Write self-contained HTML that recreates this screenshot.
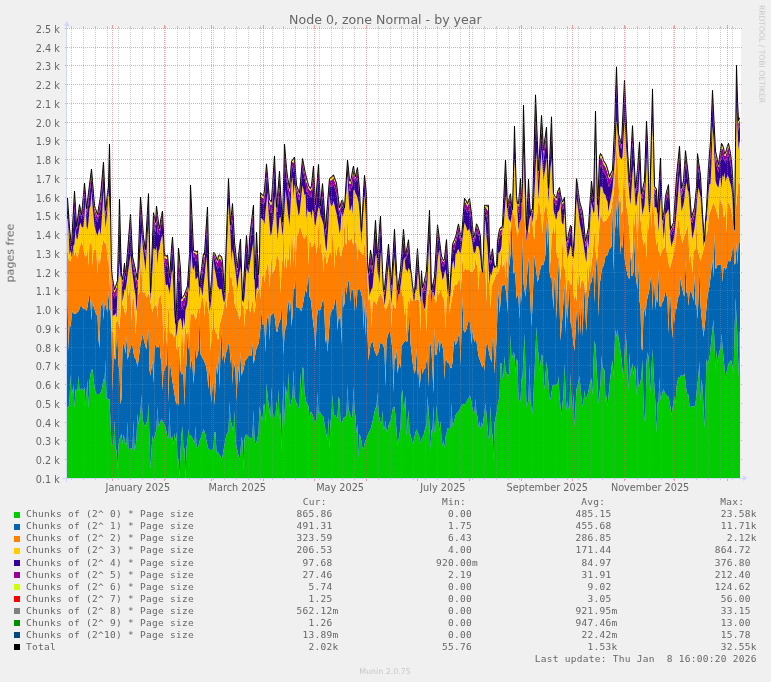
<!DOCTYPE html>
<html><head><meta charset="utf-8"><title>Node 0, zone Normal - by year</title>
<style>html,body{margin:0;padding:0;background:#f0f0f0;}svg{display:block;}</style></head>
<body><svg width="771" height="682" viewBox="0 0 771 682">
<rect width="771" height="682" fill="#f0f0f0"/>
<rect x="67" y="28" width="674" height="450" fill="#ffffff"/>
<polygon points="67,407.3 67.5,407.3 68.5,406.7 69.5,403.5 70.5,374.2 71.5,396.1 72.5,391.3 73.5,384.9 74.5,408.5 75.5,389.3 76.5,389.9 77.5,390.9 78.5,375.3 79.5,390.9 80.5,389.7 81.5,388.3 82.5,389.4 83.5,390.9 84.5,386.6 85.5,406.0 86.5,392.7 87.5,380.1 88.5,408.3 89.5,381.0 90.5,374.3 91.5,369.9 92.5,368.9 93.5,378.5 94.5,386.7 95.5,392.7 96.5,393.6 97.5,395.2 98.5,394.6 99.5,394.4 100.5,392.4 101.5,390.7 102.5,385.8 103.5,378.4 104.5,382.6 105.5,359.6 106.5,398.9 107.5,398.5 108.5,399.5 109.5,398.7 110.5,421.9 111.5,444.9 112.5,444.3 113.5,443.7 114.5,419.8 115.5,448.2 116.5,449.7 117.5,468.2 118.5,444.4 119.5,439.4 120.5,436.6 121.5,433.5 122.5,444.3 123.5,434.5 124.5,439.3 125.5,443.8 126.5,445.1 127.5,421.3 128.5,449.2 129.5,448.9 130.5,448.1 131.5,448.5 132.5,449.2 133.5,419.5 134.5,450.9 135.5,446.4 136.5,438.6 137.5,413.7 138.5,424.4 139.5,418.7 140.5,410.7 141.5,394.8 142.5,418.1 143.5,423.5 144.5,425.5 145.5,425.3 146.5,421.9 147.5,422.2 148.5,402.7 149.5,437.4 150.5,469.3 151.5,449.2 152.5,435.5 153.5,441.0 154.5,436.8 155.5,432.8 156.5,428.6 157.5,406.5 158.5,426.4 159.5,424.7 160.5,421.2 161.5,418.9 162.5,421.1 163.5,422.2 164.5,425.0 165.5,427.8 166.5,431.8 167.5,437.5 168.5,438.1 169.5,407.1 170.5,439.2 171.5,438.4 172.5,435.9 173.5,444.9 174.5,432.9 175.5,441.1 176.5,431.8 177.5,460.9 178.5,458.5 179.5,478.0 180.5,451.2 181.5,434.3 182.5,426.0 183.5,450.2 184.5,447.9 185.5,478.0 186.5,447.3 187.5,441.0 188.5,429.0 189.5,438.6 190.5,434.5 191.5,436.8 192.5,438.3 193.5,440.6 194.5,443.8 195.5,426.0 196.5,447.2 197.5,448.1 198.5,445.2 199.5,441.6 200.5,438.4 201.5,436.0 202.5,432.4 203.5,428.7 204.5,431.5 205.5,435.2 206.5,441.3 207.5,445.6 208.5,448.9 209.5,449.2 210.5,449.9 211.5,450.2 212.5,449.3 213.5,447.4 214.5,432.1 215.5,432.0 216.5,452.5 217.5,451.6 218.5,452.9 219.5,454.9 220.5,456.0 221.5,458.9 222.5,456.3 223.5,450.4 224.5,444.6 225.5,439.4 226.5,434.6 227.5,432.8 228.5,432.2 229.5,401.2 230.5,420.0 231.5,423.5 232.5,427.5 233.5,430.9 234.5,410.4 235.5,440.1 236.5,447.0 237.5,451.2 238.5,455.3 239.5,460.0 240.5,451.8 241.5,436.8 242.5,441.2 243.5,467.9 244.5,437.9 245.5,435.7 246.5,434.3 247.5,436.0 248.5,436.7 249.5,437.4 250.5,438.5 251.5,438.7 252.5,435.8 253.5,409.5 254.5,439.2 255.5,445.1 256.5,442.0 257.5,437.9 258.5,433.0 259.5,405.7 260.5,412.6 261.5,417.9 262.5,420.5 263.5,405.2 264.5,404.0 265.5,422.6 266.5,383.3 267.5,395.3 268.5,403.4 269.5,410.5 270.5,417.9 271.5,386.4 272.5,413.4 273.5,415.6 274.5,417.5 275.5,416.4 276.5,400.4 277.5,416.1 278.5,388.9 279.5,419.8 280.5,411.7 281.5,451.0 282.5,411.5 283.5,379.4 284.5,425.9 285.5,385.7 286.5,392.6 287.5,398.4 288.5,371.8 289.5,406.9 290.5,404.8 291.5,400.7 292.5,397.6 293.5,369.0 294.5,396.7 295.5,400.4 296.5,402.8 297.5,404.6 298.5,408.4 299.5,407.8 300.5,372.2 301.5,398.1 302.5,367.1 303.5,368.5 304.5,393.0 305.5,398.1 306.5,403.1 307.5,404.4 308.5,406.0 309.5,419.3 310.5,411.4 311.5,412.5 312.5,414.7 313.5,417.8 314.5,422.1 315.5,421.4 316.5,418.4 317.5,391.6 318.5,414.1 319.5,411.5 320.5,412.8 321.5,414.9 322.5,415.9 323.5,417.0 324.5,424.6 325.5,431.0 326.5,434.8 327.5,440.2 328.5,416.9 329.5,448.2 330.5,421.4 331.5,415.2 332.5,394.3 333.5,414.5 334.5,414.9 335.5,415.6 336.5,418.1 337.5,418.3 338.5,396.4 339.5,399.8 340.5,421.9 341.5,421.9 342.5,421.3 343.5,418.1 344.5,417.3 345.5,416.7 346.5,414.4 347.5,384.8 348.5,410.8 349.5,411.7 350.5,415.9 351.5,419.2 352.5,414.8 353.5,386.5 354.5,410.1 355.5,417.0 356.5,433.2 357.5,424.1 358.5,458.8 359.5,433.7 360.5,436.7 361.5,441.8 362.5,448.0 363.5,448.9 364.5,444.1 365.5,441.0 366.5,438.3 367.5,436.0 368.5,432.9 369.5,431.3 370.5,429.3 371.5,425.8 372.5,421.8 373.5,417.6 374.5,412.3 375.5,408.0 376.5,406.9 377.5,392.1 378.5,414.2 379.5,418.4 380.5,422.4 381.5,424.2 382.5,410.2 383.5,429.9 384.5,428.8 385.5,420.3 386.5,431.2 387.5,431.2 388.5,425.5 389.5,422.4 390.5,421.0 391.5,416.8 392.5,409.5 393.5,406.9 394.5,406.8 395.5,417.7 396.5,429.5 397.5,444.9 398.5,439.9 399.5,433.8 400.5,428.0 401.5,394.5 402.5,389.7 403.5,411.2 404.5,405.0 405.5,395.9 406.5,436.4 407.5,422.1 408.5,409.8 409.5,432.4 410.5,434.6 411.5,439.5 412.5,443.0 413.5,441.8 414.5,436.8 415.5,432.4 416.5,429.3 417.5,432.3 418.5,434.1 419.5,437.4 420.5,442.8 421.5,439.4 422.5,436.9 423.5,435.7 424.5,431.3 425.5,426.7 426.5,426.4 427.5,395.9 428.5,410.1 429.5,424.0 430.5,450.0 431.5,429.6 432.5,431.5 433.5,405.6 434.5,433.0 435.5,430.5 436.5,404.6 437.5,420.9 438.5,421.1 439.5,431.3 440.5,420.6 441.5,439.4 442.5,444.9 443.5,440.7 444.5,448.1 445.5,436.4 446.5,433.6 447.5,428.3 448.5,428.6 449.5,429.3 450.5,427.7 451.5,402.8 452.5,426.5 453.5,424.0 454.5,419.9 455.5,415.2 456.5,413.7 457.5,412.5 458.5,411.6 459.5,410.0 460.5,407.8 461.5,405.4 462.5,404.3 463.5,404.4 464.5,404.3 465.5,404.1 466.5,401.7 467.5,399.8 468.5,398.7 469.5,395.2 470.5,397.3 471.5,402.2 472.5,408.7 473.5,412.4 474.5,412.1 475.5,398.7 476.5,414.6 477.5,416.1 478.5,427.7 479.5,421.1 480.5,429.6 481.5,422.5 482.5,425.9 483.5,419.2 484.5,411.4 485.5,403.8 486.5,415.1 487.5,427.7 488.5,439.1 489.5,436.2 490.5,405.1 491.5,432.6 492.5,434.5 493.5,461.8 494.5,423.0 495.5,418.3 496.5,413.2 497.5,406.8 498.5,400.4 499.5,396.4 500.5,363.3 501.5,362.9 502.5,380.0 503.5,375.3 504.5,356.0 505.5,372.3 506.5,372.4 507.5,374.7 508.5,376.1 509.5,371.5 510.5,333.9 511.5,361.3 512.5,356.1 513.5,352.2 514.5,354.5 515.5,372.3 516.5,359.0 517.5,360.7 518.5,399.1 519.5,400.9 520.5,401.6 521.5,378.3 522.5,378.6 523.5,355.9 524.5,333.6 525.5,370.7 526.5,407.1 527.5,403.3 528.5,400.1 529.5,364.0 530.5,401.4 531.5,408.0 532.5,414.0 533.5,393.4 534.5,372.0 535.5,349.7 536.5,326.5 537.5,349.4 538.5,353.3 539.5,371.3 540.5,363.0 541.5,354.6 542.5,355.7 543.5,378.5 544.5,389.8 545.5,375.4 546.5,361.2 547.5,372.0 548.5,383.4 549.5,398.7 550.5,399.8 551.5,392.8 552.5,385.8 553.5,384.6 554.5,384.9 555.5,385.9 556.5,383.7 557.5,385.7 558.5,375.9 559.5,396.7 560.5,406.8 561.5,415.2 562.5,403.8 563.5,394.4 564.5,363.7 565.5,388.5 566.5,411.3 567.5,401.0 568.5,409.0 569.5,407.1 570.5,372.9 571.5,402.0 572.5,410.2 573.5,393.8 574.5,427.0 575.5,407.2 576.5,388.6 577.5,386.3 578.5,381.5 579.5,375.7 580.5,387.5 581.5,398.8 582.5,406.3 583.5,402.3 584.5,389.9 585.5,399.6 586.5,397.4 587.5,395.3 588.5,390.7 589.5,385.8 590.5,381.6 591.5,377.8 592.5,395.4 593.5,362.1 594.5,340.6 595.5,345.8 596.5,364.4 597.5,384.0 598.5,404.1 599.5,393.3 600.5,382.8 601.5,355.3 602.5,368.1 603.5,368.2 604.5,370.8 605.5,402.2 606.5,394.9 607.5,406.6 608.5,396.3 609.5,386.0 610.5,377.0 611.5,367.0 612.5,360.3 613.5,376.9 614.5,349.8 615.5,329.3 616.5,336.2 617.5,329.7 618.5,337.9 619.5,344.0 620.5,351.0 621.5,359.4 622.5,370.0 623.5,378.6 624.5,354.3 625.5,332.6 626.5,343.7 627.5,372.7 628.5,390.8 629.5,352.3 630.5,377.2 631.5,370.1 632.5,363.0 633.5,375.1 634.5,365.6 635.5,369.4 636.5,396.5 637.5,364.6 638.5,386.8 639.5,385.1 640.5,381.9 641.5,374.7 642.5,359.5 643.5,403.3 644.5,419.9 645.5,420.4 646.5,362.8 647.5,352.3 648.5,356.4 649.5,373.4 650.5,392.1 651.5,368.7 652.5,348.9 653.5,371.2 654.5,389.6 655.5,404.2 656.5,433.0 657.5,402.1 658.5,403.1 659.5,377.0 660.5,400.5 661.5,396.4 662.5,392.3 663.5,388.7 664.5,392.0 665.5,394.4 666.5,395.0 667.5,396.6 668.5,396.7 669.5,401.9 670.5,407.6 671.5,415.4 672.5,408.6 673.5,401.8 674.5,396.0 675.5,403.9 676.5,386.5 677.5,381.7 678.5,377.0 679.5,378.3 680.5,376.0 681.5,374.7 682.5,376.1 683.5,375.5 684.5,373.2 685.5,382.7 686.5,390.0 687.5,395.6 688.5,394.4 689.5,406.9 690.5,406.9 691.5,406.5 692.5,406.3 693.5,406.6 694.5,405.9 695.5,404.6 696.5,392.8 697.5,384.2 698.5,374.4 699.5,361.0 700.5,402.8 701.5,379.3 702.5,386.9 703.5,406.8 704.5,427.7 705.5,397.7 706.5,358.6 707.5,363.5 708.5,360.7 709.5,358.2 710.5,348.2 711.5,338.3 712.5,329.1 713.5,319.5 714.5,343.3 715.5,369.5 716.5,350.3 717.5,363.1 718.5,355.8 719.5,350.9 720.5,348.7 721.5,333.5 722.5,346.7 723.5,357.3 724.5,367.7 725.5,378.4 726.5,372.5 727.5,368.2 728.5,363.9 729.5,361.9 730.5,360.6 731.5,361.0 732.5,366.6 733.5,373.1 734.5,336.5 735.5,297.2 736.5,318.6 737.5,338.1 738.5,377.5 739.5,331.5 740,331.5 740,478.0 739.5,478.0 738.5,478.0 737.5,478.0 736.5,478.0 735.5,478.0 734.5,478.0 733.5,478.0 732.5,478.0 731.5,478.0 730.5,478.0 729.5,478.0 728.5,478.0 727.5,478.0 726.5,478.0 725.5,478.0 724.5,478.0 723.5,478.0 722.5,478.0 721.5,478.0 720.5,478.0 719.5,478.0 718.5,478.0 717.5,478.0 716.5,478.0 715.5,478.0 714.5,478.0 713.5,478.0 712.5,478.0 711.5,478.0 710.5,478.0 709.5,478.0 708.5,478.0 707.5,478.0 706.5,478.0 705.5,478.0 704.5,478.0 703.5,478.0 702.5,478.0 701.5,478.0 700.5,478.0 699.5,478.0 698.5,478.0 697.5,478.0 696.5,478.0 695.5,478.0 694.5,478.0 693.5,478.0 692.5,478.0 691.5,478.0 690.5,478.0 689.5,478.0 688.5,478.0 687.5,478.0 686.5,478.0 685.5,478.0 684.5,478.0 683.5,478.0 682.5,478.0 681.5,478.0 680.5,478.0 679.5,478.0 678.5,478.0 677.5,478.0 676.5,478.0 675.5,478.0 674.5,478.0 673.5,478.0 672.5,478.0 671.5,478.0 670.5,478.0 669.5,478.0 668.5,478.0 667.5,478.0 666.5,478.0 665.5,478.0 664.5,478.0 663.5,478.0 662.5,478.0 661.5,478.0 660.5,478.0 659.5,478.0 658.5,478.0 657.5,478.0 656.5,478.0 655.5,478.0 654.5,478.0 653.5,478.0 652.5,478.0 651.5,478.0 650.5,478.0 649.5,478.0 648.5,478.0 647.5,478.0 646.5,478.0 645.5,478.0 644.5,478.0 643.5,478.0 642.5,478.0 641.5,478.0 640.5,478.0 639.5,478.0 638.5,478.0 637.5,478.0 636.5,478.0 635.5,478.0 634.5,478.0 633.5,478.0 632.5,478.0 631.5,478.0 630.5,478.0 629.5,478.0 628.5,478.0 627.5,478.0 626.5,478.0 625.5,478.0 624.5,478.0 623.5,478.0 622.5,478.0 621.5,478.0 620.5,478.0 619.5,478.0 618.5,478.0 617.5,478.0 616.5,478.0 615.5,478.0 614.5,478.0 613.5,478.0 612.5,478.0 611.5,478.0 610.5,478.0 609.5,478.0 608.5,478.0 607.5,478.0 606.5,478.0 605.5,478.0 604.5,478.0 603.5,478.0 602.5,478.0 601.5,478.0 600.5,478.0 599.5,478.0 598.5,478.0 597.5,478.0 596.5,478.0 595.5,478.0 594.5,478.0 593.5,478.0 592.5,478.0 591.5,478.0 590.5,478.0 589.5,478.0 588.5,478.0 587.5,478.0 586.5,478.0 585.5,478.0 584.5,478.0 583.5,478.0 582.5,478.0 581.5,478.0 580.5,478.0 579.5,478.0 578.5,478.0 577.5,478.0 576.5,478.0 575.5,478.0 574.5,478.0 573.5,478.0 572.5,478.0 571.5,478.0 570.5,478.0 569.5,478.0 568.5,478.0 567.5,478.0 566.5,478.0 565.5,478.0 564.5,478.0 563.5,478.0 562.5,478.0 561.5,478.0 560.5,478.0 559.5,478.0 558.5,478.0 557.5,478.0 556.5,478.0 555.5,478.0 554.5,478.0 553.5,478.0 552.5,478.0 551.5,478.0 550.5,478.0 549.5,478.0 548.5,478.0 547.5,478.0 546.5,478.0 545.5,478.0 544.5,478.0 543.5,478.0 542.5,478.0 541.5,478.0 540.5,478.0 539.5,478.0 538.5,478.0 537.5,478.0 536.5,478.0 535.5,478.0 534.5,478.0 533.5,478.0 532.5,478.0 531.5,478.0 530.5,478.0 529.5,478.0 528.5,478.0 527.5,478.0 526.5,478.0 525.5,478.0 524.5,478.0 523.5,478.0 522.5,478.0 521.5,478.0 520.5,478.0 519.5,478.0 518.5,478.0 517.5,478.0 516.5,478.0 515.5,478.0 514.5,478.0 513.5,478.0 512.5,478.0 511.5,478.0 510.5,478.0 509.5,478.0 508.5,478.0 507.5,478.0 506.5,478.0 505.5,478.0 504.5,478.0 503.5,478.0 502.5,478.0 501.5,478.0 500.5,478.0 499.5,478.0 498.5,478.0 497.5,478.0 496.5,478.0 495.5,478.0 494.5,478.0 493.5,478.0 492.5,478.0 491.5,478.0 490.5,478.0 489.5,478.0 488.5,478.0 487.5,478.0 486.5,478.0 485.5,478.0 484.5,478.0 483.5,478.0 482.5,478.0 481.5,478.0 480.5,478.0 479.5,478.0 478.5,478.0 477.5,478.0 476.5,478.0 475.5,478.0 474.5,478.0 473.5,478.0 472.5,478.0 471.5,478.0 470.5,478.0 469.5,478.0 468.5,478.0 467.5,478.0 466.5,478.0 465.5,478.0 464.5,478.0 463.5,478.0 462.5,478.0 461.5,478.0 460.5,478.0 459.5,478.0 458.5,478.0 457.5,478.0 456.5,478.0 455.5,478.0 454.5,478.0 453.5,478.0 452.5,478.0 451.5,478.0 450.5,478.0 449.5,478.0 448.5,478.0 447.5,478.0 446.5,478.0 445.5,478.0 444.5,478.0 443.5,478.0 442.5,478.0 441.5,478.0 440.5,478.0 439.5,478.0 438.5,478.0 437.5,478.0 436.5,478.0 435.5,478.0 434.5,478.0 433.5,478.0 432.5,478.0 431.5,478.0 430.5,478.0 429.5,478.0 428.5,478.0 427.5,478.0 426.5,478.0 425.5,478.0 424.5,478.0 423.5,478.0 422.5,478.0 421.5,478.0 420.5,478.0 419.5,478.0 418.5,478.0 417.5,478.0 416.5,478.0 415.5,478.0 414.5,478.0 413.5,478.0 412.5,478.0 411.5,478.0 410.5,478.0 409.5,478.0 408.5,478.0 407.5,478.0 406.5,478.0 405.5,478.0 404.5,478.0 403.5,478.0 402.5,478.0 401.5,478.0 400.5,478.0 399.5,478.0 398.5,478.0 397.5,478.0 396.5,478.0 395.5,478.0 394.5,478.0 393.5,478.0 392.5,478.0 391.5,478.0 390.5,478.0 389.5,478.0 388.5,478.0 387.5,478.0 386.5,478.0 385.5,478.0 384.5,478.0 383.5,478.0 382.5,478.0 381.5,478.0 380.5,478.0 379.5,478.0 378.5,478.0 377.5,478.0 376.5,478.0 375.5,478.0 374.5,478.0 373.5,478.0 372.5,478.0 371.5,478.0 370.5,478.0 369.5,478.0 368.5,478.0 367.5,478.0 366.5,478.0 365.5,478.0 364.5,478.0 363.5,478.0 362.5,478.0 361.5,478.0 360.5,478.0 359.5,478.0 358.5,478.0 357.5,478.0 356.5,478.0 355.5,478.0 354.5,478.0 353.5,478.0 352.5,478.0 351.5,478.0 350.5,478.0 349.5,478.0 348.5,478.0 347.5,478.0 346.5,478.0 345.5,478.0 344.5,478.0 343.5,478.0 342.5,478.0 341.5,478.0 340.5,478.0 339.5,478.0 338.5,478.0 337.5,478.0 336.5,478.0 335.5,478.0 334.5,478.0 333.5,478.0 332.5,478.0 331.5,478.0 330.5,478.0 329.5,478.0 328.5,478.0 327.5,478.0 326.5,478.0 325.5,478.0 324.5,478.0 323.5,478.0 322.5,478.0 321.5,478.0 320.5,478.0 319.5,478.0 318.5,478.0 317.5,478.0 316.5,478.0 315.5,478.0 314.5,478.0 313.5,478.0 312.5,478.0 311.5,478.0 310.5,478.0 309.5,478.0 308.5,478.0 307.5,478.0 306.5,478.0 305.5,478.0 304.5,478.0 303.5,478.0 302.5,478.0 301.5,478.0 300.5,478.0 299.5,478.0 298.5,478.0 297.5,478.0 296.5,478.0 295.5,478.0 294.5,478.0 293.5,478.0 292.5,478.0 291.5,478.0 290.5,478.0 289.5,478.0 288.5,478.0 287.5,478.0 286.5,478.0 285.5,478.0 284.5,478.0 283.5,478.0 282.5,478.0 281.5,478.0 280.5,478.0 279.5,478.0 278.5,478.0 277.5,478.0 276.5,478.0 275.5,478.0 274.5,478.0 273.5,478.0 272.5,478.0 271.5,478.0 270.5,478.0 269.5,478.0 268.5,478.0 267.5,478.0 266.5,478.0 265.5,478.0 264.5,478.0 263.5,478.0 262.5,478.0 261.5,478.0 260.5,478.0 259.5,478.0 258.5,478.0 257.5,478.0 256.5,478.0 255.5,478.0 254.5,478.0 253.5,478.0 252.5,478.0 251.5,478.0 250.5,478.0 249.5,478.0 248.5,478.0 247.5,478.0 246.5,478.0 245.5,478.0 244.5,478.0 243.5,478.0 242.5,478.0 241.5,478.0 240.5,478.0 239.5,478.0 238.5,478.0 237.5,478.0 236.5,478.0 235.5,478.0 234.5,478.0 233.5,478.0 232.5,478.0 231.5,478.0 230.5,478.0 229.5,478.0 228.5,478.0 227.5,478.0 226.5,478.0 225.5,478.0 224.5,478.0 223.5,478.0 222.5,478.0 221.5,478.0 220.5,478.0 219.5,478.0 218.5,478.0 217.5,478.0 216.5,478.0 215.5,478.0 214.5,478.0 213.5,478.0 212.5,478.0 211.5,478.0 210.5,478.0 209.5,478.0 208.5,478.0 207.5,478.0 206.5,478.0 205.5,478.0 204.5,478.0 203.5,478.0 202.5,478.0 201.5,478.0 200.5,478.0 199.5,478.0 198.5,478.0 197.5,478.0 196.5,478.0 195.5,478.0 194.5,478.0 193.5,478.0 192.5,478.0 191.5,478.0 190.5,478.0 189.5,478.0 188.5,478.0 187.5,478.0 186.5,478.0 185.5,478.0 184.5,478.0 183.5,478.0 182.5,478.0 181.5,478.0 180.5,478.0 179.5,478.0 178.5,478.0 177.5,478.0 176.5,478.0 175.5,478.0 174.5,478.0 173.5,478.0 172.5,478.0 171.5,478.0 170.5,478.0 169.5,478.0 168.5,478.0 167.5,478.0 166.5,478.0 165.5,478.0 164.5,478.0 163.5,478.0 162.5,478.0 161.5,478.0 160.5,478.0 159.5,478.0 158.5,478.0 157.5,478.0 156.5,478.0 155.5,478.0 154.5,478.0 153.5,478.0 152.5,478.0 151.5,478.0 150.5,478.0 149.5,478.0 148.5,478.0 147.5,478.0 146.5,478.0 145.5,478.0 144.5,478.0 143.5,478.0 142.5,478.0 141.5,478.0 140.5,478.0 139.5,478.0 138.5,478.0 137.5,478.0 136.5,478.0 135.5,478.0 134.5,478.0 133.5,478.0 132.5,478.0 131.5,478.0 130.5,478.0 129.5,478.0 128.5,478.0 127.5,478.0 126.5,478.0 125.5,478.0 124.5,478.0 123.5,478.0 122.5,478.0 121.5,478.0 120.5,478.0 119.5,478.0 118.5,478.0 117.5,478.0 116.5,478.0 115.5,478.0 114.5,478.0 113.5,478.0 112.5,478.0 111.5,478.0 110.5,478.0 109.5,478.0 108.5,478.0 107.5,478.0 106.5,478.0 105.5,478.0 104.5,478.0 103.5,478.0 102.5,478.0 101.5,478.0 100.5,478.0 99.5,478.0 98.5,478.0 97.5,478.0 96.5,478.0 95.5,478.0 94.5,478.0 93.5,478.0 92.5,478.0 91.5,478.0 90.5,478.0 89.5,478.0 88.5,478.0 87.5,478.0 86.5,478.0 85.5,478.0 84.5,478.0 83.5,478.0 82.5,478.0 81.5,478.0 80.5,478.0 79.5,478.0 78.5,478.0 77.5,478.0 76.5,478.0 75.5,478.0 74.5,478.0 73.5,478.0 72.5,478.0 71.5,478.0 70.5,478.0 69.5,478.0 68.5,478.0 67.5,478.0 67,478.0" fill="#00CC00"/>
<polygon points="67,294.2 67.5,294.2 68.5,350.9 69.5,321.1 70.5,327.6 71.5,317.8 72.5,310.6 73.5,313.2 74.5,314.1 75.5,313.8 76.5,313.2 77.5,312.1 78.5,311.2 79.5,309.3 80.5,306.0 81.5,306.0 82.5,308.3 83.5,308.4 84.5,308.7 85.5,309.4 86.5,311.1 87.5,307.0 88.5,300.6 89.5,293.1 90.5,302.4 91.5,320.6 92.5,300.5 93.5,306.3 94.5,308.9 95.5,312.3 96.5,315.1 97.5,315.3 98.5,339.5 99.5,348.3 100.5,307.5 101.5,304.8 102.5,300.5 103.5,320.0 104.5,303.8 105.5,304.2 106.5,308.2 107.5,312.6 108.5,290.0 109.5,310.6 110.5,309.1 111.5,332.5 112.5,392.2 113.5,356.4 114.5,358.3 115.5,359.8 116.5,341.8 117.5,334.5 118.5,366.2 119.5,369.3 120.5,404.4 121.5,398.5 122.5,347.3 123.5,343.3 124.5,346.4 125.5,354.1 126.5,335.6 127.5,359.8 128.5,356.1 129.5,351.3 130.5,348.5 131.5,343.9 132.5,346.0 133.5,352.7 134.5,357.2 135.5,358.3 136.5,361.8 137.5,366.9 138.5,360.1 139.5,351.9 140.5,344.6 141.5,339.4 142.5,334.1 143.5,338.2 144.5,342.4 145.5,346.2 146.5,349.6 147.5,336.8 148.5,329.0 149.5,369.8 150.5,375.7 151.5,367.2 152.5,361.1 153.5,383.2 154.5,348.9 155.5,343.4 156.5,347.4 157.5,346.8 158.5,347.4 159.5,340.7 160.5,357.6 161.5,362.0 162.5,390.7 163.5,370.2 164.5,370.8 165.5,366.7 166.5,365.8 167.5,334.1 168.5,403.3 169.5,362.2 170.5,365.8 171.5,374.8 172.5,381.9 173.5,387.8 174.5,393.9 175.5,400.4 176.5,404.6 177.5,401.7 178.5,405.8 179.5,350.3 180.5,371.0 181.5,374.4 182.5,373.3 183.5,374.9 184.5,406.5 185.5,371.2 186.5,364.1 187.5,331.9 188.5,349.9 189.5,343.4 190.5,370.0 191.5,358.3 192.5,364.9 193.5,383.9 194.5,369.2 195.5,344.1 196.5,359.1 197.5,354.3 198.5,350.3 199.5,314.6 200.5,354.2 201.5,356.1 202.5,357.9 203.5,359.6 204.5,362.3 205.5,364.6 206.5,368.4 207.5,377.1 208.5,389.2 209.5,364.4 210.5,391.9 211.5,402.5 212.5,385.7 213.5,379.7 214.5,405.6 215.5,385.3 216.5,364.2 217.5,375.0 218.5,355.1 219.5,388.9 220.5,348.5 221.5,327.9 222.5,360.8 223.5,352.4 224.5,364.0 225.5,355.0 226.5,351.4 227.5,348.5 228.5,343.3 229.5,345.7 230.5,364.0 231.5,352.5 232.5,384.9 233.5,360.7 234.5,365.3 235.5,370.9 236.5,401.2 237.5,378.7 238.5,366.0 239.5,383.8 240.5,351.5 241.5,375.8 242.5,372.3 243.5,369.4 244.5,363.9 245.5,359.4 246.5,359.3 247.5,357.7 248.5,355.6 249.5,355.0 250.5,355.9 251.5,355.4 252.5,341.9 253.5,363.8 254.5,359.8 255.5,353.0 256.5,348.6 257.5,346.1 258.5,344.1 259.5,336.6 260.5,328.0 261.5,309.9 262.5,324.5 263.5,324.6 264.5,326.5 265.5,352.6 266.5,322.1 267.5,317.5 268.5,315.2 269.5,340.9 270.5,314.1 271.5,315.5 272.5,313.5 273.5,312.5 274.5,315.5 275.5,323.9 276.5,331.5 277.5,331.7 278.5,324.7 279.5,322.2 280.5,319.3 281.5,304.7 282.5,326.1 283.5,355.0 284.5,332.0 285.5,329.1 286.5,324.8 287.5,306.4 288.5,300.1 289.5,312.0 290.5,299.1 291.5,326.6 292.5,315.8 293.5,287.8 294.5,289.0 295.5,274.4 296.5,307.2 297.5,307.4 298.5,307.6 299.5,308.1 300.5,309.7 301.5,311.3 302.5,306.3 303.5,301.0 304.5,294.8 305.5,289.4 306.5,293.0 307.5,282.7 308.5,274.1 309.5,297.1 310.5,297.9 311.5,305.7 312.5,316.7 313.5,325.5 314.5,331.8 315.5,351.6 316.5,322.6 317.5,312.6 318.5,309.0 319.5,310.9 320.5,309.2 321.5,305.8 322.5,300.9 323.5,298.1 324.5,315.9 325.5,343.1 326.5,337.3 327.5,351.9 328.5,338.3 329.5,323.9 330.5,312.3 331.5,311.6 332.5,308.9 333.5,308.8 334.5,303.8 335.5,297.5 336.5,302.9 337.5,330.7 338.5,316.7 339.5,319.5 340.5,314.2 341.5,345.0 342.5,286.0 343.5,307.7 344.5,303.2 345.5,282.2 346.5,294.9 347.5,284.5 348.5,280.2 349.5,283.8 350.5,302.4 351.5,287.4 352.5,290.5 353.5,289.6 354.5,312.1 355.5,289.0 356.5,309.6 357.5,287.0 358.5,289.7 359.5,288.8 360.5,290.8 361.5,295.2 362.5,297.7 363.5,329.3 364.5,299.1 365.5,336.3 366.5,306.4 367.5,334.2 368.5,360.9 369.5,352.1 370.5,344.5 371.5,342.9 372.5,340.7 373.5,345.9 374.5,350.7 375.5,352.6 376.5,356.3 377.5,354.1 378.5,351.9 379.5,347.5 380.5,342.0 381.5,343.6 382.5,344.1 383.5,346.1 384.5,349.1 385.5,387.1 386.5,341.5 387.5,336.2 388.5,333.5 389.5,330.4 390.5,335.1 391.5,342.5 392.5,350.0 393.5,392.8 394.5,355.4 395.5,359.4 396.5,348.2 397.5,373.4 398.5,366.8 399.5,361.8 400.5,368.3 401.5,345.7 402.5,344.5 403.5,343.1 404.5,341.5 405.5,340.4 406.5,341.7 407.5,341.3 408.5,326.8 409.5,311.7 410.5,343.4 411.5,352.1 412.5,361.4 413.5,368.4 414.5,373.8 415.5,369.8 416.5,347.8 417.5,375.7 418.5,369.6 419.5,388.4 420.5,378.1 421.5,364.3 422.5,374.3 423.5,370.2 424.5,368.7 425.5,367.4 426.5,360.9 427.5,354.9 428.5,387.5 429.5,344.0 430.5,343.5 431.5,349.9 432.5,369.9 433.5,393.8 434.5,326.5 435.5,355.2 436.5,354.4 437.5,346.7 438.5,339.1 439.5,353.1 440.5,341.7 441.5,342.6 442.5,346.3 443.5,352.5 444.5,380.1 445.5,356.5 446.5,360.3 447.5,363.0 448.5,362.8 449.5,365.0 450.5,367.7 451.5,368.2 452.5,362.1 453.5,346.8 454.5,338.7 455.5,345.3 456.5,343.1 457.5,340.4 458.5,335.2 459.5,331.9 460.5,365.5 461.5,329.3 462.5,296.5 463.5,329.9 464.5,332.6 465.5,331.5 466.5,328.9 467.5,324.6 468.5,321.1 469.5,320.9 470.5,327.3 471.5,344.5 472.5,329.2 473.5,337.9 474.5,342.2 475.5,339.4 476.5,341.3 477.5,349.1 478.5,355.9 479.5,359.1 480.5,361.8 481.5,364.9 482.5,367.5 483.5,363.2 484.5,371.0 485.5,353.3 486.5,344.4 487.5,343.0 488.5,349.6 489.5,355.0 490.5,358.3 491.5,362.4 492.5,338.4 493.5,339.7 494.5,374.3 495.5,353.7 496.5,341.8 497.5,309.2 498.5,289.1 499.5,313.3 500.5,302.6 501.5,286.7 502.5,285.6 503.5,285.3 504.5,284.0 505.5,288.1 506.5,294.7 507.5,313.1 508.5,272.1 509.5,263.2 510.5,254.2 511.5,217.1 512.5,249.7 513.5,273.9 514.5,271.1 515.5,277.7 516.5,298.7 517.5,294.4 518.5,296.7 519.5,319.4 520.5,292.2 521.5,302.3 522.5,235.4 523.5,283.0 524.5,289.4 525.5,296.9 526.5,283.6 527.5,269.4 528.5,257.1 529.5,281.9 530.5,303.8 531.5,327.1 532.5,303.5 533.5,277.9 534.5,254.1 535.5,264.9 536.5,272.4 537.5,282.0 538.5,279.1 539.5,273.0 540.5,268.4 541.5,265.1 542.5,264.5 543.5,265.1 544.5,259.9 545.5,254.2 546.5,219.3 547.5,248.3 548.5,219.6 549.5,271.1 550.5,278.5 551.5,275.1 552.5,293.7 553.5,309.1 554.5,277.4 555.5,283.7 556.5,319.6 557.5,290.2 558.5,256.8 559.5,301.3 560.5,340.9 561.5,328.2 562.5,316.1 563.5,299.4 564.5,282.8 565.5,333.9 566.5,303.7 567.5,320.1 568.5,298.9 569.5,280.9 570.5,322.4 571.5,325.5 572.5,335.3 573.5,343.5 574.5,350.9 575.5,332.4 576.5,312.9 577.5,308.6 578.5,336.2 579.5,300.0 580.5,335.5 581.5,299.0 582.5,336.5 583.5,309.0 584.5,284.2 585.5,316.0 586.5,331.2 587.5,302.4 588.5,295.5 589.5,288.3 590.5,283.1 591.5,281.9 592.5,276.0 593.5,266.8 594.5,303.0 595.5,273.0 596.5,259.9 597.5,257.3 598.5,317.3 599.5,284.5 600.5,279.3 601.5,271.2 602.5,267.3 603.5,265.9 604.5,261.9 605.5,256.1 606.5,255.8 607.5,255.0 608.5,251.2 609.5,248.3 610.5,248.2 611.5,246.6 612.5,201.7 613.5,271.2 614.5,233.2 615.5,225.1 616.5,201.6 617.5,230.4 618.5,192.7 619.5,224.2 620.5,254.6 621.5,242.7 622.5,248.6 623.5,222.8 624.5,257.9 625.5,264.1 626.5,269.8 627.5,274.7 628.5,278.0 629.5,278.8 630.5,249.3 631.5,276.2 632.5,275.6 633.5,272.1 634.5,236.4 635.5,274.5 636.5,281.7 637.5,289.8 638.5,261.8 639.5,300.9 640.5,306.5 641.5,348.4 642.5,350.6 643.5,312.1 644.5,308.1 645.5,317.3 646.5,302.2 647.5,298.0 648.5,293.5 649.5,289.0 650.5,279.5 651.5,273.3 652.5,310.9 653.5,282.1 654.5,286.8 655.5,309.2 656.5,297.5 657.5,303.1 658.5,269.1 659.5,305.6 660.5,307.3 661.5,305.2 662.5,302.1 663.5,300.4 664.5,296.0 665.5,290.6 666.5,295.3 667.5,299.1 668.5,333.9 669.5,298.0 670.5,297.3 671.5,324.8 672.5,338.8 673.5,312.3 674.5,323.5 675.5,306.8 676.5,309.4 677.5,300.3 678.5,296.5 679.5,294.8 680.5,276.4 681.5,285.4 682.5,289.3 683.5,294.8 684.5,296.2 685.5,259.4 686.5,293.3 687.5,291.6 688.5,306.2 689.5,293.1 690.5,291.1 691.5,292.4 692.5,296.0 693.5,300.9 694.5,274.4 695.5,304.9 696.5,303.9 697.5,319.5 698.5,296.4 699.5,267.5 700.5,305.6 701.5,316.6 702.5,326.1 703.5,337.0 704.5,327.6 705.5,318.1 706.5,307.3 707.5,295.5 708.5,291.0 709.5,286.1 710.5,277.2 711.5,268.3 712.5,259.7 713.5,277.6 714.5,231.7 715.5,269.0 716.5,268.1 717.5,264.9 718.5,264.8 719.5,264.4 720.5,264.4 721.5,265.3 722.5,282.3 723.5,267.4 724.5,267.6 725.5,269.8 726.5,267.7 727.5,262.4 728.5,260.8 729.5,261.4 730.5,260.9 731.5,255.1 732.5,249.3 733.5,243.4 734.5,264.9 735.5,263.1 736.5,243.3 737.5,264.8 738.5,243.1 739.5,242.9 740,242.9 740,331.5 739.5,331.5 738.5,377.5 737.5,338.1 736.5,318.6 735.5,297.2 734.5,336.5 733.5,373.1 732.5,366.6 731.5,361.0 730.5,360.6 729.5,361.9 728.5,363.9 727.5,368.2 726.5,372.5 725.5,378.4 724.5,367.7 723.5,357.3 722.5,346.7 721.5,333.5 720.5,348.7 719.5,350.9 718.5,355.8 717.5,363.1 716.5,350.3 715.5,369.5 714.5,343.3 713.5,319.5 712.5,329.1 711.5,338.3 710.5,348.2 709.5,358.2 708.5,360.7 707.5,363.5 706.5,358.6 705.5,397.7 704.5,427.7 703.5,406.8 702.5,386.9 701.5,379.3 700.5,402.8 699.5,361.0 698.5,374.4 697.5,384.2 696.5,392.8 695.5,404.6 694.5,405.9 693.5,406.6 692.5,406.3 691.5,406.5 690.5,406.9 689.5,406.9 688.5,394.4 687.5,395.6 686.5,390.0 685.5,382.7 684.5,373.2 683.5,375.5 682.5,376.1 681.5,374.7 680.5,376.0 679.5,378.3 678.5,377.0 677.5,381.7 676.5,386.5 675.5,403.9 674.5,396.0 673.5,401.8 672.5,408.6 671.5,415.4 670.5,407.6 669.5,401.9 668.5,396.7 667.5,396.6 666.5,395.0 665.5,394.4 664.5,392.0 663.5,388.7 662.5,392.3 661.5,396.4 660.5,400.5 659.5,377.0 658.5,403.1 657.5,402.1 656.5,433.0 655.5,404.2 654.5,389.6 653.5,371.2 652.5,348.9 651.5,368.7 650.5,392.1 649.5,373.4 648.5,356.4 647.5,352.3 646.5,362.8 645.5,420.4 644.5,419.9 643.5,403.3 642.5,359.5 641.5,374.7 640.5,381.9 639.5,385.1 638.5,386.8 637.5,364.6 636.5,396.5 635.5,369.4 634.5,365.6 633.5,375.1 632.5,363.0 631.5,370.1 630.5,377.2 629.5,352.3 628.5,390.8 627.5,372.7 626.5,343.7 625.5,332.6 624.5,354.3 623.5,378.6 622.5,370.0 621.5,359.4 620.5,351.0 619.5,344.0 618.5,337.9 617.5,329.7 616.5,336.2 615.5,329.3 614.5,349.8 613.5,376.9 612.5,360.3 611.5,367.0 610.5,377.0 609.5,386.0 608.5,396.3 607.5,406.6 606.5,394.9 605.5,402.2 604.5,370.8 603.5,368.2 602.5,368.1 601.5,355.3 600.5,382.8 599.5,393.3 598.5,404.1 597.5,384.0 596.5,364.4 595.5,345.8 594.5,340.6 593.5,362.1 592.5,395.4 591.5,377.8 590.5,381.6 589.5,385.8 588.5,390.7 587.5,395.3 586.5,397.4 585.5,399.6 584.5,389.9 583.5,402.3 582.5,406.3 581.5,398.8 580.5,387.5 579.5,375.7 578.5,381.5 577.5,386.3 576.5,388.6 575.5,407.2 574.5,427.0 573.5,393.8 572.5,410.2 571.5,402.0 570.5,372.9 569.5,407.1 568.5,409.0 567.5,401.0 566.5,411.3 565.5,388.5 564.5,363.7 563.5,394.4 562.5,403.8 561.5,415.2 560.5,406.8 559.5,396.7 558.5,375.9 557.5,385.7 556.5,383.7 555.5,385.9 554.5,384.9 553.5,384.6 552.5,385.8 551.5,392.8 550.5,399.8 549.5,398.7 548.5,383.4 547.5,372.0 546.5,361.2 545.5,375.4 544.5,389.8 543.5,378.5 542.5,355.7 541.5,354.6 540.5,363.0 539.5,371.3 538.5,353.3 537.5,349.4 536.5,326.5 535.5,349.7 534.5,372.0 533.5,393.4 532.5,414.0 531.5,408.0 530.5,401.4 529.5,364.0 528.5,400.1 527.5,403.3 526.5,407.1 525.5,370.7 524.5,333.6 523.5,355.9 522.5,378.6 521.5,378.3 520.5,401.6 519.5,400.9 518.5,399.1 517.5,360.7 516.5,359.0 515.5,372.3 514.5,354.5 513.5,352.2 512.5,356.1 511.5,361.3 510.5,333.9 509.5,371.5 508.5,376.1 507.5,374.7 506.5,372.4 505.5,372.3 504.5,356.0 503.5,375.3 502.5,380.0 501.5,362.9 500.5,363.3 499.5,396.4 498.5,400.4 497.5,406.8 496.5,413.2 495.5,418.3 494.5,423.0 493.5,461.8 492.5,434.5 491.5,432.6 490.5,405.1 489.5,436.2 488.5,439.1 487.5,427.7 486.5,415.1 485.5,403.8 484.5,411.4 483.5,419.2 482.5,425.9 481.5,422.5 480.5,429.6 479.5,421.1 478.5,427.7 477.5,416.1 476.5,414.6 475.5,398.7 474.5,412.1 473.5,412.4 472.5,408.7 471.5,402.2 470.5,397.3 469.5,395.2 468.5,398.7 467.5,399.8 466.5,401.7 465.5,404.1 464.5,404.3 463.5,404.4 462.5,404.3 461.5,405.4 460.5,407.8 459.5,410.0 458.5,411.6 457.5,412.5 456.5,413.7 455.5,415.2 454.5,419.9 453.5,424.0 452.5,426.5 451.5,402.8 450.5,427.7 449.5,429.3 448.5,428.6 447.5,428.3 446.5,433.6 445.5,436.4 444.5,448.1 443.5,440.7 442.5,444.9 441.5,439.4 440.5,420.6 439.5,431.3 438.5,421.1 437.5,420.9 436.5,404.6 435.5,430.5 434.5,433.0 433.5,405.6 432.5,431.5 431.5,429.6 430.5,450.0 429.5,424.0 428.5,410.1 427.5,395.9 426.5,426.4 425.5,426.7 424.5,431.3 423.5,435.7 422.5,436.9 421.5,439.4 420.5,442.8 419.5,437.4 418.5,434.1 417.5,432.3 416.5,429.3 415.5,432.4 414.5,436.8 413.5,441.8 412.5,443.0 411.5,439.5 410.5,434.6 409.5,432.4 408.5,409.8 407.5,422.1 406.5,436.4 405.5,395.9 404.5,405.0 403.5,411.2 402.5,389.7 401.5,394.5 400.5,428.0 399.5,433.8 398.5,439.9 397.5,444.9 396.5,429.5 395.5,417.7 394.5,406.8 393.5,406.9 392.5,409.5 391.5,416.8 390.5,421.0 389.5,422.4 388.5,425.5 387.5,431.2 386.5,431.2 385.5,420.3 384.5,428.8 383.5,429.9 382.5,410.2 381.5,424.2 380.5,422.4 379.5,418.4 378.5,414.2 377.5,392.1 376.5,406.9 375.5,408.0 374.5,412.3 373.5,417.6 372.5,421.8 371.5,425.8 370.5,429.3 369.5,431.3 368.5,432.9 367.5,436.0 366.5,438.3 365.5,441.0 364.5,444.1 363.5,448.9 362.5,448.0 361.5,441.8 360.5,436.7 359.5,433.7 358.5,458.8 357.5,424.1 356.5,433.2 355.5,417.0 354.5,410.1 353.5,386.5 352.5,414.8 351.5,419.2 350.5,415.9 349.5,411.7 348.5,410.8 347.5,384.8 346.5,414.4 345.5,416.7 344.5,417.3 343.5,418.1 342.5,421.3 341.5,421.9 340.5,421.9 339.5,399.8 338.5,396.4 337.5,418.3 336.5,418.1 335.5,415.6 334.5,414.9 333.5,414.5 332.5,394.3 331.5,415.2 330.5,421.4 329.5,448.2 328.5,416.9 327.5,440.2 326.5,434.8 325.5,431.0 324.5,424.6 323.5,417.0 322.5,415.9 321.5,414.9 320.5,412.8 319.5,411.5 318.5,414.1 317.5,391.6 316.5,418.4 315.5,421.4 314.5,422.1 313.5,417.8 312.5,414.7 311.5,412.5 310.5,411.4 309.5,419.3 308.5,406.0 307.5,404.4 306.5,403.1 305.5,398.1 304.5,393.0 303.5,368.5 302.5,367.1 301.5,398.1 300.5,372.2 299.5,407.8 298.5,408.4 297.5,404.6 296.5,402.8 295.5,400.4 294.5,396.7 293.5,369.0 292.5,397.6 291.5,400.7 290.5,404.8 289.5,406.9 288.5,371.8 287.5,398.4 286.5,392.6 285.5,385.7 284.5,425.9 283.5,379.4 282.5,411.5 281.5,451.0 280.5,411.7 279.5,419.8 278.5,388.9 277.5,416.1 276.5,400.4 275.5,416.4 274.5,417.5 273.5,415.6 272.5,413.4 271.5,386.4 270.5,417.9 269.5,410.5 268.5,403.4 267.5,395.3 266.5,383.3 265.5,422.6 264.5,404.0 263.5,405.2 262.5,420.5 261.5,417.9 260.5,412.6 259.5,405.7 258.5,433.0 257.5,437.9 256.5,442.0 255.5,445.1 254.5,439.2 253.5,409.5 252.5,435.8 251.5,438.7 250.5,438.5 249.5,437.4 248.5,436.7 247.5,436.0 246.5,434.3 245.5,435.7 244.5,437.9 243.5,467.9 242.5,441.2 241.5,436.8 240.5,451.8 239.5,460.0 238.5,455.3 237.5,451.2 236.5,447.0 235.5,440.1 234.5,410.4 233.5,430.9 232.5,427.5 231.5,423.5 230.5,420.0 229.5,401.2 228.5,432.2 227.5,432.8 226.5,434.6 225.5,439.4 224.5,444.6 223.5,450.4 222.5,456.3 221.5,458.9 220.5,456.0 219.5,454.9 218.5,452.9 217.5,451.6 216.5,452.5 215.5,432.0 214.5,432.1 213.5,447.4 212.5,449.3 211.5,450.2 210.5,449.9 209.5,449.2 208.5,448.9 207.5,445.6 206.5,441.3 205.5,435.2 204.5,431.5 203.5,428.7 202.5,432.4 201.5,436.0 200.5,438.4 199.5,441.6 198.5,445.2 197.5,448.1 196.5,447.2 195.5,426.0 194.5,443.8 193.5,440.6 192.5,438.3 191.5,436.8 190.5,434.5 189.5,438.6 188.5,429.0 187.5,441.0 186.5,447.3 185.5,478.0 184.5,447.9 183.5,450.2 182.5,426.0 181.5,434.3 180.5,451.2 179.5,478.0 178.5,458.5 177.5,460.9 176.5,431.8 175.5,441.1 174.5,432.9 173.5,444.9 172.5,435.9 171.5,438.4 170.5,439.2 169.5,407.1 168.5,438.1 167.5,437.5 166.5,431.8 165.5,427.8 164.5,425.0 163.5,422.2 162.5,421.1 161.5,418.9 160.5,421.2 159.5,424.7 158.5,426.4 157.5,406.5 156.5,428.6 155.5,432.8 154.5,436.8 153.5,441.0 152.5,435.5 151.5,449.2 150.5,469.3 149.5,437.4 148.5,402.7 147.5,422.2 146.5,421.9 145.5,425.3 144.5,425.5 143.5,423.5 142.5,418.1 141.5,394.8 140.5,410.7 139.5,418.7 138.5,424.4 137.5,413.7 136.5,438.6 135.5,446.4 134.5,450.9 133.5,419.5 132.5,449.2 131.5,448.5 130.5,448.1 129.5,448.9 128.5,449.2 127.5,421.3 126.5,445.1 125.5,443.8 124.5,439.3 123.5,434.5 122.5,444.3 121.5,433.5 120.5,436.6 119.5,439.4 118.5,444.4 117.5,468.2 116.5,449.7 115.5,448.2 114.5,419.8 113.5,443.7 112.5,444.3 111.5,444.9 110.5,421.9 109.5,398.7 108.5,399.5 107.5,398.5 106.5,398.9 105.5,359.6 104.5,382.6 103.5,378.4 102.5,385.8 101.5,390.7 100.5,392.4 99.5,394.4 98.5,394.6 97.5,395.2 96.5,393.6 95.5,392.7 94.5,386.7 93.5,378.5 92.5,368.9 91.5,369.9 90.5,374.3 89.5,381.0 88.5,408.3 87.5,380.1 86.5,392.7 85.5,406.0 84.5,386.6 83.5,390.9 82.5,389.4 81.5,388.3 80.5,389.7 79.5,390.9 78.5,375.3 77.5,390.9 76.5,389.9 75.5,389.3 74.5,408.5 73.5,384.9 72.5,391.3 71.5,396.1 70.5,374.2 69.5,403.5 68.5,406.7 67.5,407.3 67,407.3" fill="#0066B3"/>
<polygon points="67,251.5 67.5,251.5 68.5,258.9 69.5,260.5 70.5,261.5 71.5,257.7 72.5,252.9 73.5,245.5 74.5,256.1 75.5,250.9 76.5,255.1 77.5,258.3 78.5,252.7 79.5,247.4 80.5,244.8 81.5,242.2 82.5,244.1 83.5,248.8 84.5,254.1 85.5,256.9 86.5,255.6 87.5,246.2 88.5,266.1 89.5,239.6 90.5,244.7 91.5,235.5 92.5,265.6 93.5,247.9 94.5,249.9 95.5,249.7 96.5,250.6 97.5,273.9 98.5,256.0 99.5,264.2 100.5,258.2 101.5,249.2 102.5,243.3 103.5,239.2 104.5,242.5 105.5,243.8 106.5,244.7 107.5,261.8 108.5,252.9 109.5,287.3 110.5,257.6 111.5,330.4 112.5,331.7 113.5,333.4 114.5,358.3 115.5,324.4 116.5,321.6 117.5,320.7 118.5,321.9 119.5,329.6 120.5,309.9 121.5,274.9 122.5,304.4 123.5,307.9 124.5,311.3 125.5,315.6 126.5,309.3 127.5,278.0 128.5,296.3 129.5,290.2 130.5,292.2 131.5,321.7 132.5,295.3 133.5,298.2 134.5,302.4 135.5,335.0 136.5,317.2 137.5,296.4 138.5,293.5 139.5,292.0 140.5,260.6 141.5,267.4 142.5,291.5 143.5,292.6 144.5,291.2 145.5,295.0 146.5,297.3 147.5,296.0 148.5,293.4 149.5,295.3 150.5,301.8 151.5,308.2 152.5,312.1 153.5,307.3 154.5,306.3 155.5,305.5 156.5,302.6 157.5,318.7 158.5,296.5 159.5,297.6 160.5,293.1 161.5,302.2 162.5,307.8 163.5,346.9 164.5,320.7 165.5,321.4 166.5,344.4 167.5,325.2 168.5,300.7 169.5,330.8 170.5,333.6 171.5,333.0 172.5,334.0 173.5,335.7 174.5,337.2 175.5,323.3 176.5,347.5 177.5,350.7 178.5,345.0 179.5,350.3 180.5,367.4 181.5,329.3 182.5,331.1 183.5,357.9 184.5,334.1 185.5,326.3 186.5,334.7 187.5,331.5 188.5,328.5 189.5,343.4 190.5,310.1 191.5,314.0 192.5,314.7 193.5,313.3 194.5,315.2 195.5,320.2 196.5,317.5 197.5,310.8 198.5,306.8 199.5,314.6 200.5,305.0 201.5,300.0 202.5,297.5 203.5,297.8 204.5,316.8 205.5,297.8 206.5,299.7 207.5,305.6 208.5,311.4 209.5,316.6 210.5,350.8 211.5,338.7 212.5,327.0 213.5,300.4 214.5,327.9 215.5,332.4 216.5,332.0 217.5,338.3 218.5,339.6 219.5,324.8 220.5,321.5 221.5,317.7 222.5,314.0 223.5,309.3 224.5,303.0 225.5,297.6 226.5,309.1 227.5,293.0 228.5,292.7 229.5,255.6 230.5,278.2 231.5,275.9 232.5,284.8 233.5,288.7 234.5,303.0 235.5,306.9 236.5,309.2 237.5,310.8 238.5,315.3 239.5,320.3 240.5,314.2 241.5,287.7 242.5,306.1 243.5,303.0 244.5,327.3 245.5,307.0 246.5,309.5 247.5,309.2 248.5,295.9 249.5,310.1 250.5,312.5 251.5,305.4 252.5,298.6 253.5,310.0 254.5,313.0 255.5,305.2 256.5,294.5 257.5,292.8 258.5,290.0 259.5,287.2 260.5,298.9 261.5,279.1 262.5,275.6 263.5,273.6 264.5,282.4 265.5,272.5 266.5,268.8 267.5,263.7 268.5,264.2 269.5,288.3 270.5,269.7 271.5,254.6 272.5,273.7 273.5,270.9 274.5,269.8 275.5,265.2 276.5,256.3 277.5,255.6 278.5,258.4 279.5,264.0 280.5,293.7 281.5,265.8 282.5,259.8 283.5,225.9 284.5,269.0 285.5,252.2 286.5,269.4 287.5,255.8 288.5,261.1 289.5,233.2 290.5,268.1 291.5,234.9 292.5,235.4 293.5,263.7 294.5,235.4 295.5,270.3 296.5,236.8 297.5,235.6 298.5,232.6 299.5,226.8 300.5,227.7 301.5,230.7 302.5,234.1 303.5,237.6 304.5,239.1 305.5,236.4 306.5,235.1 307.5,233.2 308.5,266.1 309.5,234.7 310.5,241.0 311.5,247.0 312.5,246.7 313.5,244.5 314.5,242.4 315.5,243.4 316.5,253.8 317.5,245.2 318.5,216.2 319.5,249.1 320.5,240.0 321.5,251.5 322.5,254.3 323.5,273.1 324.5,249.2 325.5,253.0 326.5,264.2 327.5,261.5 328.5,256.6 329.5,253.4 330.5,250.8 331.5,258.0 332.5,228.6 333.5,242.1 334.5,268.7 335.5,242.4 336.5,256.7 337.5,246.2 338.5,245.5 339.5,250.8 340.5,256.5 341.5,254.9 342.5,248.4 343.5,245.8 344.5,217.2 345.5,242.6 346.5,245.2 347.5,213.5 348.5,239.3 349.5,241.7 350.5,239.1 351.5,237.4 352.5,242.0 353.5,245.2 354.5,225.8 355.5,243.2 356.5,241.2 357.5,260.8 358.5,244.3 359.5,249.6 360.5,251.6 361.5,253.5 362.5,254.2 363.5,254.9 364.5,239.8 365.5,256.6 366.5,257.2 367.5,278.7 368.5,300.8 369.5,298.8 370.5,298.0 371.5,327.3 372.5,302.2 373.5,301.3 374.5,300.9 375.5,302.4 376.5,304.8 377.5,300.6 378.5,297.2 379.5,295.9 380.5,293.1 381.5,295.3 382.5,297.7 383.5,300.3 384.5,306.0 385.5,310.9 386.5,308.0 387.5,305.9 388.5,302.5 389.5,298.4 390.5,294.0 391.5,327.4 392.5,298.4 393.5,304.1 394.5,306.9 395.5,309.4 396.5,273.2 397.5,304.3 398.5,293.9 399.5,294.6 400.5,287.1 401.5,291.3 402.5,295.7 403.5,297.3 404.5,315.2 405.5,299.9 406.5,334.5 407.5,301.8 408.5,299.5 409.5,304.8 410.5,295.5 411.5,300.3 412.5,300.9 413.5,300.3 414.5,299.9 415.5,300.4 416.5,299.3 417.5,299.4 418.5,300.1 419.5,301.0 420.5,331.3 421.5,270.8 422.5,299.9 423.5,305.1 424.5,310.0 425.5,309.0 426.5,331.8 427.5,295.5 428.5,293.9 429.5,288.9 430.5,285.2 431.5,304.6 432.5,292.0 433.5,292.0 434.5,297.6 435.5,303.2 436.5,300.6 437.5,289.5 438.5,295.3 439.5,292.4 440.5,289.3 441.5,291.9 442.5,296.2 443.5,298.3 444.5,301.2 445.5,331.1 446.5,299.0 447.5,295.7 448.5,281.7 449.5,315.1 450.5,305.9 451.5,301.1 452.5,295.1 453.5,288.8 454.5,285.4 455.5,284.3 456.5,285.0 457.5,283.6 458.5,279.9 459.5,276.1 460.5,291.2 461.5,277.4 462.5,255.8 463.5,272.6 464.5,269.2 465.5,267.3 466.5,270.0 467.5,269.2 468.5,269.0 469.5,270.5 470.5,271.5 471.5,272.3 472.5,272.1 473.5,269.7 474.5,268.3 475.5,256.9 476.5,264.6 477.5,266.0 478.5,291.3 479.5,266.2 480.5,270.3 481.5,272.7 482.5,272.3 483.5,270.0 484.5,267.9 485.5,268.2 486.5,303.1 487.5,247.0 488.5,281.6 489.5,285.9 490.5,308.4 491.5,287.6 492.5,283.2 493.5,281.4 494.5,279.2 495.5,275.7 496.5,274.3 497.5,273.6 498.5,272.1 499.5,268.1 500.5,263.8 501.5,246.7 502.5,267.8 503.5,264.3 504.5,259.6 505.5,279.5 506.5,249.2 507.5,279.4 508.5,253.4 509.5,237.1 510.5,227.3 511.5,217.1 512.5,209.7 513.5,216.6 514.5,214.3 515.5,224.2 516.5,230.1 517.5,236.4 518.5,230.8 519.5,222.9 520.5,220.7 521.5,218.5 522.5,183.4 523.5,200.1 524.5,217.2 525.5,230.7 526.5,241.5 527.5,234.9 528.5,230.7 529.5,234.2 530.5,215.6 531.5,209.7 532.5,223.1 533.5,234.3 534.5,239.8 535.5,213.2 536.5,220.6 537.5,210.7 538.5,200.1 539.5,204.0 540.5,211.1 541.5,220.6 542.5,233.8 543.5,216.0 544.5,210.2 545.5,206.4 546.5,203.6 547.5,216.6 548.5,219.6 549.5,247.3 550.5,264.9 551.5,237.2 552.5,231.7 553.5,225.8 554.5,234.5 555.5,218.9 556.5,251.7 557.5,258.2 558.5,256.8 559.5,259.7 560.5,280.6 561.5,262.1 562.5,234.7 563.5,265.7 564.5,268.2 565.5,270.9 566.5,293.4 567.5,277.5 568.5,280.1 569.5,280.9 570.5,283.6 571.5,285.2 572.5,255.9 573.5,293.1 574.5,299.4 575.5,294.4 576.5,301.4 577.5,273.1 578.5,286.1 579.5,268.6 580.5,289.2 581.5,278.9 582.5,280.1 583.5,282.5 584.5,284.2 585.5,293.0 586.5,290.4 587.5,258.3 588.5,283.0 589.5,260.5 590.5,273.0 591.5,262.9 592.5,255.4 593.5,243.0 594.5,226.9 595.5,250.1 596.5,259.9 597.5,257.3 598.5,238.3 599.5,224.0 600.5,214.5 601.5,216.0 602.5,219.6 603.5,222.3 604.5,221.3 605.5,220.8 606.5,220.0 607.5,217.7 608.5,216.0 609.5,215.1 610.5,212.3 611.5,207.3 612.5,200.3 613.5,194.8 614.5,181.8 615.5,169.7 616.5,145.7 617.5,159.1 618.5,180.0 619.5,202.5 620.5,194.6 621.5,215.3 622.5,210.9 623.5,175.1 624.5,186.5 625.5,196.6 626.5,206.2 627.5,212.6 628.5,220.1 629.5,233.7 630.5,248.4 631.5,260.4 632.5,250.5 633.5,209.6 634.5,227.2 635.5,205.8 636.5,218.6 637.5,251.6 638.5,213.6 639.5,182.1 640.5,218.4 641.5,229.2 642.5,237.4 643.5,245.5 644.5,241.9 645.5,237.9 646.5,259.3 647.5,218.6 648.5,230.5 649.5,215.3 650.5,207.7 651.5,228.4 652.5,196.3 653.5,207.8 654.5,221.0 655.5,234.4 656.5,245.6 657.5,238.6 658.5,250.5 659.5,253.2 660.5,256.2 661.5,252.4 662.5,249.8 663.5,248.7 664.5,247.6 665.5,214.3 666.5,251.0 667.5,256.0 668.5,261.4 669.5,268.5 670.5,266.0 671.5,261.9 672.5,258.1 673.5,254.2 674.5,250.3 675.5,242.1 676.5,233.0 677.5,224.9 678.5,218.4 679.5,226.1 680.5,233.5 681.5,238.7 682.5,243.0 683.5,238.5 684.5,235.2 685.5,233.1 686.5,229.6 687.5,224.8 688.5,233.9 689.5,263.4 690.5,253.3 691.5,261.7 692.5,273.6 693.5,250.1 694.5,250.4 695.5,248.7 696.5,222.2 697.5,248.4 698.5,252.6 699.5,257.3 700.5,260.4 701.5,256.7 702.5,253.6 703.5,248.9 704.5,245.5 705.5,220.2 706.5,235.6 707.5,229.4 708.5,221.9 709.5,212.9 710.5,210.6 711.5,208.2 712.5,204.8 713.5,202.3 714.5,204.7 715.5,207.5 716.5,210.9 717.5,215.0 718.5,219.7 719.5,193.8 720.5,199.9 721.5,204.4 722.5,202.0 723.5,216.5 724.5,216.4 725.5,202.1 726.5,233.2 727.5,199.3 728.5,202.8 729.5,205.0 730.5,207.5 731.5,211.1 732.5,217.7 733.5,225.5 734.5,232.8 735.5,213.1 736.5,202.0 737.5,192.0 738.5,180.3 739.5,183.6 740,183.6 740,242.9 739.5,242.9 738.5,243.1 737.5,264.8 736.5,243.3 735.5,263.1 734.5,264.9 733.5,243.4 732.5,249.3 731.5,255.1 730.5,260.9 729.5,261.4 728.5,260.8 727.5,262.4 726.5,267.7 725.5,269.8 724.5,267.6 723.5,267.4 722.5,282.3 721.5,265.3 720.5,264.4 719.5,264.4 718.5,264.8 717.5,264.9 716.5,268.1 715.5,269.0 714.5,231.7 713.5,277.6 712.5,259.7 711.5,268.3 710.5,277.2 709.5,286.1 708.5,291.0 707.5,295.5 706.5,307.3 705.5,318.1 704.5,327.6 703.5,337.0 702.5,326.1 701.5,316.6 700.5,305.6 699.5,267.5 698.5,296.4 697.5,319.5 696.5,303.9 695.5,304.9 694.5,274.4 693.5,300.9 692.5,296.0 691.5,292.4 690.5,291.1 689.5,293.1 688.5,306.2 687.5,291.6 686.5,293.3 685.5,259.4 684.5,296.2 683.5,294.8 682.5,289.3 681.5,285.4 680.5,276.4 679.5,294.8 678.5,296.5 677.5,300.3 676.5,309.4 675.5,306.8 674.5,323.5 673.5,312.3 672.5,338.8 671.5,324.8 670.5,297.3 669.5,298.0 668.5,333.9 667.5,299.1 666.5,295.3 665.5,290.6 664.5,296.0 663.5,300.4 662.5,302.1 661.5,305.2 660.5,307.3 659.5,305.6 658.5,269.1 657.5,303.1 656.5,297.5 655.5,309.2 654.5,286.8 653.5,282.1 652.5,310.9 651.5,273.3 650.5,279.5 649.5,289.0 648.5,293.5 647.5,298.0 646.5,302.2 645.5,317.3 644.5,308.1 643.5,312.1 642.5,350.6 641.5,348.4 640.5,306.5 639.5,300.9 638.5,261.8 637.5,289.8 636.5,281.7 635.5,274.5 634.5,236.4 633.5,272.1 632.5,275.6 631.5,276.2 630.5,249.3 629.5,278.8 628.5,278.0 627.5,274.7 626.5,269.8 625.5,264.1 624.5,257.9 623.5,222.8 622.5,248.6 621.5,242.7 620.5,254.6 619.5,224.2 618.5,192.7 617.5,230.4 616.5,201.6 615.5,225.1 614.5,233.2 613.5,271.2 612.5,201.7 611.5,246.6 610.5,248.2 609.5,248.3 608.5,251.2 607.5,255.0 606.5,255.8 605.5,256.1 604.5,261.9 603.5,265.9 602.5,267.3 601.5,271.2 600.5,279.3 599.5,284.5 598.5,317.3 597.5,257.3 596.5,259.9 595.5,273.0 594.5,303.0 593.5,266.8 592.5,276.0 591.5,281.9 590.5,283.1 589.5,288.3 588.5,295.5 587.5,302.4 586.5,331.2 585.5,316.0 584.5,284.2 583.5,309.0 582.5,336.5 581.5,299.0 580.5,335.5 579.5,300.0 578.5,336.2 577.5,308.6 576.5,312.9 575.5,332.4 574.5,350.9 573.5,343.5 572.5,335.3 571.5,325.5 570.5,322.4 569.5,280.9 568.5,298.9 567.5,320.1 566.5,303.7 565.5,333.9 564.5,282.8 563.5,299.4 562.5,316.1 561.5,328.2 560.5,340.9 559.5,301.3 558.5,256.8 557.5,290.2 556.5,319.6 555.5,283.7 554.5,277.4 553.5,309.1 552.5,293.7 551.5,275.1 550.5,278.5 549.5,271.1 548.5,219.6 547.5,248.3 546.5,219.3 545.5,254.2 544.5,259.9 543.5,265.1 542.5,264.5 541.5,265.1 540.5,268.4 539.5,273.0 538.5,279.1 537.5,282.0 536.5,272.4 535.5,264.9 534.5,254.1 533.5,277.9 532.5,303.5 531.5,327.1 530.5,303.8 529.5,281.9 528.5,257.1 527.5,269.4 526.5,283.6 525.5,296.9 524.5,289.4 523.5,283.0 522.5,235.4 521.5,302.3 520.5,292.2 519.5,319.4 518.5,296.7 517.5,294.4 516.5,298.7 515.5,277.7 514.5,271.1 513.5,273.9 512.5,249.7 511.5,217.1 510.5,254.2 509.5,263.2 508.5,272.1 507.5,313.1 506.5,294.7 505.5,288.1 504.5,284.0 503.5,285.3 502.5,285.6 501.5,286.7 500.5,302.6 499.5,313.3 498.5,289.1 497.5,309.2 496.5,341.8 495.5,353.7 494.5,374.3 493.5,339.7 492.5,338.4 491.5,362.4 490.5,358.3 489.5,355.0 488.5,349.6 487.5,343.0 486.5,344.4 485.5,353.3 484.5,371.0 483.5,363.2 482.5,367.5 481.5,364.9 480.5,361.8 479.5,359.1 478.5,355.9 477.5,349.1 476.5,341.3 475.5,339.4 474.5,342.2 473.5,337.9 472.5,329.2 471.5,344.5 470.5,327.3 469.5,320.9 468.5,321.1 467.5,324.6 466.5,328.9 465.5,331.5 464.5,332.6 463.5,329.9 462.5,296.5 461.5,329.3 460.5,365.5 459.5,331.9 458.5,335.2 457.5,340.4 456.5,343.1 455.5,345.3 454.5,338.7 453.5,346.8 452.5,362.1 451.5,368.2 450.5,367.7 449.5,365.0 448.5,362.8 447.5,363.0 446.5,360.3 445.5,356.5 444.5,380.1 443.5,352.5 442.5,346.3 441.5,342.6 440.5,341.7 439.5,353.1 438.5,339.1 437.5,346.7 436.5,354.4 435.5,355.2 434.5,326.5 433.5,393.8 432.5,369.9 431.5,349.9 430.5,343.5 429.5,344.0 428.5,387.5 427.5,354.9 426.5,360.9 425.5,367.4 424.5,368.7 423.5,370.2 422.5,374.3 421.5,364.3 420.5,378.1 419.5,388.4 418.5,369.6 417.5,375.7 416.5,347.8 415.5,369.8 414.5,373.8 413.5,368.4 412.5,361.4 411.5,352.1 410.5,343.4 409.5,311.7 408.5,326.8 407.5,341.3 406.5,341.7 405.5,340.4 404.5,341.5 403.5,343.1 402.5,344.5 401.5,345.7 400.5,368.3 399.5,361.8 398.5,366.8 397.5,373.4 396.5,348.2 395.5,359.4 394.5,355.4 393.5,392.8 392.5,350.0 391.5,342.5 390.5,335.1 389.5,330.4 388.5,333.5 387.5,336.2 386.5,341.5 385.5,387.1 384.5,349.1 383.5,346.1 382.5,344.1 381.5,343.6 380.5,342.0 379.5,347.5 378.5,351.9 377.5,354.1 376.5,356.3 375.5,352.6 374.5,350.7 373.5,345.9 372.5,340.7 371.5,342.9 370.5,344.5 369.5,352.1 368.5,360.9 367.5,334.2 366.5,306.4 365.5,336.3 364.5,299.1 363.5,329.3 362.5,297.7 361.5,295.2 360.5,290.8 359.5,288.8 358.5,289.7 357.5,287.0 356.5,309.6 355.5,289.0 354.5,312.1 353.5,289.6 352.5,290.5 351.5,287.4 350.5,302.4 349.5,283.8 348.5,280.2 347.5,284.5 346.5,294.9 345.5,282.2 344.5,303.2 343.5,307.7 342.5,286.0 341.5,345.0 340.5,314.2 339.5,319.5 338.5,316.7 337.5,330.7 336.5,302.9 335.5,297.5 334.5,303.8 333.5,308.8 332.5,308.9 331.5,311.6 330.5,312.3 329.5,323.9 328.5,338.3 327.5,351.9 326.5,337.3 325.5,343.1 324.5,315.9 323.5,298.1 322.5,300.9 321.5,305.8 320.5,309.2 319.5,310.9 318.5,309.0 317.5,312.6 316.5,322.6 315.5,351.6 314.5,331.8 313.5,325.5 312.5,316.7 311.5,305.7 310.5,297.9 309.5,297.1 308.5,274.1 307.5,282.7 306.5,293.0 305.5,289.4 304.5,294.8 303.5,301.0 302.5,306.3 301.5,311.3 300.5,309.7 299.5,308.1 298.5,307.6 297.5,307.4 296.5,307.2 295.5,274.4 294.5,289.0 293.5,287.8 292.5,315.8 291.5,326.6 290.5,299.1 289.5,312.0 288.5,300.1 287.5,306.4 286.5,324.8 285.5,329.1 284.5,332.0 283.5,355.0 282.5,326.1 281.5,304.7 280.5,319.3 279.5,322.2 278.5,324.7 277.5,331.7 276.5,331.5 275.5,323.9 274.5,315.5 273.5,312.5 272.5,313.5 271.5,315.5 270.5,314.1 269.5,340.9 268.5,315.2 267.5,317.5 266.5,322.1 265.5,352.6 264.5,326.5 263.5,324.6 262.5,324.5 261.5,309.9 260.5,328.0 259.5,336.6 258.5,344.1 257.5,346.1 256.5,348.6 255.5,353.0 254.5,359.8 253.5,363.8 252.5,341.9 251.5,355.4 250.5,355.9 249.5,355.0 248.5,355.6 247.5,357.7 246.5,359.3 245.5,359.4 244.5,363.9 243.5,369.4 242.5,372.3 241.5,375.8 240.5,351.5 239.5,383.8 238.5,366.0 237.5,378.7 236.5,401.2 235.5,370.9 234.5,365.3 233.5,360.7 232.5,384.9 231.5,352.5 230.5,364.0 229.5,345.7 228.5,343.3 227.5,348.5 226.5,351.4 225.5,355.0 224.5,364.0 223.5,352.4 222.5,360.8 221.5,327.9 220.5,348.5 219.5,388.9 218.5,355.1 217.5,375.0 216.5,364.2 215.5,385.3 214.5,405.6 213.5,379.7 212.5,385.7 211.5,402.5 210.5,391.9 209.5,364.4 208.5,389.2 207.5,377.1 206.5,368.4 205.5,364.6 204.5,362.3 203.5,359.6 202.5,357.9 201.5,356.1 200.5,354.2 199.5,314.6 198.5,350.3 197.5,354.3 196.5,359.1 195.5,344.1 194.5,369.2 193.5,383.9 192.5,364.9 191.5,358.3 190.5,370.0 189.5,343.4 188.5,349.9 187.5,331.9 186.5,364.1 185.5,371.2 184.5,406.5 183.5,374.9 182.5,373.3 181.5,374.4 180.5,371.0 179.5,350.3 178.5,405.8 177.5,401.7 176.5,404.6 175.5,400.4 174.5,393.9 173.5,387.8 172.5,381.9 171.5,374.8 170.5,365.8 169.5,362.2 168.5,403.3 167.5,334.1 166.5,365.8 165.5,366.7 164.5,370.8 163.5,370.2 162.5,390.7 161.5,362.0 160.5,357.6 159.5,340.7 158.5,347.4 157.5,346.8 156.5,347.4 155.5,343.4 154.5,348.9 153.5,383.2 152.5,361.1 151.5,367.2 150.5,375.7 149.5,369.8 148.5,329.0 147.5,336.8 146.5,349.6 145.5,346.2 144.5,342.4 143.5,338.2 142.5,334.1 141.5,339.4 140.5,344.6 139.5,351.9 138.5,360.1 137.5,366.9 136.5,361.8 135.5,358.3 134.5,357.2 133.5,352.7 132.5,346.0 131.5,343.9 130.5,348.5 129.5,351.3 128.5,356.1 127.5,359.8 126.5,335.6 125.5,354.1 124.5,346.4 123.5,343.3 122.5,347.3 121.5,398.5 120.5,404.4 119.5,369.3 118.5,366.2 117.5,334.5 116.5,341.8 115.5,359.8 114.5,358.3 113.5,356.4 112.5,392.2 111.5,332.5 110.5,309.1 109.5,310.6 108.5,290.0 107.5,312.6 106.5,308.2 105.5,304.2 104.5,303.8 103.5,320.0 102.5,300.5 101.5,304.8 100.5,307.5 99.5,348.3 98.5,339.5 97.5,315.3 96.5,315.1 95.5,312.3 94.5,308.9 93.5,306.3 92.5,300.5 91.5,320.6 90.5,302.4 89.5,293.1 88.5,300.6 87.5,307.0 86.5,311.1 85.5,309.4 84.5,308.7 83.5,308.4 82.5,308.3 81.5,306.0 80.5,306.0 79.5,309.3 78.5,311.2 77.5,312.1 76.5,313.2 75.5,313.8 74.5,314.1 73.5,313.2 72.5,310.6 71.5,317.8 70.5,327.6 69.5,321.1 68.5,350.9 67.5,294.2 67,294.2" fill="#FF8000"/>
<polygon points="67,218.8 67.5,218.8 68.5,229.5 69.5,254.6 70.5,250.2 71.5,257.7 72.5,252.9 73.5,245.5 74.5,244.2 75.5,229.1 76.5,238.5 77.5,239.3 78.5,232.9 79.5,226.2 80.5,222.6 81.5,226.5 82.5,227.6 83.5,226.6 84.5,216.2 85.5,196.2 86.5,226.6 87.5,229.6 88.5,221.7 89.5,208.5 90.5,205.7 91.5,190.7 92.5,206.2 93.5,216.1 94.5,225.9 95.5,230.0 96.5,233.6 97.5,236.3 98.5,231.6 99.5,227.9 100.5,235.6 101.5,223.7 102.5,208.7 103.5,190.1 104.5,208.9 105.5,228.8 106.5,219.5 107.5,207.9 108.5,190.6 109.5,206.9 110.5,220.2 111.5,269.4 112.5,315.7 113.5,315.4 114.5,314.9 115.5,312.9 116.5,318.1 117.5,292.2 118.5,277.4 119.5,261.8 120.5,277.2 121.5,274.9 122.5,301.7 123.5,296.0 124.5,289.4 125.5,289.9 126.5,284.0 127.5,276.3 128.5,268.9 129.5,261.8 130.5,254.9 131.5,265.3 132.5,274.5 133.5,281.5 134.5,289.9 135.5,295.3 136.5,312.1 137.5,296.4 138.5,271.9 139.5,267.7 140.5,247.9 141.5,232.7 142.5,244.2 143.5,254.0 144.5,261.9 145.5,272.1 146.5,253.0 147.5,237.3 148.5,223.1 149.5,265.3 150.5,301.8 151.5,287.3 152.5,268.7 153.5,248.6 154.5,248.9 155.5,250.4 156.5,246.0 157.5,265.5 158.5,251.1 159.5,248.8 160.5,241.8 161.5,237.4 162.5,235.3 163.5,256.2 164.5,272.8 165.5,284.3 166.5,285.2 167.5,284.2 168.5,288.4 169.5,294.6 170.5,285.4 171.5,274.3 172.5,269.4 173.5,293.9 174.5,316.1 175.5,323.3 176.5,337.1 177.5,328.8 178.5,321.1 179.5,319.4 180.5,317.9 181.5,320.9 182.5,331.1 183.5,317.3 184.5,327.0 185.5,310.1 186.5,307.0 187.5,302.6 188.5,286.7 189.5,291.7 190.5,266.0 191.5,251.1 192.5,267.6 193.5,270.6 194.5,265.0 195.5,279.6 196.5,278.7 197.5,276.4 198.5,279.7 199.5,298.5 200.5,286.4 201.5,290.8 202.5,296.2 203.5,286.1 204.5,277.6 205.5,266.4 206.5,256.3 207.5,275.2 208.5,290.0 209.5,312.8 210.5,305.9 211.5,298.1 212.5,285.7 213.5,258.1 214.5,268.7 215.5,273.2 216.5,278.9 217.5,286.2 218.5,287.6 219.5,289.7 220.5,289.1 221.5,289.1 222.5,296.0 223.5,301.6 224.5,301.9 225.5,297.6 226.5,254.1 227.5,235.1 228.5,203.1 229.5,218.0 230.5,235.5 231.5,261.3 232.5,249.3 233.5,255.6 234.5,264.2 235.5,271.8 236.5,280.8 237.5,289.2 238.5,278.2 239.5,272.9 240.5,266.6 241.5,283.2 242.5,300.2 243.5,303.0 244.5,297.2 245.5,282.4 246.5,267.9 247.5,270.8 248.5,273.8 249.5,266.5 250.5,259.4 251.5,252.7 252.5,246.4 253.5,240.2 254.5,279.1 255.5,304.5 256.5,288.9 257.5,286.9 258.5,290.0 259.5,254.7 260.5,218.4 261.5,218.2 262.5,219.6 263.5,220.5 264.5,224.2 265.5,212.0 266.5,202.5 267.5,192.6 268.5,211.9 269.5,224.7 270.5,235.8 271.5,233.8 272.5,226.3 273.5,219.1 274.5,201.1 275.5,193.8 276.5,221.8 277.5,240.6 278.5,229.6 279.5,217.8 280.5,216.8 281.5,226.5 282.5,236.3 283.5,225.9 284.5,210.0 285.5,189.4 286.5,198.4 287.5,209.5 288.5,217.7 289.5,226.4 290.5,208.3 291.5,183.2 292.5,176.9 293.5,198.1 294.5,184.0 295.5,190.0 296.5,202.7 297.5,208.4 298.5,215.5 299.5,213.7 300.5,204.6 301.5,194.4 302.5,185.5 303.5,189.8 304.5,195.6 305.5,193.4 306.5,219.0 307.5,208.9 308.5,212.1 309.5,211.9 310.5,211.4 311.5,218.8 312.5,209.2 313.5,211.9 314.5,223.4 315.5,226.1 316.5,218.5 317.5,212.6 318.5,206.9 319.5,209.0 320.5,215.9 321.5,218.0 322.5,221.2 323.5,224.7 324.5,235.2 325.5,246.4 326.5,251.6 327.5,237.9 328.5,223.1 329.5,194.9 330.5,204.3 331.5,206.2 332.5,205.1 333.5,201.1 334.5,205.3 335.5,209.7 336.5,213.6 337.5,219.6 338.5,224.9 339.5,234.1 340.5,229.5 341.5,211.9 342.5,216.8 343.5,213.3 344.5,208.6 345.5,199.3 346.5,191.3 347.5,174.7 348.5,195.4 349.5,210.4 350.5,210.1 351.5,204.7 352.5,214.2 353.5,190.2 354.5,189.5 355.5,193.6 356.5,194.9 357.5,197.9 358.5,202.3 359.5,213.2 360.5,228.6 361.5,244.4 362.5,220.6 363.5,210.1 364.5,194.6 365.5,212.2 366.5,232.0 367.5,261.7 368.5,281.1 369.5,296.6 370.5,292.2 371.5,289.0 372.5,288.3 373.5,277.3 374.5,267.1 375.5,256.2 376.5,253.3 377.5,271.0 378.5,276.0 379.5,284.1 380.5,256.7 381.5,247.9 382.5,270.3 383.5,291.3 384.5,306.0 385.5,299.1 386.5,289.2 387.5,277.0 388.5,264.3 389.5,276.8 390.5,292.0 391.5,304.5 392.5,288.1 393.5,272.0 394.5,256.7 395.5,276.9 396.5,273.2 397.5,304.3 398.5,293.9 399.5,294.6 400.5,286.2 401.5,279.0 402.5,270.5 403.5,260.6 404.5,257.2 405.5,268.7 406.5,269.7 407.5,272.3 408.5,267.8 409.5,269.6 410.5,271.6 411.5,274.8 412.5,290.4 413.5,300.3 414.5,299.9 415.5,289.1 416.5,290.4 417.5,276.3 418.5,271.7 419.5,288.6 420.5,304.4 421.5,270.8 422.5,299.9 423.5,305.1 424.5,309.5 425.5,306.5 426.5,291.9 427.5,281.3 428.5,256.0 429.5,240.2 430.5,282.8 431.5,304.6 432.5,292.0 433.5,292.0 434.5,297.6 435.5,288.6 436.5,275.8 437.5,261.9 438.5,253.9 439.5,249.2 440.5,269.5 441.5,272.9 442.5,279.9 443.5,277.8 444.5,272.8 445.5,269.6 446.5,278.7 447.5,295.6 448.5,281.7 449.5,306.3 450.5,290.8 451.5,276.0 452.5,263.7 453.5,260.5 454.5,270.4 455.5,254.8 456.5,253.6 457.5,250.3 458.5,248.9 459.5,252.2 460.5,253.6 461.5,248.6 462.5,238.6 463.5,230.6 464.5,222.6 465.5,224.9 466.5,227.8 467.5,231.2 468.5,229.4 469.5,229.2 470.5,233.0 471.5,237.8 472.5,244.7 473.5,251.7 474.5,253.3 475.5,251.6 476.5,245.7 477.5,245.9 478.5,246.6 479.5,250.7 480.5,257.4 481.5,265.9 482.5,272.3 483.5,251.7 484.5,232.0 485.5,219.2 486.5,236.9 487.5,247.0 488.5,265.0 489.5,285.9 490.5,272.9 491.5,275.4 492.5,270.6 493.5,265.3 494.5,267.6 495.5,267.0 496.5,264.9 497.5,269.3 498.5,253.1 499.5,252.3 500.5,250.8 501.5,246.5 502.5,227.2 503.5,228.4 504.5,215.1 505.5,201.3 506.5,193.5 507.5,210.9 508.5,218.7 509.5,220.1 510.5,222.4 511.5,217.1 512.5,209.7 513.5,183.0 514.5,157.9 515.5,177.4 516.5,196.5 517.5,214.0 518.5,230.8 519.5,222.9 520.5,220.7 521.5,217.2 522.5,183.4 523.5,151.0 524.5,183.9 525.5,217.1 526.5,241.5 527.5,234.9 528.5,226.2 529.5,219.1 530.5,215.6 531.5,209.7 532.5,223.1 533.5,215.2 534.5,192.6 535.5,170.5 536.5,151.8 537.5,176.0 538.5,200.1 539.5,184.3 540.5,165.9 541.5,149.4 542.5,164.7 543.5,181.6 544.5,173.3 545.5,167.4 546.5,157.4 547.5,181.0 548.5,203.4 549.5,184.1 550.5,167.5 551.5,159.3 552.5,179.9 553.5,209.8 554.5,214.3 555.5,218.6 556.5,219.4 557.5,212.6 558.5,211.1 559.5,209.6 560.5,200.7 561.5,221.1 562.5,224.0 563.5,224.5 564.5,210.0 565.5,230.6 566.5,246.2 567.5,259.1 568.5,254.8 569.5,250.4 570.5,245.2 571.5,247.2 572.5,255.9 573.5,258.9 574.5,248.6 575.5,223.4 576.5,198.1 577.5,205.0 578.5,212.7 579.5,221.5 580.5,226.9 581.5,232.3 582.5,238.2 583.5,244.1 584.5,251.1 585.5,258.3 586.5,262.4 587.5,238.0 588.5,249.0 589.5,231.9 590.5,216.6 591.5,202.8 592.5,208.3 593.5,213.7 594.5,211.0 595.5,134.8 596.5,175.9 597.5,204.5 598.5,222.9 599.5,205.2 600.5,186.5 601.5,186.8 602.5,187.8 603.5,192.8 604.5,194.0 605.5,195.3 606.5,199.5 607.5,201.5 608.5,212.0 609.5,205.0 610.5,200.3 611.5,194.7 612.5,189.1 613.5,176.8 614.5,165.0 615.5,152.5 616.5,120.0 617.5,131.6 618.5,145.5 619.5,156.5 620.5,158.0 621.5,159.5 622.5,157.1 623.5,138.4 624.5,120.9 625.5,137.2 626.5,152.8 627.5,170.5 628.5,184.5 629.5,197.6 630.5,205.1 631.5,189.2 632.5,173.6 633.5,164.7 634.5,189.2 635.5,205.8 636.5,205.3 637.5,196.6 638.5,191.4 639.5,169.2 640.5,191.7 641.5,205.0 642.5,215.1 643.5,209.2 644.5,205.5 645.5,186.9 646.5,169.1 647.5,141.9 648.5,199.0 649.5,215.3 650.5,197.5 651.5,158.2 652.5,119.1 653.5,163.4 654.5,207.6 655.5,207.2 656.5,207.4 657.5,212.3 658.5,232.4 659.5,216.2 660.5,201.0 661.5,194.2 662.5,219.5 663.5,239.9 664.5,230.8 665.5,214.3 666.5,212.9 667.5,211.0 668.5,209.1 669.5,224.7 670.5,239.5 671.5,247.3 672.5,242.5 673.5,240.1 674.5,235.3 675.5,224.5 676.5,212.4 677.5,202.2 678.5,188.7 679.5,174.1 680.5,193.1 681.5,211.8 682.5,208.1 683.5,204.5 684.5,198.1 685.5,187.4 686.5,182.1 687.5,189.4 688.5,191.7 689.5,206.1 690.5,217.2 691.5,230.0 692.5,238.9 693.5,233.2 694.5,228.3 695.5,219.2 696.5,209.9 697.5,195.1 698.5,187.5 699.5,192.0 700.5,196.6 701.5,212.2 702.5,225.5 703.5,246.7 704.5,241.3 705.5,220.2 706.5,221.4 707.5,207.6 708.5,193.8 709.5,183.7 710.5,184.6 711.5,164.1 712.5,126.1 713.5,139.7 714.5,158.9 715.5,180.8 716.5,184.3 717.5,186.4 718.5,187.4 719.5,180.2 720.5,177.0 721.5,188.6 722.5,175.0 723.5,177.7 724.5,172.4 725.5,182.2 726.5,178.2 727.5,175.0 728.5,177.1 729.5,180.9 730.5,183.9 731.5,189.1 732.5,198.0 733.5,223.9 734.5,232.8 735.5,169.5 736.5,106.8 737.5,128.3 738.5,150.1 739.5,141.7 740,141.7 740,183.6 739.5,183.6 738.5,180.3 737.5,192.0 736.5,202.0 735.5,213.1 734.5,232.8 733.5,225.5 732.5,217.7 731.5,211.1 730.5,207.5 729.5,205.0 728.5,202.8 727.5,199.3 726.5,233.2 725.5,202.1 724.5,216.4 723.5,216.5 722.5,202.0 721.5,204.4 720.5,199.9 719.5,193.8 718.5,219.7 717.5,215.0 716.5,210.9 715.5,207.5 714.5,204.7 713.5,202.3 712.5,204.8 711.5,208.2 710.5,210.6 709.5,212.9 708.5,221.9 707.5,229.4 706.5,235.6 705.5,220.2 704.5,245.5 703.5,248.9 702.5,253.6 701.5,256.7 700.5,260.4 699.5,257.3 698.5,252.6 697.5,248.4 696.5,222.2 695.5,248.7 694.5,250.4 693.5,250.1 692.5,273.6 691.5,261.7 690.5,253.3 689.5,263.4 688.5,233.9 687.5,224.8 686.5,229.6 685.5,233.1 684.5,235.2 683.5,238.5 682.5,243.0 681.5,238.7 680.5,233.5 679.5,226.1 678.5,218.4 677.5,224.9 676.5,233.0 675.5,242.1 674.5,250.3 673.5,254.2 672.5,258.1 671.5,261.9 670.5,266.0 669.5,268.5 668.5,261.4 667.5,256.0 666.5,251.0 665.5,214.3 664.5,247.6 663.5,248.7 662.5,249.8 661.5,252.4 660.5,256.2 659.5,253.2 658.5,250.5 657.5,238.6 656.5,245.6 655.5,234.4 654.5,221.0 653.5,207.8 652.5,196.3 651.5,228.4 650.5,207.7 649.5,215.3 648.5,230.5 647.5,218.6 646.5,259.3 645.5,237.9 644.5,241.9 643.5,245.5 642.5,237.4 641.5,229.2 640.5,218.4 639.5,182.1 638.5,213.6 637.5,251.6 636.5,218.6 635.5,205.8 634.5,227.2 633.5,209.6 632.5,250.5 631.5,260.4 630.5,248.4 629.5,233.7 628.5,220.1 627.5,212.6 626.5,206.2 625.5,196.6 624.5,186.5 623.5,175.1 622.5,210.9 621.5,215.3 620.5,194.6 619.5,202.5 618.5,180.0 617.5,159.1 616.5,145.7 615.5,169.7 614.5,181.8 613.5,194.8 612.5,200.3 611.5,207.3 610.5,212.3 609.5,215.1 608.5,216.0 607.5,217.7 606.5,220.0 605.5,220.8 604.5,221.3 603.5,222.3 602.5,219.6 601.5,216.0 600.5,214.5 599.5,224.0 598.5,238.3 597.5,257.3 596.5,259.9 595.5,250.1 594.5,226.9 593.5,243.0 592.5,255.4 591.5,262.9 590.5,273.0 589.5,260.5 588.5,283.0 587.5,258.3 586.5,290.4 585.5,293.0 584.5,284.2 583.5,282.5 582.5,280.1 581.5,278.9 580.5,289.2 579.5,268.6 578.5,286.1 577.5,273.1 576.5,301.4 575.5,294.4 574.5,299.4 573.5,293.1 572.5,255.9 571.5,285.2 570.5,283.6 569.5,280.9 568.5,280.1 567.5,277.5 566.5,293.4 565.5,270.9 564.5,268.2 563.5,265.7 562.5,234.7 561.5,262.1 560.5,280.6 559.5,259.7 558.5,256.8 557.5,258.2 556.5,251.7 555.5,218.9 554.5,234.5 553.5,225.8 552.5,231.7 551.5,237.2 550.5,264.9 549.5,247.3 548.5,219.6 547.5,216.6 546.5,203.6 545.5,206.4 544.5,210.2 543.5,216.0 542.5,233.8 541.5,220.6 540.5,211.1 539.5,204.0 538.5,200.1 537.5,210.7 536.5,220.6 535.5,213.2 534.5,239.8 533.5,234.3 532.5,223.1 531.5,209.7 530.5,215.6 529.5,234.2 528.5,230.7 527.5,234.9 526.5,241.5 525.5,230.7 524.5,217.2 523.5,200.1 522.5,183.4 521.5,218.5 520.5,220.7 519.5,222.9 518.5,230.8 517.5,236.4 516.5,230.1 515.5,224.2 514.5,214.3 513.5,216.6 512.5,209.7 511.5,217.1 510.5,227.3 509.5,237.1 508.5,253.4 507.5,279.4 506.5,249.2 505.5,279.5 504.5,259.6 503.5,264.3 502.5,267.8 501.5,246.7 500.5,263.8 499.5,268.1 498.5,272.1 497.5,273.6 496.5,274.3 495.5,275.7 494.5,279.2 493.5,281.4 492.5,283.2 491.5,287.6 490.5,308.4 489.5,285.9 488.5,281.6 487.5,247.0 486.5,303.1 485.5,268.2 484.5,267.9 483.5,270.0 482.5,272.3 481.5,272.7 480.5,270.3 479.5,266.2 478.5,291.3 477.5,266.0 476.5,264.6 475.5,256.9 474.5,268.3 473.5,269.7 472.5,272.1 471.5,272.3 470.5,271.5 469.5,270.5 468.5,269.0 467.5,269.2 466.5,270.0 465.5,267.3 464.5,269.2 463.5,272.6 462.5,255.8 461.5,277.4 460.5,291.2 459.5,276.1 458.5,279.9 457.5,283.6 456.5,285.0 455.5,284.3 454.5,285.4 453.5,288.8 452.5,295.1 451.5,301.1 450.5,305.9 449.5,315.1 448.5,281.7 447.5,295.7 446.5,299.0 445.5,331.1 444.5,301.2 443.5,298.3 442.5,296.2 441.5,291.9 440.5,289.3 439.5,292.4 438.5,295.3 437.5,289.5 436.5,300.6 435.5,303.2 434.5,297.6 433.5,292.0 432.5,292.0 431.5,304.6 430.5,285.2 429.5,288.9 428.5,293.9 427.5,295.5 426.5,331.8 425.5,309.0 424.5,310.0 423.5,305.1 422.5,299.9 421.5,270.8 420.5,331.3 419.5,301.0 418.5,300.1 417.5,299.4 416.5,299.3 415.5,300.4 414.5,299.9 413.5,300.3 412.5,300.9 411.5,300.3 410.5,295.5 409.5,304.8 408.5,299.5 407.5,301.8 406.5,334.5 405.5,299.9 404.5,315.2 403.5,297.3 402.5,295.7 401.5,291.3 400.5,287.1 399.5,294.6 398.5,293.9 397.5,304.3 396.5,273.2 395.5,309.4 394.5,306.9 393.5,304.1 392.5,298.4 391.5,327.4 390.5,294.0 389.5,298.4 388.5,302.5 387.5,305.9 386.5,308.0 385.5,310.9 384.5,306.0 383.5,300.3 382.5,297.7 381.5,295.3 380.5,293.1 379.5,295.9 378.5,297.2 377.5,300.6 376.5,304.8 375.5,302.4 374.5,300.9 373.5,301.3 372.5,302.2 371.5,327.3 370.5,298.0 369.5,298.8 368.5,300.8 367.5,278.7 366.5,257.2 365.5,256.6 364.5,239.8 363.5,254.9 362.5,254.2 361.5,253.5 360.5,251.6 359.5,249.6 358.5,244.3 357.5,260.8 356.5,241.2 355.5,243.2 354.5,225.8 353.5,245.2 352.5,242.0 351.5,237.4 350.5,239.1 349.5,241.7 348.5,239.3 347.5,213.5 346.5,245.2 345.5,242.6 344.5,217.2 343.5,245.8 342.5,248.4 341.5,254.9 340.5,256.5 339.5,250.8 338.5,245.5 337.5,246.2 336.5,256.7 335.5,242.4 334.5,268.7 333.5,242.1 332.5,228.6 331.5,258.0 330.5,250.8 329.5,253.4 328.5,256.6 327.5,261.5 326.5,264.2 325.5,253.0 324.5,249.2 323.5,273.1 322.5,254.3 321.5,251.5 320.5,240.0 319.5,249.1 318.5,216.2 317.5,245.2 316.5,253.8 315.5,243.4 314.5,242.4 313.5,244.5 312.5,246.7 311.5,247.0 310.5,241.0 309.5,234.7 308.5,266.1 307.5,233.2 306.5,235.1 305.5,236.4 304.5,239.1 303.5,237.6 302.5,234.1 301.5,230.7 300.5,227.7 299.5,226.8 298.5,232.6 297.5,235.6 296.5,236.8 295.5,270.3 294.5,235.4 293.5,263.7 292.5,235.4 291.5,234.9 290.5,268.1 289.5,233.2 288.5,261.1 287.5,255.8 286.5,269.4 285.5,252.2 284.5,269.0 283.5,225.9 282.5,259.8 281.5,265.8 280.5,293.7 279.5,264.0 278.5,258.4 277.5,255.6 276.5,256.3 275.5,265.2 274.5,269.8 273.5,270.9 272.5,273.7 271.5,254.6 270.5,269.7 269.5,288.3 268.5,264.2 267.5,263.7 266.5,268.8 265.5,272.5 264.5,282.4 263.5,273.6 262.5,275.6 261.5,279.1 260.5,298.9 259.5,287.2 258.5,290.0 257.5,292.8 256.5,294.5 255.5,305.2 254.5,313.0 253.5,310.0 252.5,298.6 251.5,305.4 250.5,312.5 249.5,310.1 248.5,295.9 247.5,309.2 246.5,309.5 245.5,307.0 244.5,327.3 243.5,303.0 242.5,306.1 241.5,287.7 240.5,314.2 239.5,320.3 238.5,315.3 237.5,310.8 236.5,309.2 235.5,306.9 234.5,303.0 233.5,288.7 232.5,284.8 231.5,275.9 230.5,278.2 229.5,255.6 228.5,292.7 227.5,293.0 226.5,309.1 225.5,297.6 224.5,303.0 223.5,309.3 222.5,314.0 221.5,317.7 220.5,321.5 219.5,324.8 218.5,339.6 217.5,338.3 216.5,332.0 215.5,332.4 214.5,327.9 213.5,300.4 212.5,327.0 211.5,338.7 210.5,350.8 209.5,316.6 208.5,311.4 207.5,305.6 206.5,299.7 205.5,297.8 204.5,316.8 203.5,297.8 202.5,297.5 201.5,300.0 200.5,305.0 199.5,314.6 198.5,306.8 197.5,310.8 196.5,317.5 195.5,320.2 194.5,315.2 193.5,313.3 192.5,314.7 191.5,314.0 190.5,310.1 189.5,343.4 188.5,328.5 187.5,331.5 186.5,334.7 185.5,326.3 184.5,334.1 183.5,357.9 182.5,331.1 181.5,329.3 180.5,367.4 179.5,350.3 178.5,345.0 177.5,350.7 176.5,347.5 175.5,323.3 174.5,337.2 173.5,335.7 172.5,334.0 171.5,333.0 170.5,333.6 169.5,330.8 168.5,300.7 167.5,325.2 166.5,344.4 165.5,321.4 164.5,320.7 163.5,346.9 162.5,307.8 161.5,302.2 160.5,293.1 159.5,297.6 158.5,296.5 157.5,318.7 156.5,302.6 155.5,305.5 154.5,306.3 153.5,307.3 152.5,312.1 151.5,308.2 150.5,301.8 149.5,295.3 148.5,293.4 147.5,296.0 146.5,297.3 145.5,295.0 144.5,291.2 143.5,292.6 142.5,291.5 141.5,267.4 140.5,260.6 139.5,292.0 138.5,293.5 137.5,296.4 136.5,317.2 135.5,335.0 134.5,302.4 133.5,298.2 132.5,295.3 131.5,321.7 130.5,292.2 129.5,290.2 128.5,296.3 127.5,278.0 126.5,309.3 125.5,315.6 124.5,311.3 123.5,307.9 122.5,304.4 121.5,274.9 120.5,309.9 119.5,329.6 118.5,321.9 117.5,320.7 116.5,321.6 115.5,324.4 114.5,358.3 113.5,333.4 112.5,331.7 111.5,330.4 110.5,257.6 109.5,287.3 108.5,252.9 107.5,261.8 106.5,244.7 105.5,243.8 104.5,242.5 103.5,239.2 102.5,243.3 101.5,249.2 100.5,258.2 99.5,264.2 98.5,256.0 97.5,273.9 96.5,250.6 95.5,249.7 94.5,249.9 93.5,247.9 92.5,265.6 91.5,235.5 90.5,244.7 89.5,239.6 88.5,266.1 87.5,246.2 86.5,255.6 85.5,256.9 84.5,254.1 83.5,248.8 82.5,244.1 81.5,242.2 80.5,244.8 79.5,247.4 78.5,252.7 77.5,258.3 76.5,255.1 75.5,250.9 74.5,256.1 73.5,245.5 72.5,252.9 71.5,257.7 70.5,261.5 69.5,260.5 68.5,258.9 67.5,251.5 67,251.5" fill="#FFCC00"/>
<polygon points="67,205.3 67.5,205.3 68.5,218.8 69.5,237.3 70.5,241.7 71.5,249.8 72.5,236.3 73.5,221.9 74.5,209.6 75.5,215.0 76.5,230.8 77.5,226.7 78.5,219.5 79.5,212.1 80.5,214.3 81.5,218.9 82.5,213.2 83.5,205.5 84.5,194.6 85.5,195.2 86.5,214.9 87.5,210.8 88.5,202.9 89.5,193.1 90.5,187.0 91.5,176.6 92.5,190.1 93.5,201.4 94.5,212.8 95.5,216.2 96.5,219.2 97.5,222.2 98.5,216.4 99.5,211.3 100.5,210.0 101.5,198.4 102.5,185.9 103.5,171.8 104.5,194.2 105.5,217.0 106.5,208.9 107.5,197.9 108.5,187.6 109.5,166.0 110.5,212.4 111.5,269.4 112.5,291.3 113.5,294.9 114.5,298.5 115.5,295.8 116.5,295.7 117.5,284.7 118.5,253.0 119.5,221.0 120.5,254.8 121.5,274.9 122.5,287.3 123.5,280.6 124.5,272.4 125.5,280.8 126.5,271.3 127.5,260.6 128.5,249.7 129.5,239.0 130.5,228.3 131.5,246.0 132.5,262.9 133.5,268.1 134.5,274.1 135.5,278.9 136.5,288.0 137.5,285.5 138.5,259.0 139.5,239.6 140.5,214.8 141.5,217.6 142.5,230.6 143.5,243.2 144.5,250.0 145.5,257.5 146.5,236.7 147.5,220.0 148.5,203.9 149.5,250.9 150.5,295.8 151.5,273.7 152.5,250.2 153.5,225.3 154.5,228.3 155.5,232.3 156.5,220.0 157.5,232.4 158.5,232.9 159.5,235.6 160.5,228.4 161.5,223.2 162.5,219.5 163.5,241.8 164.5,261.5 165.5,265.2 166.5,266.1 167.5,265.3 168.5,273.7 169.5,283.5 170.5,271.5 171.5,257.5 172.5,248.3 173.5,267.3 174.5,285.5 175.5,323.3 176.5,317.8 177.5,295.5 178.5,273.6 179.5,279.5 180.5,286.3 181.5,306.4 182.5,309.2 183.5,303.5 184.5,305.9 185.5,297.8 186.5,295.2 187.5,291.6 188.5,275.8 189.5,267.3 190.5,213.3 191.5,221.8 192.5,241.7 193.5,257.6 194.5,255.9 195.5,261.0 196.5,261.1 197.5,259.8 198.5,272.5 199.5,290.7 200.5,280.3 201.5,276.5 202.5,273.4 203.5,265.0 204.5,262.4 205.5,247.6 206.5,234.1 207.5,230.9 208.5,266.8 209.5,305.5 210.5,295.9 211.5,285.9 212.5,272.1 213.5,254.1 214.5,258.7 215.5,261.3 216.5,265.2 217.5,269.3 218.5,266.8 219.5,267.0 220.5,267.3 221.5,268.0 222.5,273.5 223.5,286.1 224.5,295.8 225.5,275.8 226.5,242.1 227.5,216.9 228.5,187.2 229.5,206.9 230.5,228.6 231.5,230.6 232.5,219.6 233.5,233.4 234.5,249.6 235.5,258.2 236.5,267.3 237.5,275.4 238.5,263.5 239.5,256.1 240.5,248.7 241.5,274.8 242.5,300.2 243.5,291.2 244.5,278.2 245.5,262.2 246.5,246.9 247.5,257.2 248.5,268.0 249.5,249.3 250.5,240.1 251.5,232.4 252.5,224.9 253.5,217.3 254.5,279.1 255.5,277.9 256.5,252.1 257.5,265.1 258.5,279.9 259.5,254.7 260.5,201.6 261.5,202.4 262.5,203.6 263.5,204.3 264.5,201.9 265.5,189.2 266.5,177.4 267.5,181.6 268.5,196.1 269.5,208.3 270.5,212.9 271.5,212.7 272.5,199.7 273.5,187.6 274.5,171.7 275.5,185.9 276.5,212.4 277.5,211.8 278.5,200.0 279.5,187.5 280.5,199.8 281.5,213.4 282.5,227.1 283.5,198.1 284.5,167.2 285.5,167.8 286.5,178.8 287.5,188.3 288.5,194.8 289.5,201.6 290.5,186.5 291.5,169.0 292.5,165.8 293.5,172.3 294.5,166.5 295.5,177.7 296.5,191.3 297.5,195.1 298.5,199.3 299.5,200.4 300.5,189.7 301.5,178.6 302.5,168.0 303.5,172.6 304.5,178.3 305.5,180.7 306.5,192.2 307.5,191.0 308.5,194.7 309.5,195.7 310.5,196.6 311.5,197.1 312.5,187.4 313.5,182.1 314.5,198.9 315.5,212.4 316.5,200.6 317.5,189.9 318.5,179.3 319.5,194.2 320.5,209.5 321.5,202.3 322.5,196.7 323.5,206.5 324.5,220.5 325.5,234.8 326.5,228.4 327.5,215.4 328.5,202.1 329.5,184.1 330.5,186.9 331.5,187.1 332.5,186.2 333.5,184.0 334.5,187.4 335.5,190.6 336.5,193.8 337.5,201.3 338.5,208.3 339.5,217.1 340.5,213.5 341.5,204.8 342.5,205.7 343.5,207.4 344.5,208.1 345.5,194.5 346.5,181.3 347.5,165.2 348.5,178.4 349.5,190.9 350.5,191.0 351.5,186.8 352.5,185.9 353.5,174.5 354.5,178.7 355.5,182.6 356.5,179.6 357.5,178.2 358.5,186.9 359.5,198.1 360.5,217.0 361.5,236.0 362.5,215.5 363.5,198.6 364.5,182.1 365.5,194.3 366.5,207.3 367.5,261.7 368.5,276.0 369.5,273.9 370.5,264.8 371.5,267.5 372.5,273.3 373.5,260.4 374.5,246.8 375.5,232.9 376.5,243.8 377.5,262.5 378.5,253.8 379.5,247.8 380.5,230.2 381.5,245.2 382.5,270.3 383.5,291.3 384.5,294.9 385.5,285.0 386.5,274.2 387.5,262.7 388.5,251.1 389.5,264.3 390.5,279.0 391.5,291.5 392.5,273.8 393.5,256.0 394.5,238.9 395.5,259.2 396.5,271.1 397.5,295.3 398.5,287.1 399.5,282.8 400.5,275.3 401.5,264.1 402.5,252.6 403.5,240.2 404.5,247.0 405.5,260.8 406.5,256.9 407.5,254.8 408.5,249.6 409.5,259.5 410.5,269.4 411.5,274.8 412.5,287.6 413.5,293.3 414.5,295.6 415.5,282.1 416.5,272.7 417.5,258.1 418.5,266.9 419.5,283.2 420.5,299.1 421.5,270.8 422.5,292.3 423.5,292.3 424.5,290.5 425.5,286.4 426.5,277.9 427.5,261.1 428.5,239.2 429.5,220.6 430.5,261.6 431.5,295.4 432.5,288.1 433.5,285.1 434.5,283.9 435.5,269.6 436.5,254.0 437.5,237.8 438.5,239.6 439.5,243.5 440.5,255.7 441.5,262.0 442.5,265.9 443.5,266.5 444.5,263.7 445.5,255.8 446.5,253.3 447.5,271.5 448.5,278.9 449.5,299.8 450.5,283.0 451.5,266.6 452.5,251.3 453.5,248.3 454.5,250.3 455.5,243.2 456.5,240.5 457.5,235.8 458.5,232.7 459.5,237.6 460.5,241.0 461.5,241.3 462.5,229.3 463.5,218.1 464.5,206.8 465.5,208.5 466.5,210.6 467.5,213.3 468.5,210.6 469.5,209.1 470.5,215.5 471.5,222.3 472.5,232.3 473.5,242.4 474.5,241.1 475.5,237.7 476.5,231.5 477.5,232.7 478.5,234.9 479.5,238.6 480.5,244.1 481.5,265.9 482.5,272.3 483.5,251.5 484.5,214.7 485.5,210.2 486.5,216.4 487.5,219.9 488.5,226.2 489.5,261.9 490.5,264.6 491.5,261.7 492.5,256.4 493.5,261.3 494.5,267.6 495.5,267.0 496.5,264.9 497.5,251.2 498.5,241.2 499.5,237.5 500.5,235.7 501.5,234.4 502.5,225.9 503.5,212.2 504.5,193.5 505.5,174.5 506.5,186.3 507.5,209.0 508.5,207.5 509.5,204.9 510.5,203.8 511.5,209.4 512.5,209.7 513.5,175.5 514.5,137.3 515.5,168.2 516.5,196.5 517.5,207.3 518.5,213.2 519.5,202.4 520.5,193.3 521.5,207.7 522.5,183.4 523.5,121.1 524.5,159.6 525.5,198.2 526.5,233.8 527.5,215.2 528.5,195.5 529.5,206.9 530.5,215.6 531.5,209.7 532.5,214.2 533.5,187.0 534.5,154.0 535.5,121.3 536.5,130.4 537.5,155.7 538.5,180.9 539.5,164.1 540.5,145.0 541.5,127.3 542.5,143.6 543.5,161.4 544.5,152.5 545.5,146.4 546.5,137.7 547.5,166.4 548.5,193.6 549.5,171.0 550.5,149.8 551.5,131.7 552.5,163.9 553.5,199.3 554.5,201.9 555.5,204.5 556.5,205.5 557.5,199.2 558.5,197.0 559.5,195.2 560.5,196.8 561.5,206.2 562.5,209.6 563.5,208.6 564.5,201.9 565.5,223.0 566.5,243.0 567.5,246.3 568.5,241.4 569.5,237.1 570.5,232.3 571.5,233.9 572.5,255.9 573.5,251.1 574.5,237.8 575.5,211.7 576.5,185.5 577.5,192.3 578.5,199.8 579.5,208.1 580.5,212.5 581.5,216.6 582.5,221.3 583.5,229.3 584.5,238.1 585.5,247.2 586.5,245.5 587.5,234.2 588.5,235.0 589.5,217.8 590.5,202.8 591.5,188.8 592.5,197.1 593.5,206.0 594.5,175.6 595.5,119.3 596.5,166.5 597.5,204.5 598.5,197.7 599.5,173.6 600.5,165.1 601.5,166.0 602.5,167.6 603.5,171.8 604.5,173.2 605.5,174.6 606.5,177.5 607.5,180.3 608.5,186.3 609.5,186.5 610.5,183.3 611.5,180.0 612.5,176.7 613.5,158.8 614.5,141.1 615.5,116.8 616.5,85.4 617.5,111.1 618.5,138.1 619.5,144.1 620.5,146.8 621.5,149.5 622.5,134.8 623.5,114.0 624.5,94.3 625.5,115.2 626.5,135.8 627.5,157.1 628.5,172.6 629.5,187.7 630.5,178.2 631.5,160.0 632.5,142.5 633.5,152.9 634.5,175.1 635.5,194.4 636.5,188.6 637.5,178.6 638.5,168.0 639.5,151.5 640.5,176.3 641.5,198.0 642.5,198.6 643.5,193.6 644.5,189.3 645.5,163.0 646.5,138.0 647.5,141.9 648.5,188.3 649.5,213.0 650.5,180.2 651.5,139.8 652.5,99.5 653.5,146.6 654.5,193.6 655.5,194.5 656.5,195.6 657.5,212.3 658.5,208.0 659.5,190.4 660.5,173.1 661.5,192.0 662.5,219.5 663.5,224.1 664.5,215.7 665.5,202.6 666.5,199.4 667.5,196.3 668.5,193.2 669.5,213.2 670.5,233.0 671.5,234.1 672.5,231.0 673.5,228.7 674.5,216.9 675.5,203.3 676.5,189.0 677.5,179.0 678.5,167.9 679.5,156.0 680.5,176.3 681.5,196.5 682.5,192.7 683.5,189.0 684.5,176.9 685.5,163.6 686.5,167.5 687.5,175.4 688.5,181.8 689.5,195.8 690.5,208.4 691.5,222.0 692.5,222.7 693.5,218.7 694.5,214.7 695.5,204.7 696.5,194.9 697.5,168.1 698.5,170.4 699.5,176.5 700.5,182.7 701.5,201.0 702.5,218.4 703.5,234.4 704.5,241.3 705.5,220.2 706.5,213.2 707.5,194.3 708.5,175.6 709.5,164.2 710.5,156.6 711.5,133.1 712.5,102.8 713.5,120.9 714.5,140.7 715.5,161.5 716.5,165.7 717.5,169.2 718.5,172.6 719.5,165.5 720.5,159.7 721.5,159.2 722.5,155.6 723.5,158.2 724.5,160.2 725.5,163.1 726.5,159.6 727.5,156.0 728.5,155.1 729.5,159.9 730.5,164.0 731.5,171.3 732.5,181.9 733.5,209.2 734.5,230.7 735.5,155.1 736.5,79.8 737.5,110.0 738.5,130.9 739.5,126.2 740,126.2 740,141.7 739.5,141.7 738.5,150.1 737.5,128.3 736.5,106.8 735.5,169.5 734.5,232.8 733.5,223.9 732.5,198.0 731.5,189.1 730.5,183.9 729.5,180.9 728.5,177.1 727.5,175.0 726.5,178.2 725.5,182.2 724.5,172.4 723.5,177.7 722.5,175.0 721.5,188.6 720.5,177.0 719.5,180.2 718.5,187.4 717.5,186.4 716.5,184.3 715.5,180.8 714.5,158.9 713.5,139.7 712.5,126.1 711.5,164.1 710.5,184.6 709.5,183.7 708.5,193.8 707.5,207.6 706.5,221.4 705.5,220.2 704.5,241.3 703.5,246.7 702.5,225.5 701.5,212.2 700.5,196.6 699.5,192.0 698.5,187.5 697.5,195.1 696.5,209.9 695.5,219.2 694.5,228.3 693.5,233.2 692.5,238.9 691.5,230.0 690.5,217.2 689.5,206.1 688.5,191.7 687.5,189.4 686.5,182.1 685.5,187.4 684.5,198.1 683.5,204.5 682.5,208.1 681.5,211.8 680.5,193.1 679.5,174.1 678.5,188.7 677.5,202.2 676.5,212.4 675.5,224.5 674.5,235.3 673.5,240.1 672.5,242.5 671.5,247.3 670.5,239.5 669.5,224.7 668.5,209.1 667.5,211.0 666.5,212.9 665.5,214.3 664.5,230.8 663.5,239.9 662.5,219.5 661.5,194.2 660.5,201.0 659.5,216.2 658.5,232.4 657.5,212.3 656.5,207.4 655.5,207.2 654.5,207.6 653.5,163.4 652.5,119.1 651.5,158.2 650.5,197.5 649.5,215.3 648.5,199.0 647.5,141.9 646.5,169.1 645.5,186.9 644.5,205.5 643.5,209.2 642.5,215.1 641.5,205.0 640.5,191.7 639.5,169.2 638.5,191.4 637.5,196.6 636.5,205.3 635.5,205.8 634.5,189.2 633.5,164.7 632.5,173.6 631.5,189.2 630.5,205.1 629.5,197.6 628.5,184.5 627.5,170.5 626.5,152.8 625.5,137.2 624.5,120.9 623.5,138.4 622.5,157.1 621.5,159.5 620.5,158.0 619.5,156.5 618.5,145.5 617.5,131.6 616.5,120.0 615.5,152.5 614.5,165.0 613.5,176.8 612.5,189.1 611.5,194.7 610.5,200.3 609.5,205.0 608.5,212.0 607.5,201.5 606.5,199.5 605.5,195.3 604.5,194.0 603.5,192.8 602.5,187.8 601.5,186.8 600.5,186.5 599.5,205.2 598.5,222.9 597.5,204.5 596.5,175.9 595.5,134.8 594.5,211.0 593.5,213.7 592.5,208.3 591.5,202.8 590.5,216.6 589.5,231.9 588.5,249.0 587.5,238.0 586.5,262.4 585.5,258.3 584.5,251.1 583.5,244.1 582.5,238.2 581.5,232.3 580.5,226.9 579.5,221.5 578.5,212.7 577.5,205.0 576.5,198.1 575.5,223.4 574.5,248.6 573.5,258.9 572.5,255.9 571.5,247.2 570.5,245.2 569.5,250.4 568.5,254.8 567.5,259.1 566.5,246.2 565.5,230.6 564.5,210.0 563.5,224.5 562.5,224.0 561.5,221.1 560.5,200.7 559.5,209.6 558.5,211.1 557.5,212.6 556.5,219.4 555.5,218.6 554.5,214.3 553.5,209.8 552.5,179.9 551.5,159.3 550.5,167.5 549.5,184.1 548.5,203.4 547.5,181.0 546.5,157.4 545.5,167.4 544.5,173.3 543.5,181.6 542.5,164.7 541.5,149.4 540.5,165.9 539.5,184.3 538.5,200.1 537.5,176.0 536.5,151.8 535.5,170.5 534.5,192.6 533.5,215.2 532.5,223.1 531.5,209.7 530.5,215.6 529.5,219.1 528.5,226.2 527.5,234.9 526.5,241.5 525.5,217.1 524.5,183.9 523.5,151.0 522.5,183.4 521.5,217.2 520.5,220.7 519.5,222.9 518.5,230.8 517.5,214.0 516.5,196.5 515.5,177.4 514.5,157.9 513.5,183.0 512.5,209.7 511.5,217.1 510.5,222.4 509.5,220.1 508.5,218.7 507.5,210.9 506.5,193.5 505.5,201.3 504.5,215.1 503.5,228.4 502.5,227.2 501.5,246.5 500.5,250.8 499.5,252.3 498.5,253.1 497.5,269.3 496.5,264.9 495.5,267.0 494.5,267.6 493.5,265.3 492.5,270.6 491.5,275.4 490.5,272.9 489.5,285.9 488.5,265.0 487.5,247.0 486.5,236.9 485.5,219.2 484.5,232.0 483.5,251.7 482.5,272.3 481.5,265.9 480.5,257.4 479.5,250.7 478.5,246.6 477.5,245.9 476.5,245.7 475.5,251.6 474.5,253.3 473.5,251.7 472.5,244.7 471.5,237.8 470.5,233.0 469.5,229.2 468.5,229.4 467.5,231.2 466.5,227.8 465.5,224.9 464.5,222.6 463.5,230.6 462.5,238.6 461.5,248.6 460.5,253.6 459.5,252.2 458.5,248.9 457.5,250.3 456.5,253.6 455.5,254.8 454.5,270.4 453.5,260.5 452.5,263.7 451.5,276.0 450.5,290.8 449.5,306.3 448.5,281.7 447.5,295.6 446.5,278.7 445.5,269.6 444.5,272.8 443.5,277.8 442.5,279.9 441.5,272.9 440.5,269.5 439.5,249.2 438.5,253.9 437.5,261.9 436.5,275.8 435.5,288.6 434.5,297.6 433.5,292.0 432.5,292.0 431.5,304.6 430.5,282.8 429.5,240.2 428.5,256.0 427.5,281.3 426.5,291.9 425.5,306.5 424.5,309.5 423.5,305.1 422.5,299.9 421.5,270.8 420.5,304.4 419.5,288.6 418.5,271.7 417.5,276.3 416.5,290.4 415.5,289.1 414.5,299.9 413.5,300.3 412.5,290.4 411.5,274.8 410.5,271.6 409.5,269.6 408.5,267.8 407.5,272.3 406.5,269.7 405.5,268.7 404.5,257.2 403.5,260.6 402.5,270.5 401.5,279.0 400.5,286.2 399.5,294.6 398.5,293.9 397.5,304.3 396.5,273.2 395.5,276.9 394.5,256.7 393.5,272.0 392.5,288.1 391.5,304.5 390.5,292.0 389.5,276.8 388.5,264.3 387.5,277.0 386.5,289.2 385.5,299.1 384.5,306.0 383.5,291.3 382.5,270.3 381.5,247.9 380.5,256.7 379.5,284.1 378.5,276.0 377.5,271.0 376.5,253.3 375.5,256.2 374.5,267.1 373.5,277.3 372.5,288.3 371.5,289.0 370.5,292.2 369.5,296.6 368.5,281.1 367.5,261.7 366.5,232.0 365.5,212.2 364.5,194.6 363.5,210.1 362.5,220.6 361.5,244.4 360.5,228.6 359.5,213.2 358.5,202.3 357.5,197.9 356.5,194.9 355.5,193.6 354.5,189.5 353.5,190.2 352.5,214.2 351.5,204.7 350.5,210.1 349.5,210.4 348.5,195.4 347.5,174.7 346.5,191.3 345.5,199.3 344.5,208.6 343.5,213.3 342.5,216.8 341.5,211.9 340.5,229.5 339.5,234.1 338.5,224.9 337.5,219.6 336.5,213.6 335.5,209.7 334.5,205.3 333.5,201.1 332.5,205.1 331.5,206.2 330.5,204.3 329.5,194.9 328.5,223.1 327.5,237.9 326.5,251.6 325.5,246.4 324.5,235.2 323.5,224.7 322.5,221.2 321.5,218.0 320.5,215.9 319.5,209.0 318.5,206.9 317.5,212.6 316.5,218.5 315.5,226.1 314.5,223.4 313.5,211.9 312.5,209.2 311.5,218.8 310.5,211.4 309.5,211.9 308.5,212.1 307.5,208.9 306.5,219.0 305.5,193.4 304.5,195.6 303.5,189.8 302.5,185.5 301.5,194.4 300.5,204.6 299.5,213.7 298.5,215.5 297.5,208.4 296.5,202.7 295.5,190.0 294.5,184.0 293.5,198.1 292.5,176.9 291.5,183.2 290.5,208.3 289.5,226.4 288.5,217.7 287.5,209.5 286.5,198.4 285.5,189.4 284.5,210.0 283.5,225.9 282.5,236.3 281.5,226.5 280.5,216.8 279.5,217.8 278.5,229.6 277.5,240.6 276.5,221.8 275.5,193.8 274.5,201.1 273.5,219.1 272.5,226.3 271.5,233.8 270.5,235.8 269.5,224.7 268.5,211.9 267.5,192.6 266.5,202.5 265.5,212.0 264.5,224.2 263.5,220.5 262.5,219.6 261.5,218.2 260.5,218.4 259.5,254.7 258.5,290.0 257.5,286.9 256.5,288.9 255.5,304.5 254.5,279.1 253.5,240.2 252.5,246.4 251.5,252.7 250.5,259.4 249.5,266.5 248.5,273.8 247.5,270.8 246.5,267.9 245.5,282.4 244.5,297.2 243.5,303.0 242.5,300.2 241.5,283.2 240.5,266.6 239.5,272.9 238.5,278.2 237.5,289.2 236.5,280.8 235.5,271.8 234.5,264.2 233.5,255.6 232.5,249.3 231.5,261.3 230.5,235.5 229.5,218.0 228.5,203.1 227.5,235.1 226.5,254.1 225.5,297.6 224.5,301.9 223.5,301.6 222.5,296.0 221.5,289.1 220.5,289.1 219.5,289.7 218.5,287.6 217.5,286.2 216.5,278.9 215.5,273.2 214.5,268.7 213.5,258.1 212.5,285.7 211.5,298.1 210.5,305.9 209.5,312.8 208.5,290.0 207.5,275.2 206.5,256.3 205.5,266.4 204.5,277.6 203.5,286.1 202.5,296.2 201.5,290.8 200.5,286.4 199.5,298.5 198.5,279.7 197.5,276.4 196.5,278.7 195.5,279.6 194.5,265.0 193.5,270.6 192.5,267.6 191.5,251.1 190.5,266.0 189.5,291.7 188.5,286.7 187.5,302.6 186.5,307.0 185.5,310.1 184.5,327.0 183.5,317.3 182.5,331.1 181.5,320.9 180.5,317.9 179.5,319.4 178.5,321.1 177.5,328.8 176.5,337.1 175.5,323.3 174.5,316.1 173.5,293.9 172.5,269.4 171.5,274.3 170.5,285.4 169.5,294.6 168.5,288.4 167.5,284.2 166.5,285.2 165.5,284.3 164.5,272.8 163.5,256.2 162.5,235.3 161.5,237.4 160.5,241.8 159.5,248.8 158.5,251.1 157.5,265.5 156.5,246.0 155.5,250.4 154.5,248.9 153.5,248.6 152.5,268.7 151.5,287.3 150.5,301.8 149.5,265.3 148.5,223.1 147.5,237.3 146.5,253.0 145.5,272.1 144.5,261.9 143.5,254.0 142.5,244.2 141.5,232.7 140.5,247.9 139.5,267.7 138.5,271.9 137.5,296.4 136.5,312.1 135.5,295.3 134.5,289.9 133.5,281.5 132.5,274.5 131.5,265.3 130.5,254.9 129.5,261.8 128.5,268.9 127.5,276.3 126.5,284.0 125.5,289.9 124.5,289.4 123.5,296.0 122.5,301.7 121.5,274.9 120.5,277.2 119.5,261.8 118.5,277.4 117.5,292.2 116.5,318.1 115.5,312.9 114.5,314.9 113.5,315.4 112.5,315.7 111.5,269.4 110.5,220.2 109.5,206.9 108.5,190.6 107.5,207.9 106.5,219.5 105.5,228.8 104.5,208.9 103.5,190.1 102.5,208.7 101.5,223.7 100.5,235.6 99.5,227.9 98.5,231.6 97.5,236.3 96.5,233.6 95.5,230.0 94.5,225.9 93.5,216.1 92.5,206.2 91.5,190.7 90.5,205.7 89.5,208.5 88.5,221.7 87.5,229.6 86.5,226.6 85.5,196.2 84.5,216.2 83.5,226.6 82.5,227.6 81.5,226.5 80.5,222.6 79.5,226.2 78.5,232.9 77.5,239.3 76.5,238.5 75.5,229.1 74.5,244.2 73.5,245.5 72.5,252.9 71.5,257.7 70.5,250.2 69.5,254.6 68.5,229.5 67.5,218.8 67,218.8" fill="#330099"/>
<polygon points="67,200.3 67.5,200.3 68.5,214.8 69.5,231.0 70.5,238.5 71.5,246.9 72.5,230.2 73.5,213.2 74.5,196.9 75.5,209.8 76.5,227.9 77.5,222.0 78.5,214.5 79.5,206.9 80.5,211.2 81.5,216.1 82.5,207.8 83.5,197.8 84.5,186.7 85.5,194.9 86.5,210.6 87.5,203.9 88.5,195.9 89.5,187.4 90.5,180.1 91.5,171.4 92.5,184.1 93.5,196.0 94.5,208.0 95.5,211.0 96.5,213.9 97.5,217.0 98.5,210.7 99.5,205.2 100.5,200.6 101.5,189.1 102.5,177.5 103.5,165.1 104.5,188.8 105.5,212.6 106.5,205.0 107.5,194.3 108.5,186.5 109.5,150.9 110.5,209.5 111.5,269.4 112.5,282.3 113.5,287.4 114.5,292.4 115.5,289.5 116.5,287.4 117.5,281.9 118.5,244.0 119.5,205.9 120.5,246.6 121.5,274.9 122.5,281.9 123.5,275.0 124.5,266.1 125.5,277.5 126.5,266.7 127.5,254.8 128.5,242.7 129.5,230.6 130.5,218.5 131.5,238.9 132.5,258.6 133.5,263.1 134.5,268.2 135.5,272.8 136.5,279.1 137.5,281.4 138.5,254.2 139.5,229.3 140.5,202.6 141.5,212.0 142.5,225.6 143.5,239.2 144.5,245.6 145.5,252.1 146.5,230.6 147.5,213.6 148.5,196.8 149.5,245.5 150.5,293.6 151.5,268.7 152.5,243.3 153.5,216.7 154.5,220.7 155.5,225.6 156.5,210.4 157.5,220.1 158.5,226.1 159.5,230.8 160.5,223.4 161.5,218.0 162.5,213.7 163.5,236.5 164.5,257.3 165.5,258.2 166.5,259.0 167.5,258.3 168.5,268.3 169.5,279.5 170.5,266.4 171.5,251.3 172.5,240.6 173.5,257.5 174.5,274.3 175.5,323.3 176.5,310.7 177.5,283.2 178.5,256.0 179.5,264.8 180.5,274.6 181.5,301.1 182.5,301.1 183.5,298.3 184.5,298.1 185.5,293.3 186.5,290.8 187.5,287.5 188.5,271.7 189.5,258.3 190.5,193.9 191.5,210.9 192.5,232.1 193.5,252.8 194.5,252.5 195.5,254.1 196.5,254.5 197.5,253.7 198.5,269.8 199.5,287.9 200.5,278.0 201.5,271.3 202.5,265.0 203.5,257.2 204.5,256.8 205.5,240.6 206.5,226.0 207.5,214.5 208.5,258.2 209.5,302.8 210.5,292.2 211.5,281.4 212.5,267.1 213.5,252.7 214.5,255.0 215.5,257.0 216.5,260.2 217.5,263.0 218.5,259.1 219.5,258.7 220.5,259.3 221.5,260.2 222.5,265.2 223.5,280.4 224.5,293.6 225.5,267.8 226.5,237.6 227.5,210.2 228.5,181.3 229.5,202.8 230.5,226.1 231.5,219.2 232.5,208.6 233.5,225.2 234.5,244.2 235.5,253.2 236.5,262.3 237.5,270.3 238.5,258.1 239.5,249.9 240.5,242.0 241.5,271.7 242.5,300.2 243.5,286.8 244.5,271.3 245.5,254.7 246.5,239.1 247.5,252.1 248.5,265.9 249.5,242.9 250.5,233.0 251.5,224.9 252.5,216.9 253.5,208.9 254.5,279.1 255.5,268.0 256.5,238.6 257.5,257.1 258.5,276.2 259.5,254.7 260.5,195.4 261.5,196.6 262.5,197.8 263.5,198.4 264.5,193.7 265.5,180.8 266.5,168.1 267.5,177.5 268.5,190.3 269.5,202.3 270.5,204.4 271.5,205.0 272.5,189.8 273.5,175.9 274.5,160.9 275.5,182.9 276.5,208.9 277.5,201.1 278.5,189.1 279.5,176.3 280.5,193.6 281.5,208.6 282.5,223.7 283.5,187.8 284.5,151.4 285.5,159.8 286.5,171.6 287.5,180.5 288.5,186.4 289.5,192.4 290.5,178.5 291.5,163.7 292.5,161.8 293.5,162.8 294.5,160.0 295.5,173.2 296.5,187.1 297.5,190.1 298.5,193.3 299.5,195.4 300.5,184.2 301.5,172.8 302.5,161.6 303.5,166.3 304.5,171.9 305.5,176.0 306.5,182.4 307.5,184.3 308.5,188.3 309.5,189.7 310.5,191.1 311.5,189.2 312.5,179.4 313.5,171.0 314.5,189.9 315.5,207.3 316.5,194.0 317.5,181.6 318.5,169.2 319.5,188.7 320.5,207.2 321.5,196.6 322.5,187.7 323.5,199.7 324.5,215.1 325.5,230.6 326.5,219.8 327.5,207.1 328.5,194.3 329.5,180.2 330.5,180.5 331.5,180.1 332.5,179.2 333.5,177.7 334.5,180.9 335.5,183.6 336.5,186.5 337.5,194.5 338.5,202.2 339.5,210.8 340.5,207.6 341.5,202.2 342.5,201.7 343.5,205.2 344.5,208.0 345.5,192.7 346.5,177.6 347.5,161.6 348.5,172.1 349.5,183.7 350.5,184.0 351.5,180.2 352.5,175.4 353.5,168.7 354.5,174.7 355.5,178.6 356.5,174.0 357.5,171.0 358.5,181.3 359.5,192.5 360.5,212.7 361.5,232.9 362.5,213.7 363.5,194.3 364.5,177.5 365.5,187.7 366.5,198.2 367.5,261.7 368.5,274.1 369.5,265.6 370.5,254.6 371.5,259.6 372.5,267.7 373.5,254.2 374.5,239.3 375.5,224.3 376.5,240.3 377.5,259.4 378.5,245.6 379.5,234.4 380.5,220.5 381.5,244.2 382.5,270.3 383.5,291.3 384.5,290.8 385.5,279.8 386.5,268.6 387.5,257.5 388.5,246.2 389.5,259.6 390.5,274.2 391.5,286.7 392.5,268.5 393.5,250.0 394.5,232.3 395.5,252.7 396.5,270.4 397.5,291.9 398.5,284.5 399.5,278.4 400.5,271.3 401.5,258.6 402.5,246.0 403.5,232.7 404.5,243.3 405.5,257.9 406.5,252.2 407.5,248.3 408.5,242.9 409.5,255.8 410.5,268.6 411.5,274.8 412.5,286.6 413.5,290.7 414.5,294.0 415.5,279.5 416.5,266.1 417.5,251.5 418.5,265.2 419.5,281.2 420.5,297.2 421.5,270.8 422.5,289.4 423.5,287.5 424.5,283.5 425.5,279.0 426.5,272.7 427.5,253.6 428.5,233.0 429.5,213.4 430.5,253.8 431.5,292.0 432.5,286.6 433.5,282.6 434.5,278.9 435.5,262.5 436.5,245.9 437.5,228.9 438.5,234.4 439.5,241.4 440.5,250.6 441.5,257.9 442.5,260.7 443.5,262.3 444.5,260.3 445.5,250.8 446.5,243.9 447.5,262.6 448.5,277.9 449.5,297.4 450.5,280.1 451.5,263.1 452.5,246.7 453.5,243.8 454.5,242.9 455.5,238.9 456.5,235.6 457.5,230.4 458.5,226.7 459.5,232.2 460.5,236.4 461.5,238.6 462.5,225.9 463.5,213.5 464.5,201.0 465.5,202.4 466.5,204.2 467.5,206.8 468.5,203.7 469.5,201.7 470.5,209.1 471.5,216.6 472.5,227.8 473.5,239.0 474.5,236.7 475.5,232.6 476.5,226.2 477.5,227.8 478.5,230.6 479.5,234.1 480.5,239.2 481.5,265.9 482.5,272.3 483.5,251.5 484.5,208.2 485.5,206.8 486.5,208.8 487.5,209.9 488.5,211.9 489.5,253.1 490.5,261.6 491.5,256.7 492.5,251.2 493.5,259.8 494.5,267.6 495.5,267.0 496.5,264.9 497.5,244.5 498.5,236.8 499.5,232.1 500.5,230.1 501.5,230.0 502.5,225.4 503.5,206.2 504.5,185.5 505.5,164.5 506.5,183.6 507.5,208.2 508.5,203.3 509.5,199.3 510.5,196.9 511.5,206.6 512.5,209.7 513.5,172.8 514.5,129.7 515.5,164.8 516.5,196.5 517.5,204.8 518.5,206.7 519.5,194.8 520.5,183.2 521.5,204.2 522.5,183.4 523.5,110.1 524.5,150.6 525.5,191.3 526.5,230.9 527.5,207.9 528.5,184.2 529.5,202.4 530.5,215.6 531.5,209.7 532.5,211.0 533.5,176.5 534.5,139.8 535.5,103.1 536.5,122.5 537.5,148.2 538.5,173.8 539.5,156.6 540.5,137.3 541.5,119.1 542.5,135.9 543.5,153.9 544.5,144.8 545.5,138.6 546.5,130.4 547.5,161.0 548.5,190.0 549.5,166.1 550.5,143.3 551.5,121.5 552.5,157.9 553.5,195.4 554.5,197.4 555.5,199.3 556.5,200.4 557.5,194.2 558.5,191.8 559.5,189.9 560.5,195.3 561.5,200.7 562.5,204.3 563.5,202.7 564.5,198.8 565.5,220.2 566.5,241.8 567.5,241.6 568.5,236.5 569.5,232.2 570.5,227.6 571.5,229.0 572.5,255.9 573.5,248.2 574.5,233.8 575.5,207.3 576.5,180.8 577.5,187.6 578.5,195.0 579.5,203.1 580.5,207.2 581.5,210.8 582.5,215.1 583.5,223.8 584.5,233.2 585.5,243.2 586.5,239.3 587.5,232.7 588.5,229.8 589.5,212.6 590.5,197.6 591.5,183.6 592.5,192.9 593.5,203.1 594.5,162.5 595.5,113.6 596.5,163.0 597.5,204.5 598.5,188.4 599.5,161.9 600.5,157.1 601.5,158.3 602.5,160.2 603.5,164.1 604.5,165.5 605.5,167.0 606.5,169.4 607.5,172.5 608.5,176.8 609.5,179.6 610.5,177.0 611.5,174.5 612.5,172.1 613.5,152.1 614.5,132.2 615.5,103.6 616.5,72.6 617.5,103.5 618.5,135.3 619.5,139.5 620.5,142.6 621.5,145.8 622.5,126.5 623.5,105.0 624.5,84.5 625.5,107.0 626.5,129.5 627.5,152.1 628.5,168.1 629.5,184.1 630.5,168.3 631.5,149.2 632.5,131.0 633.5,148.6 634.5,169.8 635.5,190.2 636.5,182.4 637.5,172.0 638.5,159.4 639.5,144.9 640.5,170.7 641.5,195.4 642.5,192.5 643.5,187.8 644.5,183.3 645.5,154.2 646.5,126.6 647.5,141.9 648.5,184.4 649.5,212.2 650.5,173.8 651.5,133.0 652.5,92.2 653.5,140.4 654.5,188.5 655.5,189.8 656.5,191.2 657.5,212.3 658.5,199.0 659.5,180.9 660.5,162.8 661.5,191.2 662.5,219.5 663.5,218.2 664.5,210.1 665.5,198.3 666.5,194.4 667.5,190.8 668.5,187.3 669.5,209.0 670.5,230.6 671.5,229.2 672.5,226.7 673.5,224.5 674.5,210.1 675.5,195.5 676.5,180.4 677.5,170.4 678.5,160.2 679.5,149.4 680.5,170.1 681.5,190.9 682.5,187.1 683.5,183.3 684.5,169.1 685.5,154.7 686.5,162.1 687.5,170.3 688.5,178.2 689.5,192.0 690.5,205.2 691.5,219.1 692.5,216.7 693.5,213.3 694.5,209.6 695.5,199.4 696.5,189.3 697.5,158.2 698.5,164.0 699.5,170.9 700.5,177.5 701.5,196.9 702.5,215.7 703.5,229.8 704.5,241.3 705.5,220.2 706.5,210.2 707.5,189.4 708.5,168.9 709.5,157.0 710.5,146.3 711.5,121.6 712.5,94.2 713.5,113.9 714.5,133.9 715.5,154.4 716.5,158.8 717.5,162.9 718.5,167.2 719.5,160.1 720.5,153.4 721.5,148.3 722.5,148.4 723.5,151.0 724.5,155.7 725.5,156.0 726.5,152.7 727.5,148.9 728.5,147.0 729.5,152.2 730.5,156.7 731.5,164.7 732.5,175.9 733.5,203.8 734.5,229.9 735.5,149.8 736.5,69.9 737.5,103.2 738.5,123.8 739.5,120.4 740,120.4 740,126.2 739.5,126.2 738.5,130.9 737.5,110.0 736.5,79.8 735.5,155.1 734.5,230.7 733.5,209.2 732.5,181.9 731.5,171.3 730.5,164.0 729.5,159.9 728.5,155.1 727.5,156.0 726.5,159.6 725.5,163.1 724.5,160.2 723.5,158.2 722.5,155.6 721.5,159.2 720.5,159.7 719.5,165.5 718.5,172.6 717.5,169.2 716.5,165.7 715.5,161.5 714.5,140.7 713.5,120.9 712.5,102.8 711.5,133.1 710.5,156.6 709.5,164.2 708.5,175.6 707.5,194.3 706.5,213.2 705.5,220.2 704.5,241.3 703.5,234.4 702.5,218.4 701.5,201.0 700.5,182.7 699.5,176.5 698.5,170.4 697.5,168.1 696.5,194.9 695.5,204.7 694.5,214.7 693.5,218.7 692.5,222.7 691.5,222.0 690.5,208.4 689.5,195.8 688.5,181.8 687.5,175.4 686.5,167.5 685.5,163.6 684.5,176.9 683.5,189.0 682.5,192.7 681.5,196.5 680.5,176.3 679.5,156.0 678.5,167.9 677.5,179.0 676.5,189.0 675.5,203.3 674.5,216.9 673.5,228.7 672.5,231.0 671.5,234.1 670.5,233.0 669.5,213.2 668.5,193.2 667.5,196.3 666.5,199.4 665.5,202.6 664.5,215.7 663.5,224.1 662.5,219.5 661.5,192.0 660.5,173.1 659.5,190.4 658.5,208.0 657.5,212.3 656.5,195.6 655.5,194.5 654.5,193.6 653.5,146.6 652.5,99.5 651.5,139.8 650.5,180.2 649.5,213.0 648.5,188.3 647.5,141.9 646.5,138.0 645.5,163.0 644.5,189.3 643.5,193.6 642.5,198.6 641.5,198.0 640.5,176.3 639.5,151.5 638.5,168.0 637.5,178.6 636.5,188.6 635.5,194.4 634.5,175.1 633.5,152.9 632.5,142.5 631.5,160.0 630.5,178.2 629.5,187.7 628.5,172.6 627.5,157.1 626.5,135.8 625.5,115.2 624.5,94.3 623.5,114.0 622.5,134.8 621.5,149.5 620.5,146.8 619.5,144.1 618.5,138.1 617.5,111.1 616.5,85.4 615.5,116.8 614.5,141.1 613.5,158.8 612.5,176.7 611.5,180.0 610.5,183.3 609.5,186.5 608.5,186.3 607.5,180.3 606.5,177.5 605.5,174.6 604.5,173.2 603.5,171.8 602.5,167.6 601.5,166.0 600.5,165.1 599.5,173.6 598.5,197.7 597.5,204.5 596.5,166.5 595.5,119.3 594.5,175.6 593.5,206.0 592.5,197.1 591.5,188.8 590.5,202.8 589.5,217.8 588.5,235.0 587.5,234.2 586.5,245.5 585.5,247.2 584.5,238.1 583.5,229.3 582.5,221.3 581.5,216.6 580.5,212.5 579.5,208.1 578.5,199.8 577.5,192.3 576.5,185.5 575.5,211.7 574.5,237.8 573.5,251.1 572.5,255.9 571.5,233.9 570.5,232.3 569.5,237.1 568.5,241.4 567.5,246.3 566.5,243.0 565.5,223.0 564.5,201.9 563.5,208.6 562.5,209.6 561.5,206.2 560.5,196.8 559.5,195.2 558.5,197.0 557.5,199.2 556.5,205.5 555.5,204.5 554.5,201.9 553.5,199.3 552.5,163.9 551.5,131.7 550.5,149.8 549.5,171.0 548.5,193.6 547.5,166.4 546.5,137.7 545.5,146.4 544.5,152.5 543.5,161.4 542.5,143.6 541.5,127.3 540.5,145.0 539.5,164.1 538.5,180.9 537.5,155.7 536.5,130.4 535.5,121.3 534.5,154.0 533.5,187.0 532.5,214.2 531.5,209.7 530.5,215.6 529.5,206.9 528.5,195.5 527.5,215.2 526.5,233.8 525.5,198.2 524.5,159.6 523.5,121.1 522.5,183.4 521.5,207.7 520.5,193.3 519.5,202.4 518.5,213.2 517.5,207.3 516.5,196.5 515.5,168.2 514.5,137.3 513.5,175.5 512.5,209.7 511.5,209.4 510.5,203.8 509.5,204.9 508.5,207.5 507.5,209.0 506.5,186.3 505.5,174.5 504.5,193.5 503.5,212.2 502.5,225.9 501.5,234.4 500.5,235.7 499.5,237.5 498.5,241.2 497.5,251.2 496.5,264.9 495.5,267.0 494.5,267.6 493.5,261.3 492.5,256.4 491.5,261.7 490.5,264.6 489.5,261.9 488.5,226.2 487.5,219.9 486.5,216.4 485.5,210.2 484.5,214.7 483.5,251.5 482.5,272.3 481.5,265.9 480.5,244.1 479.5,238.6 478.5,234.9 477.5,232.7 476.5,231.5 475.5,237.7 474.5,241.1 473.5,242.4 472.5,232.3 471.5,222.3 470.5,215.5 469.5,209.1 468.5,210.6 467.5,213.3 466.5,210.6 465.5,208.5 464.5,206.8 463.5,218.1 462.5,229.3 461.5,241.3 460.5,241.0 459.5,237.6 458.5,232.7 457.5,235.8 456.5,240.5 455.5,243.2 454.5,250.3 453.5,248.3 452.5,251.3 451.5,266.6 450.5,283.0 449.5,299.8 448.5,278.9 447.5,271.5 446.5,253.3 445.5,255.8 444.5,263.7 443.5,266.5 442.5,265.9 441.5,262.0 440.5,255.7 439.5,243.5 438.5,239.6 437.5,237.8 436.5,254.0 435.5,269.6 434.5,283.9 433.5,285.1 432.5,288.1 431.5,295.4 430.5,261.6 429.5,220.6 428.5,239.2 427.5,261.1 426.5,277.9 425.5,286.4 424.5,290.5 423.5,292.3 422.5,292.3 421.5,270.8 420.5,299.1 419.5,283.2 418.5,266.9 417.5,258.1 416.5,272.7 415.5,282.1 414.5,295.6 413.5,293.3 412.5,287.6 411.5,274.8 410.5,269.4 409.5,259.5 408.5,249.6 407.5,254.8 406.5,256.9 405.5,260.8 404.5,247.0 403.5,240.2 402.5,252.6 401.5,264.1 400.5,275.3 399.5,282.8 398.5,287.1 397.5,295.3 396.5,271.1 395.5,259.2 394.5,238.9 393.5,256.0 392.5,273.8 391.5,291.5 390.5,279.0 389.5,264.3 388.5,251.1 387.5,262.7 386.5,274.2 385.5,285.0 384.5,294.9 383.5,291.3 382.5,270.3 381.5,245.2 380.5,230.2 379.5,247.8 378.5,253.8 377.5,262.5 376.5,243.8 375.5,232.9 374.5,246.8 373.5,260.4 372.5,273.3 371.5,267.5 370.5,264.8 369.5,273.9 368.5,276.0 367.5,261.7 366.5,207.3 365.5,194.3 364.5,182.1 363.5,198.6 362.5,215.5 361.5,236.0 360.5,217.0 359.5,198.1 358.5,186.9 357.5,178.2 356.5,179.6 355.5,182.6 354.5,178.7 353.5,174.5 352.5,185.9 351.5,186.8 350.5,191.0 349.5,190.9 348.5,178.4 347.5,165.2 346.5,181.3 345.5,194.5 344.5,208.1 343.5,207.4 342.5,205.7 341.5,204.8 340.5,213.5 339.5,217.1 338.5,208.3 337.5,201.3 336.5,193.8 335.5,190.6 334.5,187.4 333.5,184.0 332.5,186.2 331.5,187.1 330.5,186.9 329.5,184.1 328.5,202.1 327.5,215.4 326.5,228.4 325.5,234.8 324.5,220.5 323.5,206.5 322.5,196.7 321.5,202.3 320.5,209.5 319.5,194.2 318.5,179.3 317.5,189.9 316.5,200.6 315.5,212.4 314.5,198.9 313.5,182.1 312.5,187.4 311.5,197.1 310.5,196.6 309.5,195.7 308.5,194.7 307.5,191.0 306.5,192.2 305.5,180.7 304.5,178.3 303.5,172.6 302.5,168.0 301.5,178.6 300.5,189.7 299.5,200.4 298.5,199.3 297.5,195.1 296.5,191.3 295.5,177.7 294.5,166.5 293.5,172.3 292.5,165.8 291.5,169.0 290.5,186.5 289.5,201.6 288.5,194.8 287.5,188.3 286.5,178.8 285.5,167.8 284.5,167.2 283.5,198.1 282.5,227.1 281.5,213.4 280.5,199.8 279.5,187.5 278.5,200.0 277.5,211.8 276.5,212.4 275.5,185.9 274.5,171.7 273.5,187.6 272.5,199.7 271.5,212.7 270.5,212.9 269.5,208.3 268.5,196.1 267.5,181.6 266.5,177.4 265.5,189.2 264.5,201.9 263.5,204.3 262.5,203.6 261.5,202.4 260.5,201.6 259.5,254.7 258.5,279.9 257.5,265.1 256.5,252.1 255.5,277.9 254.5,279.1 253.5,217.3 252.5,224.9 251.5,232.4 250.5,240.1 249.5,249.3 248.5,268.0 247.5,257.2 246.5,246.9 245.5,262.2 244.5,278.2 243.5,291.2 242.5,300.2 241.5,274.8 240.5,248.7 239.5,256.1 238.5,263.5 237.5,275.4 236.5,267.3 235.5,258.2 234.5,249.6 233.5,233.4 232.5,219.6 231.5,230.6 230.5,228.6 229.5,206.9 228.5,187.2 227.5,216.9 226.5,242.1 225.5,275.8 224.5,295.8 223.5,286.1 222.5,273.5 221.5,268.0 220.5,267.3 219.5,267.0 218.5,266.8 217.5,269.3 216.5,265.2 215.5,261.3 214.5,258.7 213.5,254.1 212.5,272.1 211.5,285.9 210.5,295.9 209.5,305.5 208.5,266.8 207.5,230.9 206.5,234.1 205.5,247.6 204.5,262.4 203.5,265.0 202.5,273.4 201.5,276.5 200.5,280.3 199.5,290.7 198.5,272.5 197.5,259.8 196.5,261.1 195.5,261.0 194.5,255.9 193.5,257.6 192.5,241.7 191.5,221.8 190.5,213.3 189.5,267.3 188.5,275.8 187.5,291.6 186.5,295.2 185.5,297.8 184.5,305.9 183.5,303.5 182.5,309.2 181.5,306.4 180.5,286.3 179.5,279.5 178.5,273.6 177.5,295.5 176.5,317.8 175.5,323.3 174.5,285.5 173.5,267.3 172.5,248.3 171.5,257.5 170.5,271.5 169.5,283.5 168.5,273.7 167.5,265.3 166.5,266.1 165.5,265.2 164.5,261.5 163.5,241.8 162.5,219.5 161.5,223.2 160.5,228.4 159.5,235.6 158.5,232.9 157.5,232.4 156.5,220.0 155.5,232.3 154.5,228.3 153.5,225.3 152.5,250.2 151.5,273.7 150.5,295.8 149.5,250.9 148.5,203.9 147.5,220.0 146.5,236.7 145.5,257.5 144.5,250.0 143.5,243.2 142.5,230.6 141.5,217.6 140.5,214.8 139.5,239.6 138.5,259.0 137.5,285.5 136.5,288.0 135.5,278.9 134.5,274.1 133.5,268.1 132.5,262.9 131.5,246.0 130.5,228.3 129.5,239.0 128.5,249.7 127.5,260.6 126.5,271.3 125.5,280.8 124.5,272.4 123.5,280.6 122.5,287.3 121.5,274.9 120.5,254.8 119.5,221.0 118.5,253.0 117.5,284.7 116.5,295.7 115.5,295.8 114.5,298.5 113.5,294.9 112.5,291.3 111.5,269.4 110.5,212.4 109.5,166.0 108.5,187.6 107.5,197.9 106.5,208.9 105.5,217.0 104.5,194.2 103.5,171.8 102.5,185.9 101.5,198.4 100.5,210.0 99.5,211.3 98.5,216.4 97.5,222.2 96.5,219.2 95.5,216.2 94.5,212.8 93.5,201.4 92.5,190.1 91.5,176.6 90.5,187.0 89.5,193.1 88.5,202.9 87.5,210.8 86.5,214.9 85.5,195.2 84.5,194.6 83.5,205.5 82.5,213.2 81.5,218.9 80.5,214.3 79.5,212.1 78.5,219.5 77.5,226.7 76.5,230.8 75.5,215.0 74.5,209.6 73.5,221.9 72.5,236.3 71.5,249.8 70.5,241.7 69.5,237.3 68.5,218.8 67.5,205.3 67,205.3" fill="#990099"/>
<polygon points="67,198.8 67.5,198.8 68.5,213.7 69.5,229.1 70.5,237.6 71.5,246.1 72.5,228.4 73.5,210.7 74.5,193.1 75.5,208.2 76.5,227.1 77.5,220.7 78.5,213.1 79.5,205.4 80.5,210.3 81.5,215.3 82.5,206.3 83.5,195.5 84.5,184.3 85.5,194.8 86.5,209.3 87.5,201.8 88.5,193.9 89.5,185.8 90.5,178.1 91.5,169.9 92.5,182.4 93.5,194.4 94.5,206.5 95.5,209.5 96.5,212.3 97.5,215.5 98.5,209.1 99.5,203.4 100.5,197.8 101.5,186.4 102.5,175.0 103.5,163.1 104.5,187.2 105.5,211.3 106.5,203.8 107.5,193.2 108.5,186.2 109.5,146.5 110.5,208.7 111.5,269.4 112.5,279.7 113.5,285.1 114.5,290.6 115.5,287.7 116.5,285.0 117.5,281.1 118.5,241.3 119.5,201.5 120.5,244.2 121.5,274.9 122.5,280.4 123.5,273.3 124.5,264.2 125.5,276.5 126.5,265.3 127.5,253.1 128.5,240.6 129.5,228.1 130.5,215.6 131.5,236.8 132.5,257.4 133.5,261.7 134.5,266.5 135.5,271.0 136.5,276.6 137.5,280.3 138.5,252.9 139.5,226.3 140.5,199.0 141.5,210.4 142.5,224.2 143.5,238.0 144.5,244.3 145.5,250.5 146.5,228.9 147.5,211.8 148.5,194.8 149.5,244.0 150.5,293.0 151.5,267.2 152.5,241.3 153.5,214.2 154.5,218.5 155.5,223.6 156.5,207.6 157.5,216.6 158.5,224.2 159.5,229.3 160.5,222.0 161.5,216.5 162.5,212.0 163.5,234.9 164.5,256.1 165.5,256.2 166.5,257.0 167.5,256.3 168.5,266.7 169.5,278.3 170.5,264.9 171.5,249.5 172.5,238.3 173.5,254.7 174.5,271.0 175.5,323.3 176.5,308.6 177.5,279.6 178.5,250.9 179.5,260.5 180.5,271.2 181.5,299.5 182.5,298.7 183.5,296.8 184.5,295.8 185.5,291.9 186.5,289.6 187.5,286.3 188.5,270.5 189.5,255.7 190.5,188.2 191.5,207.8 192.5,229.3 193.5,251.3 194.5,251.5 195.5,252.1 196.5,252.6 197.5,251.9 198.5,269.0 199.5,287.1 200.5,277.4 201.5,269.7 202.5,262.5 203.5,254.9 204.5,255.2 205.5,238.6 206.5,223.6 207.5,209.7 208.5,255.7 209.5,302.0 210.5,291.1 211.5,280.1 212.5,265.7 213.5,252.2 214.5,253.9 215.5,255.7 216.5,258.7 217.5,261.2 218.5,256.8 219.5,256.2 220.5,257.0 221.5,257.9 222.5,262.7 223.5,278.7 224.5,293.0 225.5,265.4 226.5,236.3 227.5,208.2 228.5,179.6 229.5,201.6 230.5,225.4 231.5,215.9 232.5,205.4 233.5,222.8 234.5,242.6 235.5,251.7 236.5,260.9 237.5,268.8 238.5,256.5 239.5,248.1 240.5,240.1 241.5,270.8 242.5,300.2 243.5,285.5 244.5,269.2 245.5,252.5 246.5,236.9 247.5,250.7 248.5,265.3 249.5,241.0 250.5,230.9 251.5,222.7 252.5,214.6 253.5,206.4 254.5,279.1 255.5,265.1 256.5,234.6 257.5,254.8 258.5,275.1 259.5,254.7 260.5,193.6 261.5,194.9 262.5,196.1 263.5,196.6 264.5,191.3 265.5,178.3 266.5,165.4 267.5,176.3 268.5,188.6 269.5,200.5 270.5,201.9 271.5,202.7 272.5,187.0 273.5,172.6 274.5,157.7 275.5,182.1 276.5,207.9 277.5,198.0 278.5,185.9 279.5,173.1 280.5,191.7 281.5,207.2 282.5,222.7 283.5,184.8 284.5,146.7 285.5,157.5 286.5,169.5 287.5,178.2 288.5,183.9 289.5,189.7 290.5,176.1 291.5,162.2 292.5,160.6 293.5,160.0 294.5,158.1 295.5,171.8 296.5,185.9 297.5,188.7 298.5,191.5 299.5,194.0 300.5,182.6 301.5,171.1 302.5,159.7 303.5,164.4 304.5,170.0 305.5,174.6 306.5,179.5 307.5,182.4 308.5,186.5 309.5,188.0 310.5,189.6 311.5,186.8 312.5,177.1 313.5,167.8 314.5,187.2 315.5,205.8 316.5,192.1 317.5,179.1 318.5,166.2 319.5,187.1 320.5,206.5 321.5,194.9 322.5,185.1 323.5,197.8 324.5,213.5 325.5,229.3 326.5,217.3 327.5,204.7 328.5,192.1 329.5,179.0 330.5,178.7 331.5,178.0 332.5,177.2 333.5,175.9 334.5,178.9 335.5,181.5 336.5,184.3 337.5,192.5 338.5,200.4 339.5,208.9 340.5,205.8 341.5,201.4 342.5,200.5 343.5,204.6 344.5,207.9 345.5,192.2 346.5,176.6 347.5,160.6 348.5,170.3 349.5,181.6 350.5,181.9 351.5,178.2 352.5,172.3 353.5,167.0 354.5,173.5 355.5,177.4 356.5,172.4 357.5,168.8 358.5,179.6 359.5,190.9 360.5,211.5 361.5,232.0 362.5,213.1 363.5,193.1 364.5,176.2 365.5,185.8 366.5,195.6 367.5,261.7 368.5,273.5 369.5,263.1 370.5,251.7 371.5,257.2 372.5,266.1 373.5,252.4 374.5,237.1 375.5,221.8 376.5,239.3 377.5,258.5 378.5,243.2 379.5,230.4 380.5,217.6 381.5,243.9 382.5,270.3 383.5,291.3 384.5,289.6 385.5,278.3 386.5,267.0 387.5,255.9 388.5,244.8 389.5,258.3 390.5,272.8 391.5,285.3 392.5,267.0 393.5,248.3 394.5,230.4 395.5,250.8 396.5,270.2 397.5,291.0 398.5,283.8 399.5,277.1 400.5,270.1 401.5,257.0 402.5,244.0 403.5,230.6 404.5,242.2 405.5,257.0 406.5,250.8 407.5,246.4 408.5,240.9 409.5,254.7 410.5,268.4 411.5,274.8 412.5,286.3 413.5,290.0 414.5,293.6 415.5,278.8 416.5,264.2 417.5,249.5 418.5,264.7 419.5,280.7 420.5,296.6 421.5,270.8 422.5,288.6 423.5,286.1 424.5,281.4 425.5,276.8 426.5,271.2 427.5,251.5 428.5,231.2 429.5,211.3 430.5,251.6 431.5,291.0 432.5,286.2 433.5,281.9 434.5,277.4 435.5,260.5 436.5,243.6 437.5,226.3 438.5,232.9 439.5,240.8 440.5,249.1 441.5,256.8 442.5,259.2 443.5,261.1 444.5,259.4 445.5,249.3 446.5,241.2 447.5,260.0 448.5,277.6 449.5,296.7 450.5,279.2 451.5,262.1 452.5,245.4 453.5,242.5 454.5,240.7 455.5,237.6 456.5,234.2 457.5,228.9 458.5,224.9 459.5,230.7 460.5,235.0 461.5,237.8 462.5,224.9 463.5,212.1 464.5,199.3 465.5,200.6 466.5,202.3 467.5,204.8 468.5,201.7 469.5,199.5 470.5,207.2 471.5,214.9 472.5,226.4 473.5,238.0 474.5,235.4 475.5,231.1 476.5,224.7 477.5,226.4 478.5,229.4 479.5,232.8 480.5,237.8 481.5,265.9 482.5,272.3 483.5,251.5 484.5,206.4 485.5,205.9 486.5,206.6 487.5,207.0 488.5,207.7 489.5,250.5 490.5,260.7 491.5,255.2 492.5,249.7 493.5,259.4 494.5,267.6 495.5,267.0 496.5,264.9 497.5,242.6 498.5,235.5 499.5,230.5 500.5,228.5 501.5,228.7 502.5,225.3 503.5,204.5 504.5,183.2 505.5,161.7 506.5,182.8 507.5,208.0 508.5,202.1 509.5,197.6 510.5,194.9 511.5,205.7 512.5,209.7 513.5,172.0 514.5,127.5 515.5,163.8 516.5,196.5 517.5,204.1 518.5,204.8 519.5,192.6 520.5,180.3 521.5,203.2 522.5,183.4 523.5,106.8 524.5,148.0 525.5,189.2 526.5,230.1 527.5,205.8 528.5,180.9 529.5,201.1 530.5,215.6 531.5,209.7 532.5,210.0 533.5,173.5 534.5,135.6 535.5,97.8 536.5,120.2 537.5,146.1 538.5,171.8 539.5,154.4 540.5,135.1 541.5,116.8 542.5,133.6 543.5,151.7 544.5,142.6 545.5,136.4 546.5,128.3 547.5,159.4 548.5,188.9 549.5,164.7 550.5,141.4 551.5,118.5 552.5,156.2 553.5,194.3 554.5,196.0 555.5,197.8 556.5,198.9 557.5,192.8 558.5,190.3 559.5,188.4 560.5,194.9 561.5,199.1 562.5,202.7 563.5,201.0 564.5,198.0 565.5,219.4 566.5,241.5 567.5,240.2 568.5,235.1 569.5,230.7 570.5,226.2 571.5,227.6 572.5,255.9 573.5,247.4 574.5,232.6 575.5,206.0 576.5,179.5 577.5,186.3 578.5,193.6 579.5,201.7 580.5,205.7 581.5,209.1 582.5,213.2 583.5,222.2 584.5,231.8 585.5,242.0 586.5,237.5 587.5,232.3 588.5,228.3 589.5,211.1 590.5,196.1 591.5,182.1 592.5,191.7 593.5,202.3 594.5,158.7 595.5,112.0 596.5,162.0 597.5,204.5 598.5,185.7 599.5,158.5 600.5,154.8 601.5,156.1 602.5,158.0 603.5,161.8 604.5,163.3 605.5,164.7 606.5,167.0 607.5,170.2 608.5,174.0 609.5,177.6 610.5,175.2 611.5,172.9 612.5,170.8 613.5,150.2 614.5,129.6 615.5,99.7 616.5,68.9 617.5,101.3 618.5,134.5 619.5,138.2 620.5,141.4 621.5,144.7 622.5,124.1 623.5,102.4 624.5,81.6 625.5,104.6 626.5,127.6 627.5,150.7 628.5,166.9 629.5,183.0 630.5,165.4 631.5,146.0 632.5,127.6 633.5,147.3 634.5,168.3 635.5,189.0 636.5,180.6 637.5,170.1 638.5,156.9 639.5,143.0 640.5,169.0 641.5,194.6 642.5,190.7 643.5,186.1 644.5,181.6 645.5,151.6 646.5,123.2 647.5,141.9 648.5,183.2 649.5,211.9 650.5,171.9 651.5,131.0 652.5,90.1 653.5,138.5 654.5,187.0 655.5,188.5 656.5,190.0 657.5,212.3 658.5,196.4 659.5,178.1 660.5,159.8 661.5,191.0 662.5,219.5 663.5,216.5 664.5,208.4 665.5,197.0 666.5,192.9 667.5,189.2 668.5,185.6 669.5,207.8 670.5,229.9 671.5,227.8 672.5,225.5 673.5,223.3 674.5,208.1 675.5,193.2 676.5,177.9 677.5,167.9 678.5,158.0 679.5,147.4 680.5,168.3 681.5,189.2 682.5,185.4 683.5,181.6 684.5,166.8 685.5,152.2 686.5,160.5 687.5,168.8 688.5,177.1 689.5,190.9 690.5,204.2 691.5,218.2 692.5,215.0 693.5,211.7 694.5,208.2 695.5,197.8 696.5,187.7 697.5,155.3 698.5,162.2 699.5,169.2 700.5,176.0 701.5,195.7 702.5,215.0 703.5,228.5 704.5,241.3 705.5,220.2 706.5,209.3 707.5,187.9 708.5,166.9 709.5,154.9 710.5,143.3 711.5,118.3 712.5,91.7 713.5,111.9 714.5,132.0 715.5,152.3 716.5,156.8 717.5,161.0 718.5,165.6 719.5,158.5 720.5,151.5 721.5,145.1 722.5,146.3 723.5,148.9 724.5,154.4 725.5,153.9 726.5,150.7 727.5,146.9 728.5,144.7 729.5,149.9 730.5,154.5 731.5,162.8 732.5,174.2 733.5,202.3 734.5,229.6 735.5,148.3 736.5,67.0 737.5,101.3 738.5,121.7 739.5,118.8 740,118.8 740,120.4 739.5,120.4 738.5,123.8 737.5,103.2 736.5,69.9 735.5,149.8 734.5,229.9 733.5,203.8 732.5,175.9 731.5,164.7 730.5,156.7 729.5,152.2 728.5,147.0 727.5,148.9 726.5,152.7 725.5,156.0 724.5,155.7 723.5,151.0 722.5,148.4 721.5,148.3 720.5,153.4 719.5,160.1 718.5,167.2 717.5,162.9 716.5,158.8 715.5,154.4 714.5,133.9 713.5,113.9 712.5,94.2 711.5,121.6 710.5,146.3 709.5,157.0 708.5,168.9 707.5,189.4 706.5,210.2 705.5,220.2 704.5,241.3 703.5,229.8 702.5,215.7 701.5,196.9 700.5,177.5 699.5,170.9 698.5,164.0 697.5,158.2 696.5,189.3 695.5,199.4 694.5,209.6 693.5,213.3 692.5,216.7 691.5,219.1 690.5,205.2 689.5,192.0 688.5,178.2 687.5,170.3 686.5,162.1 685.5,154.7 684.5,169.1 683.5,183.3 682.5,187.1 681.5,190.9 680.5,170.1 679.5,149.4 678.5,160.2 677.5,170.4 676.5,180.4 675.5,195.5 674.5,210.1 673.5,224.5 672.5,226.7 671.5,229.2 670.5,230.6 669.5,209.0 668.5,187.3 667.5,190.8 666.5,194.4 665.5,198.3 664.5,210.1 663.5,218.2 662.5,219.5 661.5,191.2 660.5,162.8 659.5,180.9 658.5,199.0 657.5,212.3 656.5,191.2 655.5,189.8 654.5,188.5 653.5,140.4 652.5,92.2 651.5,133.0 650.5,173.8 649.5,212.2 648.5,184.4 647.5,141.9 646.5,126.6 645.5,154.2 644.5,183.3 643.5,187.8 642.5,192.5 641.5,195.4 640.5,170.7 639.5,144.9 638.5,159.4 637.5,172.0 636.5,182.4 635.5,190.2 634.5,169.8 633.5,148.6 632.5,131.0 631.5,149.2 630.5,168.3 629.5,184.1 628.5,168.1 627.5,152.1 626.5,129.5 625.5,107.0 624.5,84.5 623.5,105.0 622.5,126.5 621.5,145.8 620.5,142.6 619.5,139.5 618.5,135.3 617.5,103.5 616.5,72.6 615.5,103.6 614.5,132.2 613.5,152.1 612.5,172.1 611.5,174.5 610.5,177.0 609.5,179.6 608.5,176.8 607.5,172.5 606.5,169.4 605.5,167.0 604.5,165.5 603.5,164.1 602.5,160.2 601.5,158.3 600.5,157.1 599.5,161.9 598.5,188.4 597.5,204.5 596.5,163.0 595.5,113.6 594.5,162.5 593.5,203.1 592.5,192.9 591.5,183.6 590.5,197.6 589.5,212.6 588.5,229.8 587.5,232.7 586.5,239.3 585.5,243.2 584.5,233.2 583.5,223.8 582.5,215.1 581.5,210.8 580.5,207.2 579.5,203.1 578.5,195.0 577.5,187.6 576.5,180.8 575.5,207.3 574.5,233.8 573.5,248.2 572.5,255.9 571.5,229.0 570.5,227.6 569.5,232.2 568.5,236.5 567.5,241.6 566.5,241.8 565.5,220.2 564.5,198.8 563.5,202.7 562.5,204.3 561.5,200.7 560.5,195.3 559.5,189.9 558.5,191.8 557.5,194.2 556.5,200.4 555.5,199.3 554.5,197.4 553.5,195.4 552.5,157.9 551.5,121.5 550.5,143.3 549.5,166.1 548.5,190.0 547.5,161.0 546.5,130.4 545.5,138.6 544.5,144.8 543.5,153.9 542.5,135.9 541.5,119.1 540.5,137.3 539.5,156.6 538.5,173.8 537.5,148.2 536.5,122.5 535.5,103.1 534.5,139.8 533.5,176.5 532.5,211.0 531.5,209.7 530.5,215.6 529.5,202.4 528.5,184.2 527.5,207.9 526.5,230.9 525.5,191.3 524.5,150.6 523.5,110.1 522.5,183.4 521.5,204.2 520.5,183.2 519.5,194.8 518.5,206.7 517.5,204.8 516.5,196.5 515.5,164.8 514.5,129.7 513.5,172.8 512.5,209.7 511.5,206.6 510.5,196.9 509.5,199.3 508.5,203.3 507.5,208.2 506.5,183.6 505.5,164.5 504.5,185.5 503.5,206.2 502.5,225.4 501.5,230.0 500.5,230.1 499.5,232.1 498.5,236.8 497.5,244.5 496.5,264.9 495.5,267.0 494.5,267.6 493.5,259.8 492.5,251.2 491.5,256.7 490.5,261.6 489.5,253.1 488.5,211.9 487.5,209.9 486.5,208.8 485.5,206.8 484.5,208.2 483.5,251.5 482.5,272.3 481.5,265.9 480.5,239.2 479.5,234.1 478.5,230.6 477.5,227.8 476.5,226.2 475.5,232.6 474.5,236.7 473.5,239.0 472.5,227.8 471.5,216.6 470.5,209.1 469.5,201.7 468.5,203.7 467.5,206.8 466.5,204.2 465.5,202.4 464.5,201.0 463.5,213.5 462.5,225.9 461.5,238.6 460.5,236.4 459.5,232.2 458.5,226.7 457.5,230.4 456.5,235.6 455.5,238.9 454.5,242.9 453.5,243.8 452.5,246.7 451.5,263.1 450.5,280.1 449.5,297.4 448.5,277.9 447.5,262.6 446.5,243.9 445.5,250.8 444.5,260.3 443.5,262.3 442.5,260.7 441.5,257.9 440.5,250.6 439.5,241.4 438.5,234.4 437.5,228.9 436.5,245.9 435.5,262.5 434.5,278.9 433.5,282.6 432.5,286.6 431.5,292.0 430.5,253.8 429.5,213.4 428.5,233.0 427.5,253.6 426.5,272.7 425.5,279.0 424.5,283.5 423.5,287.5 422.5,289.4 421.5,270.8 420.5,297.2 419.5,281.2 418.5,265.2 417.5,251.5 416.5,266.1 415.5,279.5 414.5,294.0 413.5,290.7 412.5,286.6 411.5,274.8 410.5,268.6 409.5,255.8 408.5,242.9 407.5,248.3 406.5,252.2 405.5,257.9 404.5,243.3 403.5,232.7 402.5,246.0 401.5,258.6 400.5,271.3 399.5,278.4 398.5,284.5 397.5,291.9 396.5,270.4 395.5,252.7 394.5,232.3 393.5,250.0 392.5,268.5 391.5,286.7 390.5,274.2 389.5,259.6 388.5,246.2 387.5,257.5 386.5,268.6 385.5,279.8 384.5,290.8 383.5,291.3 382.5,270.3 381.5,244.2 380.5,220.5 379.5,234.4 378.5,245.6 377.5,259.4 376.5,240.3 375.5,224.3 374.5,239.3 373.5,254.2 372.5,267.7 371.5,259.6 370.5,254.6 369.5,265.6 368.5,274.1 367.5,261.7 366.5,198.2 365.5,187.7 364.5,177.5 363.5,194.3 362.5,213.7 361.5,232.9 360.5,212.7 359.5,192.5 358.5,181.3 357.5,171.0 356.5,174.0 355.5,178.6 354.5,174.7 353.5,168.7 352.5,175.4 351.5,180.2 350.5,184.0 349.5,183.7 348.5,172.1 347.5,161.6 346.5,177.6 345.5,192.7 344.5,208.0 343.5,205.2 342.5,201.7 341.5,202.2 340.5,207.6 339.5,210.8 338.5,202.2 337.5,194.5 336.5,186.5 335.5,183.6 334.5,180.9 333.5,177.7 332.5,179.2 331.5,180.1 330.5,180.5 329.5,180.2 328.5,194.3 327.5,207.1 326.5,219.8 325.5,230.6 324.5,215.1 323.5,199.7 322.5,187.7 321.5,196.6 320.5,207.2 319.5,188.7 318.5,169.2 317.5,181.6 316.5,194.0 315.5,207.3 314.5,189.9 313.5,171.0 312.5,179.4 311.5,189.2 310.5,191.1 309.5,189.7 308.5,188.3 307.5,184.3 306.5,182.4 305.5,176.0 304.5,171.9 303.5,166.3 302.5,161.6 301.5,172.8 300.5,184.2 299.5,195.4 298.5,193.3 297.5,190.1 296.5,187.1 295.5,173.2 294.5,160.0 293.5,162.8 292.5,161.8 291.5,163.7 290.5,178.5 289.5,192.4 288.5,186.4 287.5,180.5 286.5,171.6 285.5,159.8 284.5,151.4 283.5,187.8 282.5,223.7 281.5,208.6 280.5,193.6 279.5,176.3 278.5,189.1 277.5,201.1 276.5,208.9 275.5,182.9 274.5,160.9 273.5,175.9 272.5,189.8 271.5,205.0 270.5,204.4 269.5,202.3 268.5,190.3 267.5,177.5 266.5,168.1 265.5,180.8 264.5,193.7 263.5,198.4 262.5,197.8 261.5,196.6 260.5,195.4 259.5,254.7 258.5,276.2 257.5,257.1 256.5,238.6 255.5,268.0 254.5,279.1 253.5,208.9 252.5,216.9 251.5,224.9 250.5,233.0 249.5,242.9 248.5,265.9 247.5,252.1 246.5,239.1 245.5,254.7 244.5,271.3 243.5,286.8 242.5,300.2 241.5,271.7 240.5,242.0 239.5,249.9 238.5,258.1 237.5,270.3 236.5,262.3 235.5,253.2 234.5,244.2 233.5,225.2 232.5,208.6 231.5,219.2 230.5,226.1 229.5,202.8 228.5,181.3 227.5,210.2 226.5,237.6 225.5,267.8 224.5,293.6 223.5,280.4 222.5,265.2 221.5,260.2 220.5,259.3 219.5,258.7 218.5,259.1 217.5,263.0 216.5,260.2 215.5,257.0 214.5,255.0 213.5,252.7 212.5,267.1 211.5,281.4 210.5,292.2 209.5,302.8 208.5,258.2 207.5,214.5 206.5,226.0 205.5,240.6 204.5,256.8 203.5,257.2 202.5,265.0 201.5,271.3 200.5,278.0 199.5,287.9 198.5,269.8 197.5,253.7 196.5,254.5 195.5,254.1 194.5,252.5 193.5,252.8 192.5,232.1 191.5,210.9 190.5,193.9 189.5,258.3 188.5,271.7 187.5,287.5 186.5,290.8 185.5,293.3 184.5,298.1 183.5,298.3 182.5,301.1 181.5,301.1 180.5,274.6 179.5,264.8 178.5,256.0 177.5,283.2 176.5,310.7 175.5,323.3 174.5,274.3 173.5,257.5 172.5,240.6 171.5,251.3 170.5,266.4 169.5,279.5 168.5,268.3 167.5,258.3 166.5,259.0 165.5,258.2 164.5,257.3 163.5,236.5 162.5,213.7 161.5,218.0 160.5,223.4 159.5,230.8 158.5,226.1 157.5,220.1 156.5,210.4 155.5,225.6 154.5,220.7 153.5,216.7 152.5,243.3 151.5,268.7 150.5,293.6 149.5,245.5 148.5,196.8 147.5,213.6 146.5,230.6 145.5,252.1 144.5,245.6 143.5,239.2 142.5,225.6 141.5,212.0 140.5,202.6 139.5,229.3 138.5,254.2 137.5,281.4 136.5,279.1 135.5,272.8 134.5,268.2 133.5,263.1 132.5,258.6 131.5,238.9 130.5,218.5 129.5,230.6 128.5,242.7 127.5,254.8 126.5,266.7 125.5,277.5 124.5,266.1 123.5,275.0 122.5,281.9 121.5,274.9 120.5,246.6 119.5,205.9 118.5,244.0 117.5,281.9 116.5,287.4 115.5,289.5 114.5,292.4 113.5,287.4 112.5,282.3 111.5,269.4 110.5,209.5 109.5,150.9 108.5,186.5 107.5,194.3 106.5,205.0 105.5,212.6 104.5,188.8 103.5,165.1 102.5,177.5 101.5,189.1 100.5,200.6 99.5,205.2 98.5,210.7 97.5,217.0 96.5,213.9 95.5,211.0 94.5,208.0 93.5,196.0 92.5,184.1 91.5,171.4 90.5,180.1 89.5,187.4 88.5,195.9 87.5,203.9 86.5,210.6 85.5,194.9 84.5,186.7 83.5,197.8 82.5,207.8 81.5,216.1 80.5,211.2 79.5,206.9 78.5,214.5 77.5,222.0 76.5,227.9 75.5,209.8 74.5,196.9 73.5,213.2 72.5,230.2 71.5,246.9 70.5,238.5 69.5,231.0 68.5,214.8 67.5,200.3 67,200.3" fill="#CCFF00"/>
<polygon points="67,198.2 67.5,198.2 68.5,213.2 69.5,228.3 70.5,237.2 71.5,245.7 72.5,227.7 73.5,209.6 74.5,191.5 75.5,207.6 76.5,226.8 77.5,220.1 78.5,212.4 79.5,204.8 80.5,209.9 81.5,215.0 82.5,205.6 83.5,194.5 84.5,183.3 85.5,194.7 86.5,208.8 87.5,201.0 88.5,193.0 89.5,185.1 90.5,177.2 91.5,169.2 92.5,181.7 93.5,193.7 94.5,205.9 95.5,208.9 96.5,211.6 97.5,214.8 98.5,208.4 99.5,202.6 100.5,196.6 101.5,185.2 102.5,174.0 103.5,162.3 104.5,186.5 105.5,210.8 106.5,203.3 107.5,192.8 108.5,186.0 109.5,144.6 110.5,208.4 111.5,269.4 112.5,278.6 113.5,284.2 114.5,289.8 115.5,286.9 116.5,284.0 117.5,280.8 118.5,240.2 119.5,199.6 120.5,243.1 121.5,274.9 122.5,279.7 123.5,272.6 124.5,263.5 125.5,276.1 126.5,264.7 127.5,252.4 128.5,239.7 129.5,227.1 130.5,214.4 131.5,235.9 132.5,256.8 133.5,261.1 134.5,265.8 135.5,270.3 136.5,275.4 137.5,279.8 138.5,252.3 139.5,225.0 140.5,197.5 141.5,209.7 142.5,223.5 143.5,237.5 144.5,243.7 145.5,249.8 146.5,228.1 147.5,211.0 148.5,193.9 149.5,243.3 150.5,292.7 151.5,266.6 152.5,240.5 153.5,213.1 154.5,217.6 155.5,222.8 156.5,206.4 157.5,215.0 158.5,223.3 159.5,228.7 160.5,221.4 161.5,215.8 162.5,211.2 163.5,234.3 164.5,255.6 165.5,255.3 166.5,256.1 167.5,255.4 168.5,266.0 169.5,277.8 170.5,264.3 171.5,248.7 172.5,237.3 173.5,253.5 174.5,269.6 175.5,323.3 176.5,307.8 177.5,278.0 178.5,248.7 179.5,258.7 180.5,269.8 181.5,298.8 182.5,297.7 183.5,296.2 184.5,294.8 185.5,291.4 186.5,289.0 187.5,285.8 188.5,270.0 189.5,254.5 190.5,185.8 191.5,206.4 192.5,228.1 193.5,250.7 194.5,251.1 195.5,251.2 196.5,251.8 197.5,251.2 198.5,268.7 199.5,286.7 200.5,277.1 201.5,269.1 202.5,261.5 203.5,253.9 204.5,254.5 205.5,237.7 206.5,222.6 207.5,207.7 208.5,254.7 209.5,301.7 210.5,290.6 211.5,279.5 212.5,265.0 213.5,252.1 214.5,253.5 215.5,255.1 216.5,258.1 217.5,260.4 218.5,255.9 219.5,255.2 220.5,256.0 221.5,256.9 222.5,261.7 223.5,278.0 224.5,292.7 225.5,264.4 226.5,235.8 227.5,207.4 228.5,178.8 229.5,201.1 230.5,225.0 231.5,214.5 232.5,204.1 233.5,221.8 234.5,242.0 235.5,251.1 236.5,260.3 237.5,268.2 238.5,255.8 239.5,247.4 240.5,239.3 241.5,270.4 242.5,300.2 243.5,285.0 244.5,268.3 245.5,251.6 246.5,235.9 247.5,250.0 248.5,265.0 249.5,240.3 250.5,230.0 251.5,221.8 252.5,213.6 253.5,205.4 254.5,279.1 255.5,263.9 256.5,232.9 257.5,253.8 258.5,274.7 259.5,254.7 260.5,192.8 261.5,194.1 262.5,195.3 263.5,195.9 264.5,190.2 265.5,177.2 266.5,164.3 267.5,175.8 268.5,187.9 269.5,199.8 270.5,200.9 271.5,201.7 272.5,185.7 273.5,171.1 274.5,156.4 275.5,181.7 276.5,207.4 277.5,196.7 278.5,184.6 279.5,171.7 280.5,191.0 281.5,206.6 282.5,222.2 283.5,183.5 284.5,144.8 285.5,156.5 286.5,168.6 287.5,177.2 288.5,182.9 289.5,188.6 290.5,175.1 291.5,161.6 292.5,160.1 293.5,158.8 294.5,157.3 295.5,171.3 296.5,185.3 297.5,188.1 298.5,190.8 299.5,193.4 300.5,181.9 301.5,170.4 302.5,158.9 303.5,163.6 304.5,169.2 305.5,174.0 306.5,178.3 307.5,181.6 308.5,185.7 309.5,187.2 310.5,188.9 311.5,185.8 312.5,176.1 313.5,166.5 314.5,186.1 315.5,205.2 316.5,191.2 317.5,178.1 318.5,164.9 319.5,186.4 320.5,206.2 321.5,194.1 322.5,183.9 323.5,196.9 324.5,212.9 325.5,228.8 326.5,216.3 327.5,203.7 328.5,191.1 329.5,178.5 330.5,177.9 331.5,177.1 332.5,176.3 333.5,175.1 334.5,178.1 335.5,180.6 336.5,183.4 337.5,191.7 338.5,199.7 339.5,208.2 340.5,205.1 341.5,201.1 342.5,199.9 343.5,204.3 344.5,207.9 345.5,192.0 346.5,176.1 347.5,160.1 348.5,169.5 349.5,180.7 350.5,181.1 351.5,177.4 352.5,171.0 353.5,166.2 354.5,173.0 355.5,176.9 356.5,171.7 357.5,167.9 358.5,178.9 359.5,190.2 360.5,210.9 361.5,231.6 362.5,212.9 363.5,192.6 364.5,175.6 365.5,185.0 366.5,194.4 367.5,261.7 368.5,273.3 369.5,262.1 370.5,250.4 371.5,256.2 372.5,265.4 373.5,251.6 374.5,236.2 375.5,220.8 376.5,238.8 377.5,258.1 378.5,242.2 379.5,228.8 380.5,216.4 381.5,243.8 382.5,270.3 383.5,291.3 384.5,289.1 385.5,277.6 386.5,266.3 387.5,255.3 388.5,244.2 389.5,257.7 390.5,272.2 391.5,284.7 392.5,266.3 393.5,247.6 394.5,229.6 395.5,249.9 396.5,270.1 397.5,290.5 398.5,283.5 399.5,276.6 400.5,269.6 401.5,256.3 402.5,243.2 403.5,229.6 404.5,241.7 405.5,256.7 406.5,250.2 407.5,245.6 408.5,240.1 409.5,254.3 410.5,268.3 411.5,274.8 412.5,286.2 413.5,289.7 414.5,293.4 415.5,278.4 416.5,263.4 417.5,248.7 418.5,264.4 419.5,280.4 420.5,296.4 421.5,270.8 422.5,288.3 423.5,285.5 424.5,280.5 425.5,275.9 426.5,270.5 427.5,250.5 428.5,230.4 429.5,210.4 430.5,250.6 431.5,290.5 432.5,286.0 433.5,281.6 434.5,276.8 435.5,259.6 436.5,242.6 437.5,225.2 438.5,232.2 439.5,240.5 440.5,248.5 441.5,256.2 442.5,258.6 443.5,260.6 444.5,258.9 445.5,248.7 446.5,240.0 447.5,258.9 448.5,277.4 449.5,296.4 450.5,278.9 451.5,261.6 452.5,244.8 453.5,241.9 454.5,239.8 455.5,237.1 456.5,233.6 457.5,228.2 458.5,224.2 459.5,230.0 460.5,234.4 461.5,237.5 462.5,224.5 463.5,211.5 464.5,198.5 465.5,199.9 466.5,201.5 467.5,204.0 468.5,200.8 469.5,198.6 470.5,206.4 471.5,214.2 472.5,225.9 473.5,237.5 474.5,234.8 475.5,230.5 476.5,224.0 477.5,225.8 478.5,228.8 479.5,232.2 480.5,237.2 481.5,265.9 482.5,272.3 483.5,251.5 484.5,205.6 485.5,205.4 486.5,205.6 487.5,205.7 488.5,205.9 489.5,249.4 490.5,260.3 491.5,254.5 492.5,249.0 493.5,259.2 494.5,267.6 495.5,267.0 496.5,264.9 497.5,241.8 498.5,234.9 499.5,229.8 500.5,227.8 501.5,228.1 502.5,225.2 503.5,203.7 504.5,182.2 505.5,160.4 506.5,182.5 507.5,207.9 508.5,201.6 509.5,196.9 510.5,194.0 511.5,205.4 512.5,209.7 513.5,171.6 514.5,126.5 515.5,163.4 516.5,196.5 517.5,203.8 518.5,204.0 519.5,191.7 520.5,179.0 521.5,202.7 522.5,183.4 523.5,105.5 524.5,146.9 525.5,188.4 526.5,229.7 527.5,204.9 528.5,179.5 529.5,200.5 530.5,215.6 531.5,209.7 532.5,209.6 533.5,172.2 534.5,133.9 535.5,95.6 536.5,119.2 537.5,145.1 538.5,170.9 539.5,153.5 540.5,134.1 541.5,115.7 542.5,132.6 543.5,150.8 544.5,141.6 545.5,135.4 546.5,127.4 547.5,158.7 548.5,188.4 549.5,164.1 550.5,140.6 551.5,117.2 552.5,155.5 553.5,193.8 554.5,195.5 555.5,197.2 556.5,198.2 557.5,192.2 558.5,189.6 559.5,187.7 560.5,194.7 561.5,198.4 562.5,202.1 563.5,200.3 564.5,197.6 565.5,219.0 566.5,241.3 567.5,239.6 568.5,234.5 569.5,230.1 570.5,225.6 571.5,226.9 572.5,255.9 573.5,247.0 574.5,232.1 575.5,205.5 576.5,178.9 577.5,185.7 578.5,193.0 579.5,201.0 580.5,205.0 581.5,208.4 582.5,212.5 583.5,221.5 584.5,231.2 585.5,241.5 586.5,236.7 587.5,232.1 588.5,227.7 589.5,210.4 590.5,195.5 591.5,181.4 592.5,191.2 593.5,201.9 594.5,157.1 595.5,111.2 596.5,161.5 597.5,204.5 598.5,184.6 599.5,157.0 600.5,153.8 601.5,155.1 602.5,157.1 603.5,160.8 604.5,162.3 605.5,163.8 606.5,166.0 607.5,169.2 608.5,172.8 609.5,176.8 610.5,174.4 611.5,172.3 612.5,170.2 613.5,149.3 614.5,128.5 615.5,98.1 616.5,67.3 617.5,100.3 618.5,134.2 619.5,137.6 620.5,140.9 621.5,144.3 622.5,123.1 623.5,101.3 624.5,80.4 625.5,103.6 626.5,126.8 627.5,150.1 628.5,166.3 629.5,182.5 630.5,164.1 631.5,144.7 632.5,126.2 633.5,146.7 634.5,167.6 635.5,188.5 636.5,179.9 637.5,169.2 638.5,155.8 639.5,142.2 640.5,168.3 641.5,194.3 642.5,189.9 643.5,185.4 644.5,180.9 645.5,150.5 646.5,121.8 647.5,141.9 648.5,182.7 649.5,211.8 650.5,171.1 651.5,130.1 652.5,89.2 653.5,137.8 654.5,186.3 655.5,187.9 656.5,189.4 657.5,212.3 658.5,195.3 659.5,176.9 660.5,158.5 661.5,190.9 662.5,219.5 663.5,215.8 664.5,207.7 665.5,196.5 666.5,192.3 667.5,188.6 668.5,184.8 669.5,207.2 670.5,229.6 671.5,227.2 672.5,224.9 673.5,222.8 674.5,207.2 675.5,192.2 676.5,176.8 677.5,166.8 678.5,157.0 679.5,146.6 680.5,167.6 681.5,188.5 682.5,184.7 683.5,180.9 684.5,165.9 685.5,151.1 686.5,159.8 687.5,168.1 688.5,176.6 689.5,190.4 690.5,203.8 691.5,217.8 692.5,214.2 693.5,211.0 694.5,207.6 695.5,197.2 696.5,187.0 697.5,154.0 698.5,161.4 699.5,168.5 700.5,175.4 701.5,195.2 702.5,214.6 703.5,228.0 704.5,241.3 705.5,220.2 706.5,208.9 707.5,187.3 708.5,166.1 709.5,154.0 710.5,142.0 711.5,116.9 712.5,90.7 713.5,111.0 714.5,131.1 715.5,151.4 716.5,156.0 717.5,160.2 718.5,164.9 719.5,157.8 720.5,150.7 721.5,143.8 722.5,145.4 723.5,148.0 724.5,153.8 725.5,153.1 726.5,149.8 727.5,146.0 728.5,143.6 729.5,148.9 730.5,153.6 731.5,161.9 732.5,173.5 733.5,201.6 734.5,229.5 735.5,147.6 736.5,65.7 737.5,100.4 738.5,120.8 739.5,118.0 740,118.0 740,118.8 739.5,118.8 738.5,121.7 737.5,101.3 736.5,67.0 735.5,148.3 734.5,229.6 733.5,202.3 732.5,174.2 731.5,162.8 730.5,154.5 729.5,149.9 728.5,144.7 727.5,146.9 726.5,150.7 725.5,153.9 724.5,154.4 723.5,148.9 722.5,146.3 721.5,145.1 720.5,151.5 719.5,158.5 718.5,165.6 717.5,161.0 716.5,156.8 715.5,152.3 714.5,132.0 713.5,111.9 712.5,91.7 711.5,118.3 710.5,143.3 709.5,154.9 708.5,166.9 707.5,187.9 706.5,209.3 705.5,220.2 704.5,241.3 703.5,228.5 702.5,215.0 701.5,195.7 700.5,176.0 699.5,169.2 698.5,162.2 697.5,155.3 696.5,187.7 695.5,197.8 694.5,208.2 693.5,211.7 692.5,215.0 691.5,218.2 690.5,204.2 689.5,190.9 688.5,177.1 687.5,168.8 686.5,160.5 685.5,152.2 684.5,166.8 683.5,181.6 682.5,185.4 681.5,189.2 680.5,168.3 679.5,147.4 678.5,158.0 677.5,167.9 676.5,177.9 675.5,193.2 674.5,208.1 673.5,223.3 672.5,225.5 671.5,227.8 670.5,229.9 669.5,207.8 668.5,185.6 667.5,189.2 666.5,192.9 665.5,197.0 664.5,208.4 663.5,216.5 662.5,219.5 661.5,191.0 660.5,159.8 659.5,178.1 658.5,196.4 657.5,212.3 656.5,190.0 655.5,188.5 654.5,187.0 653.5,138.5 652.5,90.1 651.5,131.0 650.5,171.9 649.5,211.9 648.5,183.2 647.5,141.9 646.5,123.2 645.5,151.6 644.5,181.6 643.5,186.1 642.5,190.7 641.5,194.6 640.5,169.0 639.5,143.0 638.5,156.9 637.5,170.1 636.5,180.6 635.5,189.0 634.5,168.3 633.5,147.3 632.5,127.6 631.5,146.0 630.5,165.4 629.5,183.0 628.5,166.9 627.5,150.7 626.5,127.6 625.5,104.6 624.5,81.6 623.5,102.4 622.5,124.1 621.5,144.7 620.5,141.4 619.5,138.2 618.5,134.5 617.5,101.3 616.5,68.9 615.5,99.7 614.5,129.6 613.5,150.2 612.5,170.8 611.5,172.9 610.5,175.2 609.5,177.6 608.5,174.0 607.5,170.2 606.5,167.0 605.5,164.7 604.5,163.3 603.5,161.8 602.5,158.0 601.5,156.1 600.5,154.8 599.5,158.5 598.5,185.7 597.5,204.5 596.5,162.0 595.5,112.0 594.5,158.7 593.5,202.3 592.5,191.7 591.5,182.1 590.5,196.1 589.5,211.1 588.5,228.3 587.5,232.3 586.5,237.5 585.5,242.0 584.5,231.8 583.5,222.2 582.5,213.2 581.5,209.1 580.5,205.7 579.5,201.7 578.5,193.6 577.5,186.3 576.5,179.5 575.5,206.0 574.5,232.6 573.5,247.4 572.5,255.9 571.5,227.6 570.5,226.2 569.5,230.7 568.5,235.1 567.5,240.2 566.5,241.5 565.5,219.4 564.5,198.0 563.5,201.0 562.5,202.7 561.5,199.1 560.5,194.9 559.5,188.4 558.5,190.3 557.5,192.8 556.5,198.9 555.5,197.8 554.5,196.0 553.5,194.3 552.5,156.2 551.5,118.5 550.5,141.4 549.5,164.7 548.5,188.9 547.5,159.4 546.5,128.3 545.5,136.4 544.5,142.6 543.5,151.7 542.5,133.6 541.5,116.8 540.5,135.1 539.5,154.4 538.5,171.8 537.5,146.1 536.5,120.2 535.5,97.8 534.5,135.6 533.5,173.5 532.5,210.0 531.5,209.7 530.5,215.6 529.5,201.1 528.5,180.9 527.5,205.8 526.5,230.1 525.5,189.2 524.5,148.0 523.5,106.8 522.5,183.4 521.5,203.2 520.5,180.3 519.5,192.6 518.5,204.8 517.5,204.1 516.5,196.5 515.5,163.8 514.5,127.5 513.5,172.0 512.5,209.7 511.5,205.7 510.5,194.9 509.5,197.6 508.5,202.1 507.5,208.0 506.5,182.8 505.5,161.7 504.5,183.2 503.5,204.5 502.5,225.3 501.5,228.7 500.5,228.5 499.5,230.5 498.5,235.5 497.5,242.6 496.5,264.9 495.5,267.0 494.5,267.6 493.5,259.4 492.5,249.7 491.5,255.2 490.5,260.7 489.5,250.5 488.5,207.7 487.5,207.0 486.5,206.6 485.5,205.9 484.5,206.4 483.5,251.5 482.5,272.3 481.5,265.9 480.5,237.8 479.5,232.8 478.5,229.4 477.5,226.4 476.5,224.7 475.5,231.1 474.5,235.4 473.5,238.0 472.5,226.4 471.5,214.9 470.5,207.2 469.5,199.5 468.5,201.7 467.5,204.8 466.5,202.3 465.5,200.6 464.5,199.3 463.5,212.1 462.5,224.9 461.5,237.8 460.5,235.0 459.5,230.7 458.5,224.9 457.5,228.9 456.5,234.2 455.5,237.6 454.5,240.7 453.5,242.5 452.5,245.4 451.5,262.1 450.5,279.2 449.5,296.7 448.5,277.6 447.5,260.0 446.5,241.2 445.5,249.3 444.5,259.4 443.5,261.1 442.5,259.2 441.5,256.8 440.5,249.1 439.5,240.8 438.5,232.9 437.5,226.3 436.5,243.6 435.5,260.5 434.5,277.4 433.5,281.9 432.5,286.2 431.5,291.0 430.5,251.6 429.5,211.3 428.5,231.2 427.5,251.5 426.5,271.2 425.5,276.8 424.5,281.4 423.5,286.1 422.5,288.6 421.5,270.8 420.5,296.6 419.5,280.7 418.5,264.7 417.5,249.5 416.5,264.2 415.5,278.8 414.5,293.6 413.5,290.0 412.5,286.3 411.5,274.8 410.5,268.4 409.5,254.7 408.5,240.9 407.5,246.4 406.5,250.8 405.5,257.0 404.5,242.2 403.5,230.6 402.5,244.0 401.5,257.0 400.5,270.1 399.5,277.1 398.5,283.8 397.5,291.0 396.5,270.2 395.5,250.8 394.5,230.4 393.5,248.3 392.5,267.0 391.5,285.3 390.5,272.8 389.5,258.3 388.5,244.8 387.5,255.9 386.5,267.0 385.5,278.3 384.5,289.6 383.5,291.3 382.5,270.3 381.5,243.9 380.5,217.6 379.5,230.4 378.5,243.2 377.5,258.5 376.5,239.3 375.5,221.8 374.5,237.1 373.5,252.4 372.5,266.1 371.5,257.2 370.5,251.7 369.5,263.1 368.5,273.5 367.5,261.7 366.5,195.6 365.5,185.8 364.5,176.2 363.5,193.1 362.5,213.1 361.5,232.0 360.5,211.5 359.5,190.9 358.5,179.6 357.5,168.8 356.5,172.4 355.5,177.4 354.5,173.5 353.5,167.0 352.5,172.3 351.5,178.2 350.5,181.9 349.5,181.6 348.5,170.3 347.5,160.6 346.5,176.6 345.5,192.2 344.5,207.9 343.5,204.6 342.5,200.5 341.5,201.4 340.5,205.8 339.5,208.9 338.5,200.4 337.5,192.5 336.5,184.3 335.5,181.5 334.5,178.9 333.5,175.9 332.5,177.2 331.5,178.0 330.5,178.7 329.5,179.0 328.5,192.1 327.5,204.7 326.5,217.3 325.5,229.3 324.5,213.5 323.5,197.8 322.5,185.1 321.5,194.9 320.5,206.5 319.5,187.1 318.5,166.2 317.5,179.1 316.5,192.1 315.5,205.8 314.5,187.2 313.5,167.8 312.5,177.1 311.5,186.8 310.5,189.6 309.5,188.0 308.5,186.5 307.5,182.4 306.5,179.5 305.5,174.6 304.5,170.0 303.5,164.4 302.5,159.7 301.5,171.1 300.5,182.6 299.5,194.0 298.5,191.5 297.5,188.7 296.5,185.9 295.5,171.8 294.5,158.1 293.5,160.0 292.5,160.6 291.5,162.2 290.5,176.1 289.5,189.7 288.5,183.9 287.5,178.2 286.5,169.5 285.5,157.5 284.5,146.7 283.5,184.8 282.5,222.7 281.5,207.2 280.5,191.7 279.5,173.1 278.5,185.9 277.5,198.0 276.5,207.9 275.5,182.1 274.5,157.7 273.5,172.6 272.5,187.0 271.5,202.7 270.5,201.9 269.5,200.5 268.5,188.6 267.5,176.3 266.5,165.4 265.5,178.3 264.5,191.3 263.5,196.6 262.5,196.1 261.5,194.9 260.5,193.6 259.5,254.7 258.5,275.1 257.5,254.8 256.5,234.6 255.5,265.1 254.5,279.1 253.5,206.4 252.5,214.6 251.5,222.7 250.5,230.9 249.5,241.0 248.5,265.3 247.5,250.7 246.5,236.9 245.5,252.5 244.5,269.2 243.5,285.5 242.5,300.2 241.5,270.8 240.5,240.1 239.5,248.1 238.5,256.5 237.5,268.8 236.5,260.9 235.5,251.7 234.5,242.6 233.5,222.8 232.5,205.4 231.5,215.9 230.5,225.4 229.5,201.6 228.5,179.6 227.5,208.2 226.5,236.3 225.5,265.4 224.5,293.0 223.5,278.7 222.5,262.7 221.5,257.9 220.5,257.0 219.5,256.2 218.5,256.8 217.5,261.2 216.5,258.7 215.5,255.7 214.5,253.9 213.5,252.2 212.5,265.7 211.5,280.1 210.5,291.1 209.5,302.0 208.5,255.7 207.5,209.7 206.5,223.6 205.5,238.6 204.5,255.2 203.5,254.9 202.5,262.5 201.5,269.7 200.5,277.4 199.5,287.1 198.5,269.0 197.5,251.9 196.5,252.6 195.5,252.1 194.5,251.5 193.5,251.3 192.5,229.3 191.5,207.8 190.5,188.2 189.5,255.7 188.5,270.5 187.5,286.3 186.5,289.6 185.5,291.9 184.5,295.8 183.5,296.8 182.5,298.7 181.5,299.5 180.5,271.2 179.5,260.5 178.5,250.9 177.5,279.6 176.5,308.6 175.5,323.3 174.5,271.0 173.5,254.7 172.5,238.3 171.5,249.5 170.5,264.9 169.5,278.3 168.5,266.7 167.5,256.3 166.5,257.0 165.5,256.2 164.5,256.1 163.5,234.9 162.5,212.0 161.5,216.5 160.5,222.0 159.5,229.3 158.5,224.2 157.5,216.6 156.5,207.6 155.5,223.6 154.5,218.5 153.5,214.2 152.5,241.3 151.5,267.2 150.5,293.0 149.5,244.0 148.5,194.8 147.5,211.8 146.5,228.9 145.5,250.5 144.5,244.3 143.5,238.0 142.5,224.2 141.5,210.4 140.5,199.0 139.5,226.3 138.5,252.9 137.5,280.3 136.5,276.6 135.5,271.0 134.5,266.5 133.5,261.7 132.5,257.4 131.5,236.8 130.5,215.6 129.5,228.1 128.5,240.6 127.5,253.1 126.5,265.3 125.5,276.5 124.5,264.2 123.5,273.3 122.5,280.4 121.5,274.9 120.5,244.2 119.5,201.5 118.5,241.3 117.5,281.1 116.5,285.0 115.5,287.7 114.5,290.6 113.5,285.1 112.5,279.7 111.5,269.4 110.5,208.7 109.5,146.5 108.5,186.2 107.5,193.2 106.5,203.8 105.5,211.3 104.5,187.2 103.5,163.1 102.5,175.0 101.5,186.4 100.5,197.8 99.5,203.4 98.5,209.1 97.5,215.5 96.5,212.3 95.5,209.5 94.5,206.5 93.5,194.4 92.5,182.4 91.5,169.9 90.5,178.1 89.5,185.8 88.5,193.9 87.5,201.8 86.5,209.3 85.5,194.8 84.5,184.3 83.5,195.5 82.5,206.3 81.5,215.3 80.5,210.3 79.5,205.4 78.5,213.1 77.5,220.7 76.5,227.1 75.5,208.2 74.5,193.1 73.5,210.7 72.5,228.4 71.5,246.1 70.5,237.6 69.5,229.1 68.5,213.7 67.5,198.8 67,198.8" fill="#FF0000"/>
<polygon points="67,198.0 67.5,198.0 68.5,213.0 69.5,228.1 70.5,237.1 71.5,245.6 72.5,227.4 73.5,209.2 74.5,191.0 75.5,207.4 76.5,226.6 77.5,219.9 78.5,212.2 79.5,204.6 80.5,209.8 81.5,214.9 82.5,205.4 83.5,194.2 84.5,183.0 85.5,194.7 86.5,208.6 87.5,200.7 88.5,192.8 89.5,184.8 90.5,176.9 91.5,169.0 92.5,181.4 93.5,193.5 94.5,205.7 95.5,208.7 96.5,211.4 97.5,214.6 98.5,208.2 99.5,202.4 100.5,196.2 101.5,184.8 102.5,173.6 103.5,162.0 104.5,186.3 105.5,210.6 106.5,203.2 107.5,192.6 108.5,186.0 109.5,144.0 110.5,208.2 111.5,269.4 112.5,278.2 113.5,283.9 114.5,289.6 115.5,286.6 116.5,283.6 117.5,280.6 118.5,239.8 119.5,199.0 120.5,242.8 121.5,274.9 122.5,279.5 123.5,272.4 124.5,263.2 125.5,275.9 126.5,264.5 127.5,252.2 128.5,239.4 129.5,226.7 130.5,214.0 131.5,235.6 132.5,256.6 133.5,260.9 134.5,265.5 135.5,270.0 136.5,275.1 137.5,279.6 138.5,252.1 139.5,224.5 140.5,197.0 141.5,209.4 142.5,223.3 143.5,237.4 144.5,243.6 145.5,249.6 146.5,227.9 147.5,210.7 148.5,193.6 149.5,243.1 150.5,292.6 151.5,266.4 152.5,240.2 153.5,212.7 154.5,217.2 155.5,222.5 156.5,206.0 157.5,214.5 158.5,223.1 159.5,228.5 160.5,221.2 161.5,215.6 162.5,211.0 163.5,234.1 164.5,255.4 165.5,255.0 166.5,255.8 167.5,255.1 168.5,265.8 169.5,277.6 170.5,264.1 171.5,248.4 172.5,237.0 173.5,253.0 174.5,269.1 175.5,323.3 176.5,307.5 177.5,277.5 178.5,248.0 179.5,258.1 180.5,269.3 181.5,298.6 182.5,297.4 183.5,296.0 184.5,294.5 185.5,291.2 186.5,288.9 187.5,285.7 188.5,269.9 189.5,254.2 190.5,185.0 191.5,206.0 192.5,227.7 193.5,250.5 194.5,251.0 195.5,251.0 196.5,251.6 197.5,250.9 198.5,268.6 199.5,286.6 200.5,277.0 201.5,268.8 202.5,261.1 203.5,253.6 204.5,254.3 205.5,237.4 206.5,222.2 207.5,207.0 208.5,254.3 209.5,301.6 210.5,290.5 211.5,279.3 212.5,264.8 213.5,252.0 214.5,253.3 215.5,255.0 216.5,257.9 217.5,260.2 218.5,255.6 219.5,254.9 220.5,255.6 221.5,256.6 222.5,261.3 223.5,277.8 224.5,292.6 225.5,264.1 226.5,235.6 227.5,207.1 228.5,178.6 229.5,200.9 230.5,224.9 231.5,214.0 232.5,203.6 233.5,221.5 234.5,241.8 235.5,250.9 236.5,260.0 237.5,268.0 238.5,255.6 239.5,247.1 240.5,239.0 241.5,270.3 242.5,300.2 243.5,284.8 244.5,268.0 245.5,251.3 246.5,235.6 247.5,249.8 248.5,264.9 249.5,240.0 250.5,229.7 251.5,221.5 252.5,213.2 253.5,205.0 254.5,279.1 255.5,263.5 256.5,232.3 257.5,253.4 258.5,274.5 259.5,254.7 260.5,192.6 261.5,193.9 262.5,195.1 263.5,195.6 264.5,189.9 265.5,176.9 266.5,163.9 267.5,175.6 268.5,187.6 269.5,199.5 270.5,200.5 271.5,201.4 272.5,185.3 273.5,170.6 274.5,155.9 275.5,181.6 276.5,207.3 277.5,196.3 278.5,184.1 279.5,171.2 280.5,190.7 281.5,206.4 282.5,222.1 283.5,183.1 284.5,144.1 285.5,156.2 286.5,168.3 287.5,176.9 288.5,182.5 289.5,188.2 290.5,174.8 291.5,161.3 292.5,159.9 293.5,158.4 294.5,157.0 295.5,171.1 296.5,185.2 297.5,187.8 298.5,190.5 299.5,193.2 300.5,181.7 301.5,170.1 302.5,158.6 303.5,163.4 304.5,168.9 305.5,173.8 306.5,177.9 307.5,181.3 308.5,185.4 309.5,187.0 310.5,188.6 311.5,185.5 312.5,175.7 313.5,166.0 314.5,185.7 315.5,205.0 316.5,190.9 317.5,177.7 318.5,164.5 319.5,186.2 320.5,206.1 321.5,193.9 322.5,183.6 323.5,196.7 324.5,212.6 325.5,228.6 326.5,215.9 327.5,203.3 328.5,190.8 329.5,178.3 330.5,177.6 331.5,176.8 332.5,176.1 333.5,174.8 334.5,177.8 335.5,180.3 336.5,183.1 337.5,191.4 338.5,199.4 339.5,207.9 340.5,204.9 341.5,201.0 342.5,199.8 343.5,204.2 344.5,207.9 345.5,191.9 346.5,176.0 347.5,160.0 348.5,169.3 349.5,180.4 350.5,180.8 351.5,177.1 352.5,170.6 353.5,166.0 354.5,172.8 355.5,176.7 356.5,171.4 357.5,167.6 358.5,178.7 359.5,190.0 360.5,210.7 361.5,231.5 362.5,212.8 363.5,192.4 364.5,175.4 365.5,184.7 366.5,194.0 367.5,261.7 368.5,273.2 369.5,261.7 370.5,250.0 371.5,255.9 372.5,265.2 373.5,251.3 374.5,235.9 375.5,220.4 376.5,238.7 377.5,258.0 378.5,241.8 379.5,228.2 380.5,216.0 381.5,243.7 382.5,270.3 383.5,291.3 384.5,288.9 385.5,277.4 386.5,266.1 387.5,255.0 388.5,244.0 389.5,257.5 390.5,272.0 391.5,284.5 392.5,266.1 393.5,247.3 394.5,229.3 395.5,249.7 396.5,270.0 397.5,290.4 398.5,283.4 399.5,276.4 400.5,269.4 401.5,256.0 402.5,242.9 403.5,229.3 404.5,241.6 405.5,256.5 406.5,250.1 407.5,245.3 408.5,239.8 409.5,254.1 410.5,268.3 411.5,274.8 412.5,286.2 413.5,289.6 414.5,293.3 415.5,278.3 416.5,263.1 417.5,248.4 418.5,264.4 419.5,280.3 420.5,296.3 421.5,270.8 422.5,288.1 423.5,285.3 424.5,280.2 425.5,275.5 426.5,270.3 427.5,250.2 428.5,230.2 429.5,210.1 430.5,250.2 431.5,290.4 432.5,285.9 433.5,281.5 434.5,276.6 435.5,259.3 436.5,242.2 437.5,224.8 438.5,232.0 439.5,240.4 440.5,248.3 441.5,256.1 442.5,258.4 443.5,260.4 444.5,258.8 445.5,248.4 446.5,239.6 447.5,258.5 448.5,277.4 449.5,296.3 450.5,278.7 451.5,261.5 452.5,244.6 453.5,241.7 454.5,239.5 455.5,236.9 456.5,233.4 457.5,228.0 458.5,223.9 459.5,229.8 460.5,234.2 461.5,237.4 462.5,224.4 463.5,211.3 464.5,198.3 465.5,199.6 466.5,201.3 467.5,203.7 468.5,200.5 469.5,198.3 470.5,206.1 471.5,213.9 472.5,225.7 473.5,237.4 474.5,234.6 475.5,230.3 476.5,223.8 477.5,225.6 478.5,228.7 479.5,232.0 480.5,237.0 481.5,265.9 482.5,272.3 483.5,251.4 484.5,205.3 485.5,205.3 486.5,205.3 487.5,205.3 488.5,205.3 489.5,249.0 490.5,260.2 491.5,254.3 492.5,248.8 493.5,259.1 494.5,267.6 495.5,267.0 496.5,264.9 497.5,241.5 498.5,234.7 499.5,229.6 500.5,227.6 501.5,227.9 502.5,225.2 503.5,203.5 504.5,181.9 505.5,160.0 506.5,182.3 507.5,207.9 508.5,201.4 509.5,196.7 510.5,193.8 511.5,205.3 512.5,209.7 513.5,171.5 514.5,126.2 515.5,163.2 516.5,196.5 517.5,203.7 518.5,203.7 519.5,191.4 520.5,178.6 521.5,202.6 522.5,183.4 523.5,105.0 524.5,146.5 525.5,188.1 526.5,229.6 527.5,204.6 528.5,179.0 529.5,200.3 530.5,215.6 531.5,209.7 532.5,209.5 533.5,171.7 534.5,133.3 535.5,94.8 536.5,118.8 537.5,144.8 538.5,170.6 539.5,153.2 540.5,133.8 541.5,115.4 542.5,132.3 543.5,150.4 544.5,141.3 545.5,135.1 546.5,127.1 547.5,158.5 548.5,188.3 549.5,163.9 550.5,140.3 551.5,116.8 552.5,155.2 553.5,193.6 554.5,195.3 555.5,196.9 556.5,198.0 557.5,192.0 558.5,189.4 559.5,187.5 560.5,194.6 561.5,198.2 562.5,201.9 563.5,200.0 564.5,197.5 565.5,218.9 566.5,241.3 567.5,239.4 568.5,234.3 569.5,229.9 570.5,225.4 571.5,226.7 572.5,255.9 573.5,246.9 574.5,231.9 575.5,205.3 576.5,178.7 577.5,185.5 578.5,192.8 579.5,200.8 580.5,204.8 581.5,208.2 582.5,212.2 583.5,221.3 584.5,231.0 585.5,241.3 586.5,236.4 587.5,232.1 588.5,227.5 589.5,210.2 590.5,195.3 591.5,181.2 592.5,191.0 593.5,201.8 594.5,156.5 595.5,111.0 596.5,161.4 597.5,204.5 598.5,184.2 599.5,156.5 600.5,153.5 601.5,154.8 602.5,156.8 603.5,160.5 604.5,162.0 605.5,163.5 606.5,165.6 607.5,168.9 608.5,172.4 609.5,176.5 610.5,174.1 611.5,172.0 612.5,170.0 613.5,149.0 614.5,128.2 615.5,97.5 616.5,66.8 617.5,100.0 618.5,134.0 619.5,137.4 620.5,140.7 621.5,144.1 622.5,122.7 623.5,100.9 624.5,80.0 625.5,103.3 626.5,126.6 627.5,149.8 628.5,166.1 629.5,182.4 630.5,163.7 631.5,144.2 632.5,125.7 633.5,146.6 634.5,167.4 635.5,188.3 636.5,179.6 637.5,169.0 638.5,155.4 639.5,141.9 640.5,168.0 641.5,194.2 642.5,189.7 643.5,185.1 644.5,180.6 645.5,150.1 646.5,121.3 647.5,141.9 648.5,182.5 649.5,211.8 650.5,170.8 651.5,129.9 652.5,88.9 653.5,137.5 654.5,186.1 655.5,187.7 656.5,189.2 657.5,212.3 658.5,194.9 659.5,176.5 660.5,158.1 661.5,190.8 662.5,219.5 663.5,215.6 664.5,207.5 665.5,196.3 666.5,192.1 667.5,188.3 668.5,184.6 669.5,207.0 670.5,229.5 671.5,227.0 672.5,224.8 673.5,222.6 674.5,207.0 675.5,191.9 676.5,176.5 677.5,166.5 678.5,156.7 679.5,146.3 680.5,167.3 681.5,188.3 682.5,184.5 683.5,180.6 684.5,165.5 685.5,150.7 686.5,159.6 687.5,167.9 688.5,176.5 689.5,190.2 690.5,203.7 691.5,217.7 692.5,214.0 693.5,210.8 694.5,207.3 695.5,196.9 696.5,186.8 697.5,153.6 698.5,161.1 699.5,168.3 700.5,175.2 701.5,195.0 702.5,214.5 703.5,227.8 704.5,241.3 705.5,220.2 706.5,208.8 707.5,187.1 708.5,165.8 709.5,153.7 710.5,141.5 711.5,116.4 712.5,90.3 713.5,110.8 714.5,130.9 715.5,151.1 716.5,155.7 717.5,160.0 718.5,164.7 719.5,157.6 720.5,150.4 721.5,143.3 722.5,145.1 723.5,147.7 724.5,153.6 725.5,152.8 726.5,149.5 727.5,145.7 728.5,143.3 729.5,148.6 730.5,153.3 731.5,161.7 732.5,173.2 733.5,201.4 734.5,229.5 735.5,147.4 736.5,65.3 737.5,100.1 738.5,120.5 739.5,117.8 740,117.8 740,118.0 739.5,118.0 738.5,120.8 737.5,100.4 736.5,65.7 735.5,147.6 734.5,229.5 733.5,201.6 732.5,173.5 731.5,161.9 730.5,153.6 729.5,148.9 728.5,143.6 727.5,146.0 726.5,149.8 725.5,153.1 724.5,153.8 723.5,148.0 722.5,145.4 721.5,143.8 720.5,150.7 719.5,157.8 718.5,164.9 717.5,160.2 716.5,156.0 715.5,151.4 714.5,131.1 713.5,111.0 712.5,90.7 711.5,116.9 710.5,142.0 709.5,154.0 708.5,166.1 707.5,187.3 706.5,208.9 705.5,220.2 704.5,241.3 703.5,228.0 702.5,214.6 701.5,195.2 700.5,175.4 699.5,168.5 698.5,161.4 697.5,154.0 696.5,187.0 695.5,197.2 694.5,207.6 693.5,211.0 692.5,214.2 691.5,217.8 690.5,203.8 689.5,190.4 688.5,176.6 687.5,168.1 686.5,159.8 685.5,151.1 684.5,165.9 683.5,180.9 682.5,184.7 681.5,188.5 680.5,167.6 679.5,146.6 678.5,157.0 677.5,166.8 676.5,176.8 675.5,192.2 674.5,207.2 673.5,222.8 672.5,224.9 671.5,227.2 670.5,229.6 669.5,207.2 668.5,184.8 667.5,188.6 666.5,192.3 665.5,196.5 664.5,207.7 663.5,215.8 662.5,219.5 661.5,190.9 660.5,158.5 659.5,176.9 658.5,195.3 657.5,212.3 656.5,189.4 655.5,187.9 654.5,186.3 653.5,137.8 652.5,89.2 651.5,130.1 650.5,171.1 649.5,211.8 648.5,182.7 647.5,141.9 646.5,121.8 645.5,150.5 644.5,180.9 643.5,185.4 642.5,189.9 641.5,194.3 640.5,168.3 639.5,142.2 638.5,155.8 637.5,169.2 636.5,179.9 635.5,188.5 634.5,167.6 633.5,146.7 632.5,126.2 631.5,144.7 630.5,164.1 629.5,182.5 628.5,166.3 627.5,150.1 626.5,126.8 625.5,103.6 624.5,80.4 623.5,101.3 622.5,123.1 621.5,144.3 620.5,140.9 619.5,137.6 618.5,134.2 617.5,100.3 616.5,67.3 615.5,98.1 614.5,128.5 613.5,149.3 612.5,170.2 611.5,172.3 610.5,174.4 609.5,176.8 608.5,172.8 607.5,169.2 606.5,166.0 605.5,163.8 604.5,162.3 603.5,160.8 602.5,157.1 601.5,155.1 600.5,153.8 599.5,157.0 598.5,184.6 597.5,204.5 596.5,161.5 595.5,111.2 594.5,157.1 593.5,201.9 592.5,191.2 591.5,181.4 590.5,195.5 589.5,210.4 588.5,227.7 587.5,232.1 586.5,236.7 585.5,241.5 584.5,231.2 583.5,221.5 582.5,212.5 581.5,208.4 580.5,205.0 579.5,201.0 578.5,193.0 577.5,185.7 576.5,178.9 575.5,205.5 574.5,232.1 573.5,247.0 572.5,255.9 571.5,226.9 570.5,225.6 569.5,230.1 568.5,234.5 567.5,239.6 566.5,241.3 565.5,219.0 564.5,197.6 563.5,200.3 562.5,202.1 561.5,198.4 560.5,194.7 559.5,187.7 558.5,189.6 557.5,192.2 556.5,198.2 555.5,197.2 554.5,195.5 553.5,193.8 552.5,155.5 551.5,117.2 550.5,140.6 549.5,164.1 548.5,188.4 547.5,158.7 546.5,127.4 545.5,135.4 544.5,141.6 543.5,150.8 542.5,132.6 541.5,115.7 540.5,134.1 539.5,153.5 538.5,170.9 537.5,145.1 536.5,119.2 535.5,95.6 534.5,133.9 533.5,172.2 532.5,209.6 531.5,209.7 530.5,215.6 529.5,200.5 528.5,179.5 527.5,204.9 526.5,229.7 525.5,188.4 524.5,146.9 523.5,105.5 522.5,183.4 521.5,202.7 520.5,179.0 519.5,191.7 518.5,204.0 517.5,203.8 516.5,196.5 515.5,163.4 514.5,126.5 513.5,171.6 512.5,209.7 511.5,205.4 510.5,194.0 509.5,196.9 508.5,201.6 507.5,207.9 506.5,182.5 505.5,160.4 504.5,182.2 503.5,203.7 502.5,225.2 501.5,228.1 500.5,227.8 499.5,229.8 498.5,234.9 497.5,241.8 496.5,264.9 495.5,267.0 494.5,267.6 493.5,259.2 492.5,249.0 491.5,254.5 490.5,260.3 489.5,249.4 488.5,205.9 487.5,205.7 486.5,205.6 485.5,205.4 484.5,205.6 483.5,251.5 482.5,272.3 481.5,265.9 480.5,237.2 479.5,232.2 478.5,228.8 477.5,225.8 476.5,224.0 475.5,230.5 474.5,234.8 473.5,237.5 472.5,225.9 471.5,214.2 470.5,206.4 469.5,198.6 468.5,200.8 467.5,204.0 466.5,201.5 465.5,199.9 464.5,198.5 463.5,211.5 462.5,224.5 461.5,237.5 460.5,234.4 459.5,230.0 458.5,224.2 457.5,228.2 456.5,233.6 455.5,237.1 454.5,239.8 453.5,241.9 452.5,244.8 451.5,261.6 450.5,278.9 449.5,296.4 448.5,277.4 447.5,258.9 446.5,240.0 445.5,248.7 444.5,258.9 443.5,260.6 442.5,258.6 441.5,256.2 440.5,248.5 439.5,240.5 438.5,232.2 437.5,225.2 436.5,242.6 435.5,259.6 434.5,276.8 433.5,281.6 432.5,286.0 431.5,290.5 430.5,250.6 429.5,210.4 428.5,230.4 427.5,250.5 426.5,270.5 425.5,275.9 424.5,280.5 423.5,285.5 422.5,288.3 421.5,270.8 420.5,296.4 419.5,280.4 418.5,264.4 417.5,248.7 416.5,263.4 415.5,278.4 414.5,293.4 413.5,289.7 412.5,286.2 411.5,274.8 410.5,268.3 409.5,254.3 408.5,240.1 407.5,245.6 406.5,250.2 405.5,256.7 404.5,241.7 403.5,229.6 402.5,243.2 401.5,256.3 400.5,269.6 399.5,276.6 398.5,283.5 397.5,290.5 396.5,270.1 395.5,249.9 394.5,229.6 393.5,247.6 392.5,266.3 391.5,284.7 390.5,272.2 389.5,257.7 388.5,244.2 387.5,255.3 386.5,266.3 385.5,277.6 384.5,289.1 383.5,291.3 382.5,270.3 381.5,243.8 380.5,216.4 379.5,228.8 378.5,242.2 377.5,258.1 376.5,238.8 375.5,220.8 374.5,236.2 373.5,251.6 372.5,265.4 371.5,256.2 370.5,250.4 369.5,262.1 368.5,273.3 367.5,261.7 366.5,194.4 365.5,185.0 364.5,175.6 363.5,192.6 362.5,212.9 361.5,231.6 360.5,210.9 359.5,190.2 358.5,178.9 357.5,167.9 356.5,171.7 355.5,176.9 354.5,173.0 353.5,166.2 352.5,171.0 351.5,177.4 350.5,181.1 349.5,180.7 348.5,169.5 347.5,160.1 346.5,176.1 345.5,192.0 344.5,207.9 343.5,204.3 342.5,199.9 341.5,201.1 340.5,205.1 339.5,208.2 338.5,199.7 337.5,191.7 336.5,183.4 335.5,180.6 334.5,178.1 333.5,175.1 332.5,176.3 331.5,177.1 330.5,177.9 329.5,178.5 328.5,191.1 327.5,203.7 326.5,216.3 325.5,228.8 324.5,212.9 323.5,196.9 322.5,183.9 321.5,194.1 320.5,206.2 319.5,186.4 318.5,164.9 317.5,178.1 316.5,191.2 315.5,205.2 314.5,186.1 313.5,166.5 312.5,176.1 311.5,185.8 310.5,188.9 309.5,187.2 308.5,185.7 307.5,181.6 306.5,178.3 305.5,174.0 304.5,169.2 303.5,163.6 302.5,158.9 301.5,170.4 300.5,181.9 299.5,193.4 298.5,190.8 297.5,188.1 296.5,185.3 295.5,171.3 294.5,157.3 293.5,158.8 292.5,160.1 291.5,161.6 290.5,175.1 289.5,188.6 288.5,182.9 287.5,177.2 286.5,168.6 285.5,156.5 284.5,144.8 283.5,183.5 282.5,222.2 281.5,206.6 280.5,191.0 279.5,171.7 278.5,184.6 277.5,196.7 276.5,207.4 275.5,181.7 274.5,156.4 273.5,171.1 272.5,185.7 271.5,201.7 270.5,200.9 269.5,199.8 268.5,187.9 267.5,175.8 266.5,164.3 265.5,177.2 264.5,190.2 263.5,195.9 262.5,195.3 261.5,194.1 260.5,192.8 259.5,254.7 258.5,274.7 257.5,253.8 256.5,232.9 255.5,263.9 254.5,279.1 253.5,205.4 252.5,213.6 251.5,221.8 250.5,230.0 249.5,240.3 248.5,265.0 247.5,250.0 246.5,235.9 245.5,251.6 244.5,268.3 243.5,285.0 242.5,300.2 241.5,270.4 240.5,239.3 239.5,247.4 238.5,255.8 237.5,268.2 236.5,260.3 235.5,251.1 234.5,242.0 233.5,221.8 232.5,204.1 231.5,214.5 230.5,225.0 229.5,201.1 228.5,178.8 227.5,207.4 226.5,235.8 225.5,264.4 224.5,292.7 223.5,278.0 222.5,261.7 221.5,256.9 220.5,256.0 219.5,255.2 218.5,255.9 217.5,260.4 216.5,258.1 215.5,255.1 214.5,253.5 213.5,252.1 212.5,265.0 211.5,279.5 210.5,290.6 209.5,301.7 208.5,254.7 207.5,207.7 206.5,222.6 205.5,237.7 204.5,254.5 203.5,253.9 202.5,261.5 201.5,269.1 200.5,277.1 199.5,286.7 198.5,268.7 197.5,251.2 196.5,251.8 195.5,251.2 194.5,251.1 193.5,250.7 192.5,228.1 191.5,206.4 190.5,185.8 189.5,254.5 188.5,270.0 187.5,285.8 186.5,289.0 185.5,291.4 184.5,294.8 183.5,296.2 182.5,297.7 181.5,298.8 180.5,269.8 179.5,258.7 178.5,248.7 177.5,278.0 176.5,307.8 175.5,323.3 174.5,269.6 173.5,253.5 172.5,237.3 171.5,248.7 170.5,264.3 169.5,277.8 168.5,266.0 167.5,255.4 166.5,256.1 165.5,255.3 164.5,255.6 163.5,234.3 162.5,211.2 161.5,215.8 160.5,221.4 159.5,228.7 158.5,223.3 157.5,215.0 156.5,206.4 155.5,222.8 154.5,217.6 153.5,213.1 152.5,240.5 151.5,266.6 150.5,292.7 149.5,243.3 148.5,193.9 147.5,211.0 146.5,228.1 145.5,249.8 144.5,243.7 143.5,237.5 142.5,223.5 141.5,209.7 140.5,197.5 139.5,225.0 138.5,252.3 137.5,279.8 136.5,275.4 135.5,270.3 134.5,265.8 133.5,261.1 132.5,256.8 131.5,235.9 130.5,214.4 129.5,227.1 128.5,239.7 127.5,252.4 126.5,264.7 125.5,276.1 124.5,263.5 123.5,272.6 122.5,279.7 121.5,274.9 120.5,243.1 119.5,199.6 118.5,240.2 117.5,280.8 116.5,284.0 115.5,286.9 114.5,289.8 113.5,284.2 112.5,278.6 111.5,269.4 110.5,208.4 109.5,144.6 108.5,186.0 107.5,192.8 106.5,203.3 105.5,210.8 104.5,186.5 103.5,162.3 102.5,174.0 101.5,185.2 100.5,196.6 99.5,202.6 98.5,208.4 97.5,214.8 96.5,211.6 95.5,208.9 94.5,205.9 93.5,193.7 92.5,181.7 91.5,169.2 90.5,177.2 89.5,185.1 88.5,193.0 87.5,201.0 86.5,208.8 85.5,194.7 84.5,183.3 83.5,194.5 82.5,205.6 81.5,215.0 80.5,209.9 79.5,204.8 78.5,212.4 77.5,220.1 76.5,226.8 75.5,207.6 74.5,191.5 73.5,209.6 72.5,227.7 71.5,245.7 70.5,237.2 69.5,228.3 68.5,213.2 67.5,198.2 67,198.2" fill="#808080"/>
<polyline points="67.5,198.0 68.5,213.0 69.5,228.1 70.5,237.1 71.5,245.6 72.5,227.4 73.5,209.2 74.5,191.0 75.5,207.4 76.5,226.6 77.5,219.9 78.5,212.2 79.5,204.6 80.5,209.8 81.5,214.9 82.5,205.4 83.5,194.2 84.5,183.0 85.5,194.7 86.5,208.6 87.5,200.7 88.5,192.8 89.5,184.8 90.5,176.9 91.5,169.0 92.5,181.4 93.5,193.5 94.5,205.7 95.5,208.7 96.5,211.4 97.5,214.6 98.5,208.2 99.5,202.4 100.5,196.2 101.5,184.8 102.5,173.6 103.5,162.0 104.5,186.3 105.5,210.6 106.5,203.2 107.5,192.6 108.5,186.0 109.5,144.0 110.5,208.2 111.5,269.4 112.5,278.2 113.5,283.9 114.5,289.6 115.5,286.6 116.5,283.6 117.5,280.6 118.5,239.8 119.5,199.0 120.5,242.8 121.5,274.9 122.5,279.5 123.5,272.4 124.5,263.2 125.5,275.9 126.5,264.5 127.5,252.2 128.5,239.4 129.5,226.7 130.5,214.0 131.5,235.6 132.5,256.6 133.5,260.9 134.5,265.5 135.5,270.0 136.5,275.1 137.5,279.6 138.5,252.1 139.5,224.5 140.5,197.0 141.5,209.4 142.5,223.3 143.5,237.4 144.5,243.6 145.5,249.6 146.5,227.9 147.5,210.7 148.5,193.6 149.5,243.1 150.5,292.6 151.5,266.4 152.5,240.2 153.5,212.7 154.5,217.2 155.5,222.5 156.5,206.0 157.5,214.5 158.5,223.1 159.5,228.5 160.5,221.2 161.5,215.6 162.5,211.0 163.5,234.1 164.5,255.4 165.5,255.0 166.5,255.8 167.5,255.1 168.5,265.8 169.5,277.6 170.5,264.1 171.5,248.4 172.5,237.0 173.5,253.0 174.5,269.1 175.5,323.3 176.5,307.5 177.5,277.5 178.5,248.0 179.5,258.1 180.5,269.3 181.5,298.6 182.5,297.4 183.5,296.0 184.5,294.5 185.5,291.2 186.5,288.9 187.5,285.7 188.5,269.9 189.5,254.2 190.5,185.0 191.5,206.0 192.5,227.7 193.5,250.5 194.5,251.0 195.5,251.0 196.5,251.6 197.5,250.9 198.5,268.6 199.5,286.6 200.5,277.0 201.5,268.8 202.5,261.1 203.5,253.6 204.5,254.3 205.5,237.4 206.5,222.2 207.5,207.0 208.5,254.3 209.5,301.6 210.5,290.5 211.5,279.3 212.5,264.8 213.5,252.0 214.5,253.3 215.5,255.0 216.5,257.9 217.5,260.2 218.5,255.6 219.5,254.9 220.5,255.6 221.5,256.6 222.5,261.3 223.5,277.8 224.5,292.6 225.5,264.1 226.5,235.6 227.5,207.1 228.5,178.6 229.5,200.9 230.5,224.9 231.5,214.0 232.5,203.6 233.5,221.5 234.5,241.8 235.5,250.9 236.5,260.0 237.5,268.0 238.5,255.6 239.5,247.1 240.5,239.0 241.5,270.3 242.5,300.2 243.5,284.8 244.5,268.0 245.5,251.3 246.5,235.6 247.5,249.8 248.5,264.9 249.5,240.0 250.5,229.7 251.5,221.5 252.5,213.2 253.5,205.0 254.5,279.1 255.5,263.5 256.5,232.3 257.5,253.4 258.5,274.5 259.5,254.7 260.5,192.6 261.5,193.9 262.5,195.1 263.5,195.6 264.5,189.9 265.5,176.9 266.5,163.9 267.5,175.6 268.5,187.6 269.5,199.5 270.5,200.5 271.5,201.4 272.5,185.3 273.5,170.6 274.5,155.9 275.5,181.6 276.5,207.3 277.5,196.3 278.5,184.1 279.5,171.2 280.5,190.7 281.5,206.4 282.5,222.1 283.5,183.1 284.5,144.1 285.5,156.2 286.5,168.3 287.5,176.9 288.5,182.5 289.5,188.2 290.5,174.8 291.5,161.3 292.5,159.9 293.5,158.4 294.5,157.0 295.5,171.1 296.5,185.2 297.5,187.8 298.5,190.5 299.5,193.2 300.5,181.7 301.5,170.1 302.5,158.6 303.5,163.4 304.5,168.9 305.5,173.8 306.5,177.9 307.5,181.3 308.5,185.4 309.5,187.0 310.5,188.6 311.5,185.5 312.5,175.7 313.5,166.0 314.5,185.7 315.5,205.0 316.5,190.9 317.5,177.7 318.5,164.5 319.5,186.2 320.5,206.1 321.5,193.9 322.5,183.6 323.5,196.7 324.5,212.6 325.5,228.6 326.5,215.9 327.5,203.3 328.5,190.8 329.5,178.3 330.5,177.6 331.5,176.8 332.5,176.1 333.5,174.8 334.5,177.8 335.5,180.3 336.5,183.1 337.5,191.4 338.5,199.4 339.5,207.9 340.5,204.9 341.5,201.0 342.5,199.8 343.5,204.2 344.5,207.9 345.5,191.9 346.5,176.0 347.5,160.0 348.5,169.3 349.5,180.4 350.5,180.8 351.5,177.1 352.5,170.6 353.5,166.0 354.5,172.8 355.5,176.7 356.5,171.4 357.5,167.6 358.5,178.7 359.5,190.0 360.5,210.7 361.5,231.5 362.5,212.8 363.5,192.4 364.5,175.4 365.5,184.7 366.5,194.0 367.5,261.7 368.5,273.2 369.5,261.7 370.5,250.0 371.5,255.9 372.5,265.2 373.5,251.3 374.5,235.9 375.5,220.4 376.5,238.7 377.5,258.0 378.5,241.8 379.5,228.2 380.5,216.0 381.5,243.7 382.5,270.3 383.5,291.3 384.5,288.9 385.5,277.4 386.5,266.1 387.5,255.0 388.5,244.0 389.5,257.5 390.5,272.0 391.5,284.5 392.5,266.1 393.5,247.3 394.5,229.3 395.5,249.7 396.5,270.0 397.5,290.4 398.5,283.4 399.5,276.4 400.5,269.4 401.5,256.0 402.5,242.9 403.5,229.3 404.5,241.6 405.5,256.5 406.5,250.1 407.5,245.3 408.5,239.8 409.5,254.1 410.5,268.3 411.5,274.8 412.5,286.2 413.5,289.6 414.5,293.3 415.5,278.3 416.5,263.1 417.5,248.4 418.5,264.4 419.5,280.3 420.5,296.3 421.5,270.8 422.5,288.1 423.5,285.3 424.5,280.2 425.5,275.5 426.5,270.3 427.5,250.2 428.5,230.2 429.5,210.1 430.5,250.2 431.5,290.4 432.5,285.9 433.5,281.5 434.5,276.6 435.5,259.3 436.5,242.2 437.5,224.8 438.5,232.0 439.5,240.4 440.5,248.3 441.5,256.1 442.5,258.4 443.5,260.4 444.5,258.8 445.5,248.4 446.5,239.6 447.5,258.5 448.5,277.4 449.5,296.3 450.5,278.7 451.5,261.5 452.5,244.6 453.5,241.7 454.5,239.5 455.5,236.9 456.5,233.4 457.5,228.0 458.5,223.9 459.5,229.8 460.5,234.2 461.5,237.4 462.5,224.4 463.5,211.3 464.5,198.3 465.5,199.6 466.5,201.3 467.5,203.7 468.5,200.5 469.5,198.3 470.5,206.1 471.5,213.9 472.5,225.7 473.5,237.4 474.5,234.6 475.5,230.3 476.5,223.8 477.5,225.6 478.5,228.7 479.5,232.0 480.5,237.0 481.5,265.9 482.5,272.3 483.5,251.4 484.5,205.3 485.5,205.3 486.5,205.3 487.5,205.3 488.5,205.3 489.5,249.0 490.5,260.2 491.5,254.3 492.5,248.8 493.5,259.1 494.5,267.6 495.5,267.0 496.5,264.9 497.5,241.5 498.5,234.7 499.5,229.6 500.5,227.6 501.5,227.9 502.5,225.2 503.5,203.5 504.5,181.9 505.5,160.0 506.5,182.3 507.5,207.9 508.5,201.4 509.5,196.7 510.5,193.8 511.5,205.3 512.5,209.7 513.5,171.5 514.5,126.2 515.5,163.2 516.5,196.5 517.5,203.7 518.5,203.7 519.5,191.4 520.5,178.6 521.5,202.6 522.5,183.4 523.5,105.0 524.5,146.5 525.5,188.1 526.5,229.6 527.5,204.6 528.5,179.0 529.5,200.3 530.5,215.6 531.5,209.7 532.5,209.5 533.5,171.7 534.5,133.3 535.5,94.8 536.5,118.8 537.5,144.8 538.5,170.6 539.5,153.2 540.5,133.8 541.5,115.4 542.5,132.3 543.5,150.4 544.5,141.3 545.5,135.1 546.5,127.1 547.5,158.5 548.5,188.3 549.5,163.9 550.5,140.3 551.5,116.8 552.5,155.2 553.5,193.6 554.5,195.3 555.5,196.9 556.5,198.0 557.5,192.0 558.5,189.4 559.5,187.5 560.5,194.6 561.5,198.2 562.5,201.9 563.5,200.0 564.5,197.5 565.5,218.9 566.5,241.3 567.5,239.4 568.5,234.3 569.5,229.9 570.5,225.4 571.5,226.7 572.5,255.9 573.5,246.9 574.5,231.9 575.5,205.3 576.5,178.7 577.5,185.5 578.5,192.8 579.5,200.8 580.5,204.8 581.5,208.2 582.5,212.2 583.5,221.3 584.5,231.0 585.5,241.3 586.5,236.4 587.5,232.1 588.5,227.5 589.5,210.2 590.5,195.3 591.5,181.2 592.5,191.0 593.5,201.8 594.5,156.5 595.5,111.0 596.5,161.4 597.5,204.5 598.5,184.2 599.5,156.5 600.5,153.5 601.5,154.8 602.5,156.8 603.5,160.5 604.5,162.0 605.5,163.5 606.5,165.6 607.5,168.9 608.5,172.4 609.5,176.5 610.5,174.1 611.5,172.0 612.5,170.0 613.5,149.0 614.5,128.2 615.5,97.5 616.5,66.8 617.5,100.0 618.5,134.0 619.5,137.4 620.5,140.7 621.5,144.1 622.5,122.7 623.5,100.9 624.5,80.0 625.5,103.3 626.5,126.6 627.5,149.8 628.5,166.1 629.5,182.4 630.5,163.7 631.5,144.2 632.5,125.7 633.5,146.6 634.5,167.4 635.5,188.3 636.5,179.6 637.5,169.0 638.5,155.4 639.5,141.9 640.5,168.0 641.5,194.2 642.5,189.7 643.5,185.1 644.5,180.6 645.5,150.1 646.5,121.3 647.5,141.9 648.5,182.5 649.5,211.8 650.5,170.8 651.5,129.9 652.5,88.9 653.5,137.5 654.5,186.1 655.5,187.7 656.5,189.2 657.5,212.3 658.5,194.9 659.5,176.5 660.5,158.1 661.5,190.8 662.5,219.5 663.5,215.6 664.5,207.5 665.5,196.3 666.5,192.1 667.5,188.3 668.5,184.6 669.5,207.0 670.5,229.5 671.5,227.0 672.5,224.8 673.5,222.6 674.5,207.0 675.5,191.9 676.5,176.5 677.5,166.5 678.5,156.7 679.5,146.3 680.5,167.3 681.5,188.3 682.5,184.5 683.5,180.6 684.5,165.5 685.5,150.7 686.5,159.6 687.5,167.9 688.5,176.5 689.5,190.2 690.5,203.7 691.5,217.7 692.5,214.0 693.5,210.8 694.5,207.3 695.5,196.9 696.5,186.8 697.5,153.6 698.5,161.1 699.5,168.3 700.5,175.2 701.5,195.0 702.5,214.5 703.5,227.8 704.5,241.3 705.5,220.2 706.5,208.8 707.5,187.1 708.5,165.8 709.5,153.7 710.5,141.5 711.5,116.4 712.5,90.3 713.5,110.8 714.5,130.9 715.5,151.1 716.5,155.7 717.5,160.0 718.5,164.7 719.5,157.6 720.5,150.4 721.5,143.3 722.5,145.1 723.5,147.7 724.5,153.6 725.5,152.8 726.5,149.5 727.5,145.7 728.5,143.3 729.5,148.6 730.5,153.3 731.5,161.7 732.5,173.2 733.5,201.4 734.5,229.5 735.5,147.4 736.5,65.3 737.5,100.1 738.5,120.5 739.5,117.8" fill="none" stroke="#000000" stroke-width="1" stroke-linejoin="miter" stroke-miterlimit="2"/>
<line x1="71.5" y1="28" x2="71.5" y2="478" stroke="rgba(143,143,143,0.42)" stroke-width="1" stroke-dasharray="1 1"/><line x1="71.5" y1="26" x2="71.5" y2="28" stroke="rgba(143,143,143,0.42)" stroke-width="1"/><line x1="71.5" y1="479" x2="71.5" y2="480" stroke="rgba(143,143,143,0.42)" stroke-width="1"/><line x1="83.5" y1="28" x2="83.5" y2="478" stroke="rgba(143,143,143,0.42)" stroke-width="1" stroke-dasharray="1 1"/><line x1="83.5" y1="26" x2="83.5" y2="28" stroke="rgba(143,143,143,0.42)" stroke-width="1"/><line x1="83.5" y1="479" x2="83.5" y2="480" stroke="rgba(143,143,143,0.42)" stroke-width="1"/><line x1="95.5" y1="28" x2="95.5" y2="478" stroke="rgba(143,143,143,0.42)" stroke-width="1" stroke-dasharray="1 1"/><line x1="95.5" y1="26" x2="95.5" y2="28" stroke="rgba(143,143,143,0.42)" stroke-width="1"/><line x1="95.5" y1="479" x2="95.5" y2="480" stroke="rgba(143,143,143,0.42)" stroke-width="1"/><line x1="107.5" y1="28" x2="107.5" y2="478" stroke="rgba(143,143,143,0.42)" stroke-width="1" stroke-dasharray="1 1"/><line x1="107.5" y1="26" x2="107.5" y2="28" stroke="rgba(143,143,143,0.42)" stroke-width="1"/><line x1="107.5" y1="479" x2="107.5" y2="480" stroke="rgba(143,143,143,0.42)" stroke-width="1"/><line x1="118.5" y1="28" x2="118.5" y2="478" stroke="rgba(143,143,143,0.42)" stroke-width="1" stroke-dasharray="1 1"/><line x1="118.5" y1="26" x2="118.5" y2="28" stroke="rgba(143,143,143,0.42)" stroke-width="1"/><line x1="118.5" y1="479" x2="118.5" y2="480" stroke="rgba(143,143,143,0.42)" stroke-width="1"/><line x1="130.5" y1="28" x2="130.5" y2="478" stroke="rgba(143,143,143,0.42)" stroke-width="1" stroke-dasharray="1 1"/><line x1="130.5" y1="26" x2="130.5" y2="28" stroke="rgba(143,143,143,0.42)" stroke-width="1"/><line x1="130.5" y1="479" x2="130.5" y2="480" stroke="rgba(143,143,143,0.42)" stroke-width="1"/><line x1="142.5" y1="28" x2="142.5" y2="478" stroke="rgba(143,143,143,0.42)" stroke-width="1" stroke-dasharray="1 1"/><line x1="142.5" y1="26" x2="142.5" y2="28" stroke="rgba(143,143,143,0.42)" stroke-width="1"/><line x1="142.5" y1="479" x2="142.5" y2="480" stroke="rgba(143,143,143,0.42)" stroke-width="1"/><line x1="154.5" y1="28" x2="154.5" y2="478" stroke="rgba(143,143,143,0.42)" stroke-width="1" stroke-dasharray="1 1"/><line x1="154.5" y1="26" x2="154.5" y2="28" stroke="rgba(143,143,143,0.42)" stroke-width="1"/><line x1="154.5" y1="479" x2="154.5" y2="480" stroke="rgba(143,143,143,0.42)" stroke-width="1"/><line x1="165.5" y1="28" x2="165.5" y2="478" stroke="rgba(143,143,143,0.42)" stroke-width="1" stroke-dasharray="1 1"/><line x1="165.5" y1="26" x2="165.5" y2="28" stroke="rgba(143,143,143,0.42)" stroke-width="1"/><line x1="165.5" y1="479" x2="165.5" y2="480" stroke="rgba(143,143,143,0.42)" stroke-width="1"/><line x1="177.5" y1="28" x2="177.5" y2="478" stroke="rgba(143,143,143,0.42)" stroke-width="1" stroke-dasharray="1 1"/><line x1="177.5" y1="26" x2="177.5" y2="28" stroke="rgba(143,143,143,0.42)" stroke-width="1"/><line x1="177.5" y1="479" x2="177.5" y2="480" stroke="rgba(143,143,143,0.42)" stroke-width="1"/><line x1="189.5" y1="28" x2="189.5" y2="478" stroke="rgba(143,143,143,0.42)" stroke-width="1" stroke-dasharray="1 1"/><line x1="189.5" y1="26" x2="189.5" y2="28" stroke="rgba(143,143,143,0.42)" stroke-width="1"/><line x1="189.5" y1="479" x2="189.5" y2="480" stroke="rgba(143,143,143,0.42)" stroke-width="1"/><line x1="201.5" y1="28" x2="201.5" y2="478" stroke="rgba(143,143,143,0.42)" stroke-width="1" stroke-dasharray="1 1"/><line x1="201.5" y1="26" x2="201.5" y2="28" stroke="rgba(143,143,143,0.42)" stroke-width="1"/><line x1="201.5" y1="479" x2="201.5" y2="480" stroke="rgba(143,143,143,0.42)" stroke-width="1"/><line x1="213.5" y1="28" x2="213.5" y2="478" stroke="rgba(143,143,143,0.42)" stroke-width="1" stroke-dasharray="1 1"/><line x1="213.5" y1="26" x2="213.5" y2="28" stroke="rgba(143,143,143,0.42)" stroke-width="1"/><line x1="213.5" y1="479" x2="213.5" y2="480" stroke="rgba(143,143,143,0.42)" stroke-width="1"/><line x1="224.5" y1="28" x2="224.5" y2="478" stroke="rgba(143,143,143,0.42)" stroke-width="1" stroke-dasharray="1 1"/><line x1="224.5" y1="26" x2="224.5" y2="28" stroke="rgba(143,143,143,0.42)" stroke-width="1"/><line x1="224.5" y1="479" x2="224.5" y2="480" stroke="rgba(143,143,143,0.42)" stroke-width="1"/><line x1="236.5" y1="28" x2="236.5" y2="478" stroke="rgba(143,143,143,0.42)" stroke-width="1" stroke-dasharray="1 1"/><line x1="236.5" y1="26" x2="236.5" y2="28" stroke="rgba(143,143,143,0.42)" stroke-width="1"/><line x1="236.5" y1="479" x2="236.5" y2="480" stroke="rgba(143,143,143,0.42)" stroke-width="1"/><line x1="248.5" y1="28" x2="248.5" y2="478" stroke="rgba(143,143,143,0.42)" stroke-width="1" stroke-dasharray="1 1"/><line x1="248.5" y1="26" x2="248.5" y2="28" stroke="rgba(143,143,143,0.42)" stroke-width="1"/><line x1="248.5" y1="479" x2="248.5" y2="480" stroke="rgba(143,143,143,0.42)" stroke-width="1"/><line x1="260.5" y1="28" x2="260.5" y2="478" stroke="rgba(143,143,143,0.42)" stroke-width="1" stroke-dasharray="1 1"/><line x1="260.5" y1="26" x2="260.5" y2="28" stroke="rgba(143,143,143,0.42)" stroke-width="1"/><line x1="260.5" y1="479" x2="260.5" y2="480" stroke="rgba(143,143,143,0.42)" stroke-width="1"/><line x1="272.5" y1="28" x2="272.5" y2="478" stroke="rgba(143,143,143,0.42)" stroke-width="1" stroke-dasharray="1 1"/><line x1="272.5" y1="26" x2="272.5" y2="28" stroke="rgba(143,143,143,0.42)" stroke-width="1"/><line x1="272.5" y1="479" x2="272.5" y2="480" stroke="rgba(143,143,143,0.42)" stroke-width="1"/><line x1="283.5" y1="28" x2="283.5" y2="478" stroke="rgba(143,143,143,0.42)" stroke-width="1" stroke-dasharray="1 1"/><line x1="283.5" y1="26" x2="283.5" y2="28" stroke="rgba(143,143,143,0.42)" stroke-width="1"/><line x1="283.5" y1="479" x2="283.5" y2="480" stroke="rgba(143,143,143,0.42)" stroke-width="1"/><line x1="295.5" y1="28" x2="295.5" y2="478" stroke="rgba(143,143,143,0.42)" stroke-width="1" stroke-dasharray="1 1"/><line x1="295.5" y1="26" x2="295.5" y2="28" stroke="rgba(143,143,143,0.42)" stroke-width="1"/><line x1="295.5" y1="479" x2="295.5" y2="480" stroke="rgba(143,143,143,0.42)" stroke-width="1"/><line x1="307.5" y1="28" x2="307.5" y2="478" stroke="rgba(143,143,143,0.42)" stroke-width="1" stroke-dasharray="1 1"/><line x1="307.5" y1="26" x2="307.5" y2="28" stroke="rgba(143,143,143,0.42)" stroke-width="1"/><line x1="307.5" y1="479" x2="307.5" y2="480" stroke="rgba(143,143,143,0.42)" stroke-width="1"/><line x1="319.5" y1="28" x2="319.5" y2="478" stroke="rgba(143,143,143,0.42)" stroke-width="1" stroke-dasharray="1 1"/><line x1="319.5" y1="26" x2="319.5" y2="28" stroke="rgba(143,143,143,0.42)" stroke-width="1"/><line x1="319.5" y1="479" x2="319.5" y2="480" stroke="rgba(143,143,143,0.42)" stroke-width="1"/><line x1="331.5" y1="28" x2="331.5" y2="478" stroke="rgba(143,143,143,0.42)" stroke-width="1" stroke-dasharray="1 1"/><line x1="331.5" y1="26" x2="331.5" y2="28" stroke="rgba(143,143,143,0.42)" stroke-width="1"/><line x1="331.5" y1="479" x2="331.5" y2="480" stroke="rgba(143,143,143,0.42)" stroke-width="1"/><line x1="342.5" y1="28" x2="342.5" y2="478" stroke="rgba(143,143,143,0.42)" stroke-width="1" stroke-dasharray="1 1"/><line x1="342.5" y1="26" x2="342.5" y2="28" stroke="rgba(143,143,143,0.42)" stroke-width="1"/><line x1="342.5" y1="479" x2="342.5" y2="480" stroke="rgba(143,143,143,0.42)" stroke-width="1"/><line x1="354.5" y1="28" x2="354.5" y2="478" stroke="rgba(143,143,143,0.42)" stroke-width="1" stroke-dasharray="1 1"/><line x1="354.5" y1="26" x2="354.5" y2="28" stroke="rgba(143,143,143,0.42)" stroke-width="1"/><line x1="354.5" y1="479" x2="354.5" y2="480" stroke="rgba(143,143,143,0.42)" stroke-width="1"/><line x1="378.5" y1="28" x2="378.5" y2="478" stroke="rgba(143,143,143,0.42)" stroke-width="1" stroke-dasharray="1 1"/><line x1="378.5" y1="26" x2="378.5" y2="28" stroke="rgba(143,143,143,0.42)" stroke-width="1"/><line x1="378.5" y1="479" x2="378.5" y2="480" stroke="rgba(143,143,143,0.42)" stroke-width="1"/><line x1="390.5" y1="28" x2="390.5" y2="478" stroke="rgba(143,143,143,0.42)" stroke-width="1" stroke-dasharray="1 1"/><line x1="390.5" y1="26" x2="390.5" y2="28" stroke="rgba(143,143,143,0.42)" stroke-width="1"/><line x1="390.5" y1="479" x2="390.5" y2="480" stroke="rgba(143,143,143,0.42)" stroke-width="1"/><line x1="401.5" y1="28" x2="401.5" y2="478" stroke="rgba(143,143,143,0.42)" stroke-width="1" stroke-dasharray="1 1"/><line x1="401.5" y1="26" x2="401.5" y2="28" stroke="rgba(143,143,143,0.42)" stroke-width="1"/><line x1="401.5" y1="479" x2="401.5" y2="480" stroke="rgba(143,143,143,0.42)" stroke-width="1"/><line x1="413.5" y1="28" x2="413.5" y2="478" stroke="rgba(143,143,143,0.42)" stroke-width="1" stroke-dasharray="1 1"/><line x1="413.5" y1="26" x2="413.5" y2="28" stroke="rgba(143,143,143,0.42)" stroke-width="1"/><line x1="413.5" y1="479" x2="413.5" y2="480" stroke="rgba(143,143,143,0.42)" stroke-width="1"/><line x1="425.5" y1="28" x2="425.5" y2="478" stroke="rgba(143,143,143,0.42)" stroke-width="1" stroke-dasharray="1 1"/><line x1="425.5" y1="26" x2="425.5" y2="28" stroke="rgba(143,143,143,0.42)" stroke-width="1"/><line x1="425.5" y1="479" x2="425.5" y2="480" stroke="rgba(143,143,143,0.42)" stroke-width="1"/><line x1="437.5" y1="28" x2="437.5" y2="478" stroke="rgba(143,143,143,0.42)" stroke-width="1" stroke-dasharray="1 1"/><line x1="437.5" y1="26" x2="437.5" y2="28" stroke="rgba(143,143,143,0.42)" stroke-width="1"/><line x1="437.5" y1="479" x2="437.5" y2="480" stroke="rgba(143,143,143,0.42)" stroke-width="1"/><line x1="449.5" y1="28" x2="449.5" y2="478" stroke="rgba(143,143,143,0.42)" stroke-width="1" stroke-dasharray="1 1"/><line x1="449.5" y1="26" x2="449.5" y2="28" stroke="rgba(143,143,143,0.42)" stroke-width="1"/><line x1="449.5" y1="479" x2="449.5" y2="480" stroke="rgba(143,143,143,0.42)" stroke-width="1"/><line x1="460.5" y1="28" x2="460.5" y2="478" stroke="rgba(143,143,143,0.42)" stroke-width="1" stroke-dasharray="1 1"/><line x1="460.5" y1="26" x2="460.5" y2="28" stroke="rgba(143,143,143,0.42)" stroke-width="1"/><line x1="460.5" y1="479" x2="460.5" y2="480" stroke="rgba(143,143,143,0.42)" stroke-width="1"/><line x1="472.5" y1="28" x2="472.5" y2="478" stroke="rgba(143,143,143,0.42)" stroke-width="1" stroke-dasharray="1 1"/><line x1="472.5" y1="26" x2="472.5" y2="28" stroke="rgba(143,143,143,0.42)" stroke-width="1"/><line x1="472.5" y1="479" x2="472.5" y2="480" stroke="rgba(143,143,143,0.42)" stroke-width="1"/><line x1="484.5" y1="28" x2="484.5" y2="478" stroke="rgba(143,143,143,0.42)" stroke-width="1" stroke-dasharray="1 1"/><line x1="484.5" y1="26" x2="484.5" y2="28" stroke="rgba(143,143,143,0.42)" stroke-width="1"/><line x1="484.5" y1="479" x2="484.5" y2="480" stroke="rgba(143,143,143,0.42)" stroke-width="1"/><line x1="496.5" y1="28" x2="496.5" y2="478" stroke="rgba(143,143,143,0.42)" stroke-width="1" stroke-dasharray="1 1"/><line x1="496.5" y1="26" x2="496.5" y2="28" stroke="rgba(143,143,143,0.42)" stroke-width="1"/><line x1="496.5" y1="479" x2="496.5" y2="480" stroke="rgba(143,143,143,0.42)" stroke-width="1"/><line x1="508.5" y1="28" x2="508.5" y2="478" stroke="rgba(143,143,143,0.42)" stroke-width="1" stroke-dasharray="1 1"/><line x1="508.5" y1="26" x2="508.5" y2="28" stroke="rgba(143,143,143,0.42)" stroke-width="1"/><line x1="508.5" y1="479" x2="508.5" y2="480" stroke="rgba(143,143,143,0.42)" stroke-width="1"/><line x1="519.5" y1="28" x2="519.5" y2="478" stroke="rgba(143,143,143,0.42)" stroke-width="1" stroke-dasharray="1 1"/><line x1="519.5" y1="26" x2="519.5" y2="28" stroke="rgba(143,143,143,0.42)" stroke-width="1"/><line x1="519.5" y1="479" x2="519.5" y2="480" stroke="rgba(143,143,143,0.42)" stroke-width="1"/><line x1="531.5" y1="28" x2="531.5" y2="478" stroke="rgba(143,143,143,0.42)" stroke-width="1" stroke-dasharray="1 1"/><line x1="531.5" y1="26" x2="531.5" y2="28" stroke="rgba(143,143,143,0.42)" stroke-width="1"/><line x1="531.5" y1="479" x2="531.5" y2="480" stroke="rgba(143,143,143,0.42)" stroke-width="1"/><line x1="543.5" y1="28" x2="543.5" y2="478" stroke="rgba(143,143,143,0.42)" stroke-width="1" stroke-dasharray="1 1"/><line x1="543.5" y1="26" x2="543.5" y2="28" stroke="rgba(143,143,143,0.42)" stroke-width="1"/><line x1="543.5" y1="479" x2="543.5" y2="480" stroke="rgba(143,143,143,0.42)" stroke-width="1"/><line x1="555.5" y1="28" x2="555.5" y2="478" stroke="rgba(143,143,143,0.42)" stroke-width="1" stroke-dasharray="1 1"/><line x1="555.5" y1="26" x2="555.5" y2="28" stroke="rgba(143,143,143,0.42)" stroke-width="1"/><line x1="555.5" y1="479" x2="555.5" y2="480" stroke="rgba(143,143,143,0.42)" stroke-width="1"/><line x1="567.5" y1="28" x2="567.5" y2="478" stroke="rgba(143,143,143,0.42)" stroke-width="1" stroke-dasharray="1 1"/><line x1="567.5" y1="26" x2="567.5" y2="28" stroke="rgba(143,143,143,0.42)" stroke-width="1"/><line x1="567.5" y1="479" x2="567.5" y2="480" stroke="rgba(143,143,143,0.42)" stroke-width="1"/><line x1="578.5" y1="28" x2="578.5" y2="478" stroke="rgba(143,143,143,0.42)" stroke-width="1" stroke-dasharray="1 1"/><line x1="578.5" y1="26" x2="578.5" y2="28" stroke="rgba(143,143,143,0.42)" stroke-width="1"/><line x1="578.5" y1="479" x2="578.5" y2="480" stroke="rgba(143,143,143,0.42)" stroke-width="1"/><line x1="590.5" y1="28" x2="590.5" y2="478" stroke="rgba(143,143,143,0.42)" stroke-width="1" stroke-dasharray="1 1"/><line x1="590.5" y1="26" x2="590.5" y2="28" stroke="rgba(143,143,143,0.42)" stroke-width="1"/><line x1="590.5" y1="479" x2="590.5" y2="480" stroke="rgba(143,143,143,0.42)" stroke-width="1"/><line x1="602.5" y1="28" x2="602.5" y2="478" stroke="rgba(143,143,143,0.42)" stroke-width="1" stroke-dasharray="1 1"/><line x1="602.5" y1="26" x2="602.5" y2="28" stroke="rgba(143,143,143,0.42)" stroke-width="1"/><line x1="602.5" y1="479" x2="602.5" y2="480" stroke="rgba(143,143,143,0.42)" stroke-width="1"/><line x1="614.5" y1="28" x2="614.5" y2="478" stroke="rgba(143,143,143,0.42)" stroke-width="1" stroke-dasharray="1 1"/><line x1="614.5" y1="26" x2="614.5" y2="28" stroke="rgba(143,143,143,0.42)" stroke-width="1"/><line x1="614.5" y1="479" x2="614.5" y2="480" stroke="rgba(143,143,143,0.42)" stroke-width="1"/><line x1="625.5" y1="28" x2="625.5" y2="478" stroke="rgba(143,143,143,0.42)" stroke-width="1" stroke-dasharray="1 1"/><line x1="625.5" y1="26" x2="625.5" y2="28" stroke="rgba(143,143,143,0.42)" stroke-width="1"/><line x1="625.5" y1="479" x2="625.5" y2="480" stroke="rgba(143,143,143,0.42)" stroke-width="1"/><line x1="637.5" y1="28" x2="637.5" y2="478" stroke="rgba(143,143,143,0.42)" stroke-width="1" stroke-dasharray="1 1"/><line x1="637.5" y1="26" x2="637.5" y2="28" stroke="rgba(143,143,143,0.42)" stroke-width="1"/><line x1="637.5" y1="479" x2="637.5" y2="480" stroke="rgba(143,143,143,0.42)" stroke-width="1"/><line x1="649.5" y1="28" x2="649.5" y2="478" stroke="rgba(143,143,143,0.42)" stroke-width="1" stroke-dasharray="1 1"/><line x1="649.5" y1="26" x2="649.5" y2="28" stroke="rgba(143,143,143,0.42)" stroke-width="1"/><line x1="649.5" y1="479" x2="649.5" y2="480" stroke="rgba(143,143,143,0.42)" stroke-width="1"/><line x1="661.5" y1="28" x2="661.5" y2="478" stroke="rgba(143,143,143,0.42)" stroke-width="1" stroke-dasharray="1 1"/><line x1="661.5" y1="26" x2="661.5" y2="28" stroke="rgba(143,143,143,0.42)" stroke-width="1"/><line x1="661.5" y1="479" x2="661.5" y2="480" stroke="rgba(143,143,143,0.42)" stroke-width="1"/><line x1="673.5" y1="28" x2="673.5" y2="478" stroke="rgba(143,143,143,0.42)" stroke-width="1" stroke-dasharray="1 1"/><line x1="673.5" y1="26" x2="673.5" y2="28" stroke="rgba(143,143,143,0.42)" stroke-width="1"/><line x1="673.5" y1="479" x2="673.5" y2="480" stroke="rgba(143,143,143,0.42)" stroke-width="1"/><line x1="684.5" y1="28" x2="684.5" y2="478" stroke="rgba(143,143,143,0.42)" stroke-width="1" stroke-dasharray="1 1"/><line x1="684.5" y1="26" x2="684.5" y2="28" stroke="rgba(143,143,143,0.42)" stroke-width="1"/><line x1="684.5" y1="479" x2="684.5" y2="480" stroke="rgba(143,143,143,0.42)" stroke-width="1"/><line x1="696.5" y1="28" x2="696.5" y2="478" stroke="rgba(143,143,143,0.42)" stroke-width="1" stroke-dasharray="1 1"/><line x1="696.5" y1="26" x2="696.5" y2="28" stroke="rgba(143,143,143,0.42)" stroke-width="1"/><line x1="696.5" y1="479" x2="696.5" y2="480" stroke="rgba(143,143,143,0.42)" stroke-width="1"/><line x1="708.5" y1="28" x2="708.5" y2="478" stroke="rgba(143,143,143,0.42)" stroke-width="1" stroke-dasharray="1 1"/><line x1="708.5" y1="26" x2="708.5" y2="28" stroke="rgba(143,143,143,0.42)" stroke-width="1"/><line x1="708.5" y1="479" x2="708.5" y2="480" stroke="rgba(143,143,143,0.42)" stroke-width="1"/><line x1="720.5" y1="28" x2="720.5" y2="478" stroke="rgba(143,143,143,0.42)" stroke-width="1" stroke-dasharray="1 1"/><line x1="720.5" y1="26" x2="720.5" y2="28" stroke="rgba(143,143,143,0.42)" stroke-width="1"/><line x1="720.5" y1="479" x2="720.5" y2="480" stroke="rgba(143,143,143,0.42)" stroke-width="1"/><line x1="732.5" y1="28" x2="732.5" y2="478" stroke="rgba(143,143,143,0.42)" stroke-width="1" stroke-dasharray="1 1"/><line x1="732.5" y1="26" x2="732.5" y2="28" stroke="rgba(143,143,143,0.42)" stroke-width="1"/><line x1="732.5" y1="479" x2="732.5" y2="480" stroke="rgba(143,143,143,0.42)" stroke-width="1"/><line x1="64" y1="478.5" x2="743" y2="478.5" stroke="rgba(222,79,79,0.5)" stroke-width="1" stroke-dasharray="1 1" stroke-dashoffset="1"/><line x1="64" y1="459.5" x2="743" y2="459.5" stroke="rgba(222,79,79,0.5)" stroke-width="1" stroke-dasharray="1 1" stroke-dashoffset="1"/><line x1="64" y1="440.5" x2="743" y2="440.5" stroke="rgba(222,79,79,0.5)" stroke-width="1" stroke-dasharray="1 1" stroke-dashoffset="1"/><line x1="64" y1="422.5" x2="743" y2="422.5" stroke="rgba(222,79,79,0.5)" stroke-width="1" stroke-dasharray="1 1" stroke-dashoffset="1"/><line x1="64" y1="403.5" x2="743" y2="403.5" stroke="rgba(222,79,79,0.5)" stroke-width="1" stroke-dasharray="1 1" stroke-dashoffset="1"/><line x1="64" y1="384.5" x2="743" y2="384.5" stroke="rgba(222,79,79,0.5)" stroke-width="1" stroke-dasharray="1 1" stroke-dashoffset="1"/><line x1="64" y1="365.5" x2="743" y2="365.5" stroke="rgba(222,79,79,0.5)" stroke-width="1" stroke-dasharray="1 1" stroke-dashoffset="1"/><line x1="64" y1="347.5" x2="743" y2="347.5" stroke="rgba(222,79,79,0.5)" stroke-width="1" stroke-dasharray="1 1" stroke-dashoffset="1"/><line x1="64" y1="328.5" x2="743" y2="328.5" stroke="rgba(222,79,79,0.5)" stroke-width="1" stroke-dasharray="1 1" stroke-dashoffset="1"/><line x1="64" y1="309.5" x2="743" y2="309.5" stroke="rgba(222,79,79,0.5)" stroke-width="1" stroke-dasharray="1 1" stroke-dashoffset="1"/><line x1="64" y1="290.5" x2="743" y2="290.5" stroke="rgba(222,79,79,0.5)" stroke-width="1" stroke-dasharray="1 1" stroke-dashoffset="1"/><line x1="64" y1="272.5" x2="743" y2="272.5" stroke="rgba(222,79,79,0.5)" stroke-width="1" stroke-dasharray="1 1" stroke-dashoffset="1"/><line x1="64" y1="253.5" x2="743" y2="253.5" stroke="rgba(222,79,79,0.5)" stroke-width="1" stroke-dasharray="1 1" stroke-dashoffset="1"/><line x1="64" y1="234.5" x2="743" y2="234.5" stroke="rgba(222,79,79,0.5)" stroke-width="1" stroke-dasharray="1 1" stroke-dashoffset="1"/><line x1="64" y1="215.5" x2="743" y2="215.5" stroke="rgba(222,79,79,0.5)" stroke-width="1" stroke-dasharray="1 1" stroke-dashoffset="1"/><line x1="64" y1="197.5" x2="743" y2="197.5" stroke="rgba(222,79,79,0.5)" stroke-width="1" stroke-dasharray="1 1" stroke-dashoffset="1"/><line x1="64" y1="178.5" x2="743" y2="178.5" stroke="rgba(222,79,79,0.5)" stroke-width="1" stroke-dasharray="1 1" stroke-dashoffset="1"/><line x1="64" y1="159.5" x2="743" y2="159.5" stroke="rgba(222,79,79,0.5)" stroke-width="1" stroke-dasharray="1 1" stroke-dashoffset="1"/><line x1="64" y1="140.5" x2="743" y2="140.5" stroke="rgba(222,79,79,0.5)" stroke-width="1" stroke-dasharray="1 1" stroke-dashoffset="1"/><line x1="64" y1="122.5" x2="743" y2="122.5" stroke="rgba(222,79,79,0.5)" stroke-width="1" stroke-dasharray="1 1" stroke-dashoffset="1"/><line x1="64" y1="103.5" x2="743" y2="103.5" stroke="rgba(222,79,79,0.5)" stroke-width="1" stroke-dasharray="1 1" stroke-dashoffset="1"/><line x1="64" y1="84.5" x2="743" y2="84.5" stroke="rgba(222,79,79,0.5)" stroke-width="1" stroke-dasharray="1 1" stroke-dashoffset="1"/><line x1="64" y1="65.5" x2="743" y2="65.5" stroke="rgba(222,79,79,0.5)" stroke-width="1" stroke-dasharray="1 1" stroke-dashoffset="1"/><line x1="64" y1="47.5" x2="743" y2="47.5" stroke="rgba(222,79,79,0.5)" stroke-width="1" stroke-dasharray="1 1" stroke-dashoffset="1"/><line x1="64" y1="28.5" x2="743" y2="28.5" stroke="rgba(222,79,79,0.5)" stroke-width="1" stroke-dasharray="1 1" stroke-dashoffset="1"/><line x1="112.5" y1="28" x2="112.5" y2="478" stroke="rgba(222,79,79,0.5)" stroke-width="1" stroke-dasharray="1 1"/><line x1="112.5" y1="25" x2="112.5" y2="28" stroke="rgba(222,79,79,0.5)" stroke-width="1"/><line x1="112.5" y1="479" x2="112.5" y2="481" stroke="rgba(222,79,79,0.5)" stroke-width="1"/><line x1="164.5" y1="28" x2="164.5" y2="478" stroke="rgba(222,79,79,0.5)" stroke-width="1" stroke-dasharray="1 1"/><line x1="164.5" y1="25" x2="164.5" y2="28" stroke="rgba(222,79,79,0.5)" stroke-width="1"/><line x1="164.5" y1="479" x2="164.5" y2="481" stroke="rgba(222,79,79,0.5)" stroke-width="1"/><line x1="211.5" y1="28" x2="211.5" y2="478" stroke="rgba(222,79,79,0.5)" stroke-width="1" stroke-dasharray="1 1"/><line x1="211.5" y1="25" x2="211.5" y2="28" stroke="rgba(222,79,79,0.5)" stroke-width="1"/><line x1="211.5" y1="479" x2="211.5" y2="481" stroke="rgba(222,79,79,0.5)" stroke-width="1"/><line x1="263.5" y1="28" x2="263.5" y2="478" stroke="rgba(222,79,79,0.5)" stroke-width="1" stroke-dasharray="1 1"/><line x1="263.5" y1="25" x2="263.5" y2="28" stroke="rgba(222,79,79,0.5)" stroke-width="1"/><line x1="263.5" y1="479" x2="263.5" y2="481" stroke="rgba(222,79,79,0.5)" stroke-width="1"/><line x1="314.5" y1="28" x2="314.5" y2="478" stroke="rgba(222,79,79,0.5)" stroke-width="1" stroke-dasharray="1 1"/><line x1="314.5" y1="25" x2="314.5" y2="28" stroke="rgba(222,79,79,0.5)" stroke-width="1"/><line x1="314.5" y1="479" x2="314.5" y2="481" stroke="rgba(222,79,79,0.5)" stroke-width="1"/><line x1="366.5" y1="28" x2="366.5" y2="478" stroke="rgba(222,79,79,0.5)" stroke-width="1" stroke-dasharray="1 1"/><line x1="366.5" y1="25" x2="366.5" y2="28" stroke="rgba(222,79,79,0.5)" stroke-width="1"/><line x1="366.5" y1="479" x2="366.5" y2="481" stroke="rgba(222,79,79,0.5)" stroke-width="1"/><line x1="417.5" y1="28" x2="417.5" y2="478" stroke="rgba(222,79,79,0.5)" stroke-width="1" stroke-dasharray="1 1"/><line x1="417.5" y1="25" x2="417.5" y2="28" stroke="rgba(222,79,79,0.5)" stroke-width="1"/><line x1="417.5" y1="479" x2="417.5" y2="481" stroke="rgba(222,79,79,0.5)" stroke-width="1"/><line x1="469.5" y1="28" x2="469.5" y2="478" stroke="rgba(222,79,79,0.5)" stroke-width="1" stroke-dasharray="1 1"/><line x1="469.5" y1="25" x2="469.5" y2="28" stroke="rgba(222,79,79,0.5)" stroke-width="1"/><line x1="469.5" y1="479" x2="469.5" y2="481" stroke="rgba(222,79,79,0.5)" stroke-width="1"/><line x1="521.5" y1="28" x2="521.5" y2="478" stroke="rgba(222,79,79,0.5)" stroke-width="1" stroke-dasharray="1 1"/><line x1="521.5" y1="25" x2="521.5" y2="28" stroke="rgba(222,79,79,0.5)" stroke-width="1"/><line x1="521.5" y1="479" x2="521.5" y2="481" stroke="rgba(222,79,79,0.5)" stroke-width="1"/><line x1="572.5" y1="28" x2="572.5" y2="478" stroke="rgba(222,79,79,0.5)" stroke-width="1" stroke-dasharray="1 1"/><line x1="572.5" y1="25" x2="572.5" y2="28" stroke="rgba(222,79,79,0.5)" stroke-width="1"/><line x1="572.5" y1="479" x2="572.5" y2="481" stroke="rgba(222,79,79,0.5)" stroke-width="1"/><line x1="624.5" y1="28" x2="624.5" y2="478" stroke="rgba(222,79,79,0.5)" stroke-width="1" stroke-dasharray="1 1"/><line x1="624.5" y1="25" x2="624.5" y2="28" stroke="rgba(222,79,79,0.5)" stroke-width="1"/><line x1="624.5" y1="479" x2="624.5" y2="481" stroke="rgba(222,79,79,0.5)" stroke-width="1"/><line x1="674.5" y1="28" x2="674.5" y2="478" stroke="rgba(222,79,79,0.5)" stroke-width="1" stroke-dasharray="1 1"/><line x1="674.5" y1="25" x2="674.5" y2="28" stroke="rgba(222,79,79,0.5)" stroke-width="1"/><line x1="674.5" y1="479" x2="674.5" y2="481" stroke="rgba(222,79,79,0.5)" stroke-width="1"/><line x1="727.5" y1="28" x2="727.5" y2="478" stroke="rgba(222,79,79,0.5)" stroke-width="1" stroke-dasharray="1 1"/><line x1="727.5" y1="25" x2="727.5" y2="28" stroke="rgba(222,79,79,0.5)" stroke-width="1"/><line x1="727.5" y1="479" x2="727.5" y2="481" stroke="rgba(222,79,79,0.5)" stroke-width="1"/>
<line x1="66.5" y1="25" x2="66.5" y2="482" stroke="#cfd6f8" stroke-width="1"/><polygon points="63.9,26 69.9,26 66.9,21.6" fill="#cfd6f8"/><line x1="62" y1="478.5" x2="744" y2="478.5" stroke="#cfd6f8" stroke-width="1"/><polygon points="743,475.2 743,480.9 747.4,478.05" fill="#cfd6f8"/>
<g style="filter:opacity(1)"><text x="385.4" y="23.8" text-anchor="middle" font-family="'DejaVu Sans','Liberation Sans',sans-serif" font-size="12.6" fill="#666666">Node 0, zone Normal - by year</text><text x="60" y="482.8" text-anchor="end" font-family="'DejaVu Sans','Liberation Sans',sans-serif" font-size="9.72" fill="#666666">0.1 k</text><text x="60" y="463.8" text-anchor="end" font-family="'DejaVu Sans','Liberation Sans',sans-serif" font-size="9.72" fill="#666666">0.2 k</text><text x="60" y="444.8" text-anchor="end" font-family="'DejaVu Sans','Liberation Sans',sans-serif" font-size="9.72" fill="#666666">0.3 k</text><text x="60" y="426.8" text-anchor="end" font-family="'DejaVu Sans','Liberation Sans',sans-serif" font-size="9.72" fill="#666666">0.4 k</text><text x="60" y="407.8" text-anchor="end" font-family="'DejaVu Sans','Liberation Sans',sans-serif" font-size="9.72" fill="#666666">0.5 k</text><text x="60" y="388.8" text-anchor="end" font-family="'DejaVu Sans','Liberation Sans',sans-serif" font-size="9.72" fill="#666666">0.6 k</text><text x="60" y="369.8" text-anchor="end" font-family="'DejaVu Sans','Liberation Sans',sans-serif" font-size="9.72" fill="#666666">0.7 k</text><text x="60" y="351.8" text-anchor="end" font-family="'DejaVu Sans','Liberation Sans',sans-serif" font-size="9.72" fill="#666666">0.8 k</text><text x="60" y="332.8" text-anchor="end" font-family="'DejaVu Sans','Liberation Sans',sans-serif" font-size="9.72" fill="#666666">0.9 k</text><text x="60" y="313.8" text-anchor="end" font-family="'DejaVu Sans','Liberation Sans',sans-serif" font-size="9.72" fill="#666666">1.0 k</text><text x="60" y="294.8" text-anchor="end" font-family="'DejaVu Sans','Liberation Sans',sans-serif" font-size="9.72" fill="#666666">1.1 k</text><text x="60" y="276.8" text-anchor="end" font-family="'DejaVu Sans','Liberation Sans',sans-serif" font-size="9.72" fill="#666666">1.2 k</text><text x="60" y="257.8" text-anchor="end" font-family="'DejaVu Sans','Liberation Sans',sans-serif" font-size="9.72" fill="#666666">1.3 k</text><text x="60" y="238.8" text-anchor="end" font-family="'DejaVu Sans','Liberation Sans',sans-serif" font-size="9.72" fill="#666666">1.4 k</text><text x="60" y="219.8" text-anchor="end" font-family="'DejaVu Sans','Liberation Sans',sans-serif" font-size="9.72" fill="#666666">1.5 k</text><text x="60" y="201.8" text-anchor="end" font-family="'DejaVu Sans','Liberation Sans',sans-serif" font-size="9.72" fill="#666666">1.6 k</text><text x="60" y="182.8" text-anchor="end" font-family="'DejaVu Sans','Liberation Sans',sans-serif" font-size="9.72" fill="#666666">1.7 k</text><text x="60" y="163.8" text-anchor="end" font-family="'DejaVu Sans','Liberation Sans',sans-serif" font-size="9.72" fill="#666666">1.8 k</text><text x="60" y="144.8" text-anchor="end" font-family="'DejaVu Sans','Liberation Sans',sans-serif" font-size="9.72" fill="#666666">1.9 k</text><text x="60" y="126.8" text-anchor="end" font-family="'DejaVu Sans','Liberation Sans',sans-serif" font-size="9.72" fill="#666666">2.0 k</text><text x="60" y="107.8" text-anchor="end" font-family="'DejaVu Sans','Liberation Sans',sans-serif" font-size="9.72" fill="#666666">2.1 k</text><text x="60" y="88.8" text-anchor="end" font-family="'DejaVu Sans','Liberation Sans',sans-serif" font-size="9.72" fill="#666666">2.2 k</text><text x="60" y="69.8" text-anchor="end" font-family="'DejaVu Sans','Liberation Sans',sans-serif" font-size="9.72" fill="#666666">2.3 k</text><text x="60" y="51.8" text-anchor="end" font-family="'DejaVu Sans','Liberation Sans',sans-serif" font-size="9.72" fill="#666666">2.4 k</text><text x="60" y="32.8" text-anchor="end" font-family="'DejaVu Sans','Liberation Sans',sans-serif" font-size="9.72" fill="#666666">2.5 k</text><text x="137.9" y="491.3" text-anchor="middle" font-family="'DejaVu Sans','Liberation Sans',sans-serif" font-size="9.72" fill="#666666">January 2025</text><text x="237.3" y="491.3" text-anchor="middle" font-family="'DejaVu Sans','Liberation Sans',sans-serif" font-size="9.72" fill="#666666">March 2025</text><text x="340.1" y="491.3" text-anchor="middle" font-family="'DejaVu Sans','Liberation Sans',sans-serif" font-size="9.72" fill="#666666">May 2025</text><text x="442.9" y="491.3" text-anchor="middle" font-family="'DejaVu Sans','Liberation Sans',sans-serif" font-size="9.72" fill="#666666">July 2025</text><text x="547.3" y="491.3" text-anchor="middle" font-family="'DejaVu Sans','Liberation Sans',sans-serif" font-size="9.72" fill="#666666">September 2025</text><text x="650.1" y="491.3" text-anchor="middle" font-family="'DejaVu Sans','Liberation Sans',sans-serif" font-size="9.72" fill="#666666">November 2025</text><text transform="translate(13.7,253) rotate(-90)" text-anchor="middle" font-family="'DejaVu Sans','Liberation Sans',sans-serif" font-size="11.1" fill="#666666">pages free</text><text transform="translate(759.2,54) rotate(90)" text-anchor="middle" font-family="'DejaVu Sans','Liberation Sans',sans-serif" font-size="7.64" fill="#c6c6c6">RRDTOOL / TOBI OETIKER</text><text x="385" y="673.9" text-anchor="middle" font-family="'DejaVu Sans','Liberation Sans',sans-serif" font-size="7.9" fill="#c6c6c6">Munin 2.0.75</text><text x="302.7" y="505.20" font-family="'DejaVu Sans Mono','Liberation Mono',monospace" font-size="9.5" letter-spacing="0.28" fill="#666666" style="white-space:pre">Cur:</text><text x="441.9" y="505.20" font-family="'DejaVu Sans Mono','Liberation Mono',monospace" font-size="9.5" letter-spacing="0.28" fill="#666666" style="white-space:pre">Min:</text><text x="581.3" y="505.20" font-family="'DejaVu Sans Mono','Liberation Mono',monospace" font-size="9.5" letter-spacing="0.28" fill="#666666" style="white-space:pre">Avg:</text><text x="720.3" y="505.20" font-family="'DejaVu Sans Mono','Liberation Mono',monospace" font-size="9.5" letter-spacing="0.28" fill="#666666" style="white-space:pre">Max:</text><rect x="14" y="512" width="6" height="6" fill="#00CC00"/><text x="25.9" y="517.40" font-family="'DejaVu Sans Mono','Liberation Mono',monospace" font-size="9.5" letter-spacing="0.28" fill="#666666" style="white-space:pre">Chunks of (2^ 0) * Page size</text><text x="296.5" y="517.40" font-family="'DejaVu Sans Mono','Liberation Mono',monospace" font-size="9.5" letter-spacing="0.28" fill="#666666" style="white-space:pre">865.86 </text><text x="436.0" y="517.40" font-family="'DejaVu Sans Mono','Liberation Mono',monospace" font-size="9.5" letter-spacing="0.28" fill="#666666" style="white-space:pre">  0.00 </text><text x="575.4" y="517.40" font-family="'DejaVu Sans Mono','Liberation Mono',monospace" font-size="9.5" letter-spacing="0.28" fill="#666666" style="white-space:pre">485.15 </text><text x="714.6999999999999" y="517.40" font-family="'DejaVu Sans Mono','Liberation Mono',monospace" font-size="9.5" letter-spacing="0.28" fill="#666666" style="white-space:pre"> 23.58k</text><rect x="14" y="524" width="6" height="6" fill="#0066B3"/><text x="25.9" y="529.43" font-family="'DejaVu Sans Mono','Liberation Mono',monospace" font-size="9.5" letter-spacing="0.28" fill="#666666" style="white-space:pre">Chunks of (2^ 1) * Page size</text><text x="296.5" y="529.43" font-family="'DejaVu Sans Mono','Liberation Mono',monospace" font-size="9.5" letter-spacing="0.28" fill="#666666" style="white-space:pre">491.31 </text><text x="436.0" y="529.43" font-family="'DejaVu Sans Mono','Liberation Mono',monospace" font-size="9.5" letter-spacing="0.28" fill="#666666" style="white-space:pre">  1.75 </text><text x="575.4" y="529.43" font-family="'DejaVu Sans Mono','Liberation Mono',monospace" font-size="9.5" letter-spacing="0.28" fill="#666666" style="white-space:pre">455.68 </text><text x="714.6999999999999" y="529.43" font-family="'DejaVu Sans Mono','Liberation Mono',monospace" font-size="9.5" letter-spacing="0.28" fill="#666666" style="white-space:pre"> 11.71k</text><rect x="14" y="536" width="6" height="6" fill="#FF8000"/><text x="25.9" y="541.46" font-family="'DejaVu Sans Mono','Liberation Mono',monospace" font-size="9.5" letter-spacing="0.28" fill="#666666" style="white-space:pre">Chunks of (2^ 2) * Page size</text><text x="296.5" y="541.46" font-family="'DejaVu Sans Mono','Liberation Mono',monospace" font-size="9.5" letter-spacing="0.28" fill="#666666" style="white-space:pre">323.59 </text><text x="436.0" y="541.46" font-family="'DejaVu Sans Mono','Liberation Mono',monospace" font-size="9.5" letter-spacing="0.28" fill="#666666" style="white-space:pre">  6.43 </text><text x="575.4" y="541.46" font-family="'DejaVu Sans Mono','Liberation Mono',monospace" font-size="9.5" letter-spacing="0.28" fill="#666666" style="white-space:pre">286.85 </text><text x="714.6999999999999" y="541.46" font-family="'DejaVu Sans Mono','Liberation Mono',monospace" font-size="9.5" letter-spacing="0.28" fill="#666666" style="white-space:pre">  2.12k</text><rect x="14" y="548" width="6" height="6" fill="#FFCC00"/><text x="25.9" y="553.49" font-family="'DejaVu Sans Mono','Liberation Mono',monospace" font-size="9.5" letter-spacing="0.28" fill="#666666" style="white-space:pre">Chunks of (2^ 3) * Page size</text><text x="296.5" y="553.49" font-family="'DejaVu Sans Mono','Liberation Mono',monospace" font-size="9.5" letter-spacing="0.28" fill="#666666" style="white-space:pre">206.53 </text><text x="436.0" y="553.49" font-family="'DejaVu Sans Mono','Liberation Mono',monospace" font-size="9.5" letter-spacing="0.28" fill="#666666" style="white-space:pre">  4.00 </text><text x="575.4" y="553.49" font-family="'DejaVu Sans Mono','Liberation Mono',monospace" font-size="9.5" letter-spacing="0.28" fill="#666666" style="white-space:pre">171.44 </text><text x="714.6999999999999" y="553.49" font-family="'DejaVu Sans Mono','Liberation Mono',monospace" font-size="9.5" letter-spacing="0.28" fill="#666666" style="white-space:pre">864.72 </text><rect x="14" y="560" width="6" height="6" fill="#330099"/><text x="25.9" y="565.52" font-family="'DejaVu Sans Mono','Liberation Mono',monospace" font-size="9.5" letter-spacing="0.28" fill="#666666" style="white-space:pre">Chunks of (2^ 4) * Page size</text><text x="296.5" y="565.52" font-family="'DejaVu Sans Mono','Liberation Mono',monospace" font-size="9.5" letter-spacing="0.28" fill="#666666" style="white-space:pre"> 97.68 </text><text x="436.0" y="565.52" font-family="'DejaVu Sans Mono','Liberation Mono',monospace" font-size="9.5" letter-spacing="0.28" fill="#666666" style="white-space:pre">920.00m</text><text x="575.4" y="565.52" font-family="'DejaVu Sans Mono','Liberation Mono',monospace" font-size="9.5" letter-spacing="0.28" fill="#666666" style="white-space:pre"> 84.97 </text><text x="714.6999999999999" y="565.52" font-family="'DejaVu Sans Mono','Liberation Mono',monospace" font-size="9.5" letter-spacing="0.28" fill="#666666" style="white-space:pre">376.80 </text><rect x="14" y="572" width="6" height="6" fill="#990099"/><text x="25.9" y="577.55" font-family="'DejaVu Sans Mono','Liberation Mono',monospace" font-size="9.5" letter-spacing="0.28" fill="#666666" style="white-space:pre">Chunks of (2^ 5) * Page size</text><text x="296.5" y="577.55" font-family="'DejaVu Sans Mono','Liberation Mono',monospace" font-size="9.5" letter-spacing="0.28" fill="#666666" style="white-space:pre"> 27.46 </text><text x="436.0" y="577.55" font-family="'DejaVu Sans Mono','Liberation Mono',monospace" font-size="9.5" letter-spacing="0.28" fill="#666666" style="white-space:pre">  2.19 </text><text x="575.4" y="577.55" font-family="'DejaVu Sans Mono','Liberation Mono',monospace" font-size="9.5" letter-spacing="0.28" fill="#666666" style="white-space:pre"> 31.91 </text><text x="714.6999999999999" y="577.55" font-family="'DejaVu Sans Mono','Liberation Mono',monospace" font-size="9.5" letter-spacing="0.28" fill="#666666" style="white-space:pre">212.40 </text><rect x="14" y="584" width="6" height="6" fill="#CCFF00"/><text x="25.9" y="589.58" font-family="'DejaVu Sans Mono','Liberation Mono',monospace" font-size="9.5" letter-spacing="0.28" fill="#666666" style="white-space:pre">Chunks of (2^ 6) * Page size</text><text x="296.5" y="589.58" font-family="'DejaVu Sans Mono','Liberation Mono',monospace" font-size="9.5" letter-spacing="0.28" fill="#666666" style="white-space:pre">  5.74 </text><text x="436.0" y="589.58" font-family="'DejaVu Sans Mono','Liberation Mono',monospace" font-size="9.5" letter-spacing="0.28" fill="#666666" style="white-space:pre">  0.00 </text><text x="575.4" y="589.58" font-family="'DejaVu Sans Mono','Liberation Mono',monospace" font-size="9.5" letter-spacing="0.28" fill="#666666" style="white-space:pre">  9.02 </text><text x="714.6999999999999" y="589.58" font-family="'DejaVu Sans Mono','Liberation Mono',monospace" font-size="9.5" letter-spacing="0.28" fill="#666666" style="white-space:pre">124.62 </text><rect x="14" y="596" width="6" height="6" fill="#FF0000"/><text x="25.9" y="601.61" font-family="'DejaVu Sans Mono','Liberation Mono',monospace" font-size="9.5" letter-spacing="0.28" fill="#666666" style="white-space:pre">Chunks of (2^ 7) * Page size</text><text x="296.5" y="601.61" font-family="'DejaVu Sans Mono','Liberation Mono',monospace" font-size="9.5" letter-spacing="0.28" fill="#666666" style="white-space:pre">  1.25 </text><text x="436.0" y="601.61" font-family="'DejaVu Sans Mono','Liberation Mono',monospace" font-size="9.5" letter-spacing="0.28" fill="#666666" style="white-space:pre">  0.00 </text><text x="575.4" y="601.61" font-family="'DejaVu Sans Mono','Liberation Mono',monospace" font-size="9.5" letter-spacing="0.28" fill="#666666" style="white-space:pre">  3.05 </text><text x="714.6999999999999" y="601.61" font-family="'DejaVu Sans Mono','Liberation Mono',monospace" font-size="9.5" letter-spacing="0.28" fill="#666666" style="white-space:pre"> 56.00 </text><rect x="14" y="608" width="6" height="6" fill="#808080"/><text x="25.9" y="613.64" font-family="'DejaVu Sans Mono','Liberation Mono',monospace" font-size="9.5" letter-spacing="0.28" fill="#666666" style="white-space:pre">Chunks of (2^ 8) * Page size</text><text x="296.5" y="613.64" font-family="'DejaVu Sans Mono','Liberation Mono',monospace" font-size="9.5" letter-spacing="0.28" fill="#666666" style="white-space:pre">562.12m</text><text x="436.0" y="613.64" font-family="'DejaVu Sans Mono','Liberation Mono',monospace" font-size="9.5" letter-spacing="0.28" fill="#666666" style="white-space:pre">  0.00 </text><text x="575.4" y="613.64" font-family="'DejaVu Sans Mono','Liberation Mono',monospace" font-size="9.5" letter-spacing="0.28" fill="#666666" style="white-space:pre">921.95m</text><text x="714.6999999999999" y="613.64" font-family="'DejaVu Sans Mono','Liberation Mono',monospace" font-size="9.5" letter-spacing="0.28" fill="#666666" style="white-space:pre"> 33.15 </text><rect x="14" y="620" width="6" height="6" fill="#008F00"/><text x="25.9" y="625.67" font-family="'DejaVu Sans Mono','Liberation Mono',monospace" font-size="9.5" letter-spacing="0.28" fill="#666666" style="white-space:pre">Chunks of (2^ 9) * Page size</text><text x="296.5" y="625.67" font-family="'DejaVu Sans Mono','Liberation Mono',monospace" font-size="9.5" letter-spacing="0.28" fill="#666666" style="white-space:pre">  1.26 </text><text x="436.0" y="625.67" font-family="'DejaVu Sans Mono','Liberation Mono',monospace" font-size="9.5" letter-spacing="0.28" fill="#666666" style="white-space:pre">  0.00 </text><text x="575.4" y="625.67" font-family="'DejaVu Sans Mono','Liberation Mono',monospace" font-size="9.5" letter-spacing="0.28" fill="#666666" style="white-space:pre">947.46m</text><text x="714.6999999999999" y="625.67" font-family="'DejaVu Sans Mono','Liberation Mono',monospace" font-size="9.5" letter-spacing="0.28" fill="#666666" style="white-space:pre"> 13.00 </text><rect x="14" y="632" width="6" height="6" fill="#00487D"/><text x="25.9" y="637.70" font-family="'DejaVu Sans Mono','Liberation Mono',monospace" font-size="9.5" letter-spacing="0.28" fill="#666666" style="white-space:pre">Chunks of (2^10) * Page size</text><text x="296.5" y="637.70" font-family="'DejaVu Sans Mono','Liberation Mono',monospace" font-size="9.5" letter-spacing="0.28" fill="#666666" style="white-space:pre"> 13.89m</text><text x="436.0" y="637.70" font-family="'DejaVu Sans Mono','Liberation Mono',monospace" font-size="9.5" letter-spacing="0.28" fill="#666666" style="white-space:pre">  0.00 </text><text x="575.4" y="637.70" font-family="'DejaVu Sans Mono','Liberation Mono',monospace" font-size="9.5" letter-spacing="0.28" fill="#666666" style="white-space:pre"> 22.42m</text><text x="714.6999999999999" y="637.70" font-family="'DejaVu Sans Mono','Liberation Mono',monospace" font-size="9.5" letter-spacing="0.28" fill="#666666" style="white-space:pre"> 15.78 </text><rect x="14" y="644" width="6" height="6" fill="#000000"/><text x="25.9" y="649.73" font-family="'DejaVu Sans Mono','Liberation Mono',monospace" font-size="9.5" letter-spacing="0.28" fill="#666666" style="white-space:pre">Total</text><text x="296.5" y="649.73" font-family="'DejaVu Sans Mono','Liberation Mono',monospace" font-size="9.5" letter-spacing="0.28" fill="#666666" style="white-space:pre">  2.02k</text><text x="436.0" y="649.73" font-family="'DejaVu Sans Mono','Liberation Mono',monospace" font-size="9.5" letter-spacing="0.28" fill="#666666" style="white-space:pre"> 55.76 </text><text x="575.4" y="649.73" font-family="'DejaVu Sans Mono','Liberation Mono',monospace" font-size="9.5" letter-spacing="0.28" fill="#666666" style="white-space:pre">  1.53k</text><text x="714.6999999999999" y="649.73" font-family="'DejaVu Sans Mono','Liberation Mono',monospace" font-size="9.5" letter-spacing="0.28" fill="#666666" style="white-space:pre"> 32.55k</text><text x="534.6999999999999" y="661.76" font-family="'DejaVu Sans Mono','Liberation Mono',monospace" font-size="9.5" letter-spacing="0.28" fill="#666666" style="white-space:pre">Last update: Thu Jan  8 16:00:20 2026</text></g>
</svg></body></html>
